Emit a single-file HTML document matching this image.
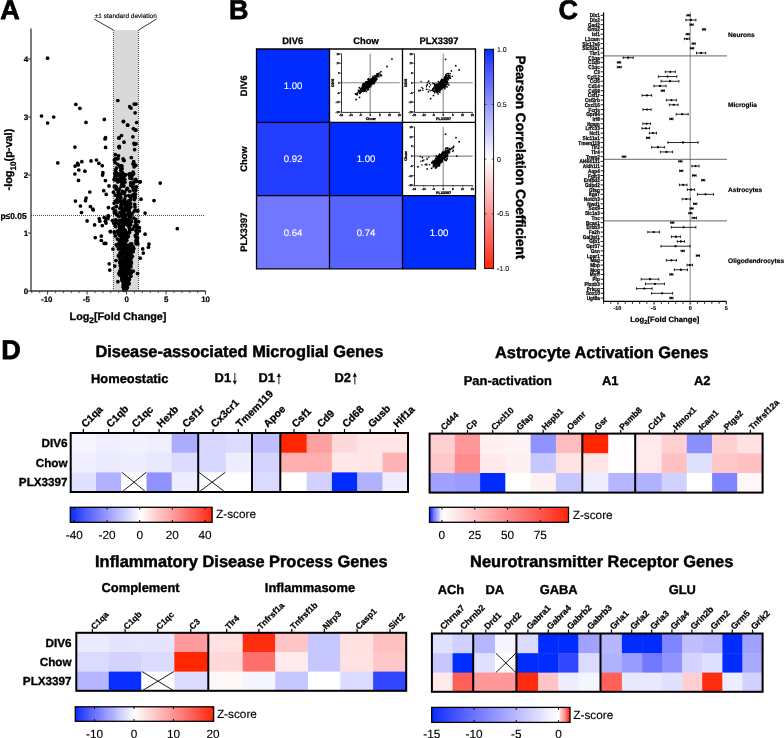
<!DOCTYPE html>
<html><head><meta charset="utf-8"><style>
html,body{margin:0;padding:0;background:#fff;width:784px;height:738px;overflow:hidden}
svg{display:block;font-family:"Liberation Sans",sans-serif;will-change:transform;text-rendering:geometricPrecision}
</style></head><body>
<svg width="784" height="738" viewBox="0 0 784 738">
<rect width="784" height="738" fill="#fff"/>
<text x="0.3" y="18.9" style="font-size:27px;font-weight:bold;" fill="#000" stroke="#000" stroke-width="0.76">A</text>
<rect x="113.4" y="30" width="25.2" height="261" fill="#d9d9d9"/>
<line x1="113.4" y1="30" x2="113.4" y2="291" stroke="#333" stroke-width="0.9" stroke-dasharray="1,1"/>
<line x1="138.6" y1="30" x2="138.6" y2="291" stroke="#333" stroke-width="0.9" stroke-dasharray="1,1"/>
<text x="125.8" y="17.6" style="font-size:6.5px;" text-anchor="middle" fill="#000" stroke="#000" stroke-width="0.15">&#177;1 standard deviation</text>
<line x1="94" y1="19" x2="113.4" y2="30" stroke="#111" stroke-width="0.85"/>
<line x1="156.5" y1="19" x2="138.6" y2="30" stroke="#111" stroke-width="0.85"/>
<line x1="31" y1="215.5" x2="204" y2="215.5" stroke="#333" stroke-width="0.9" stroke-dasharray="1,1"/>
<circle cx="47.6" cy="58.2" r="1.85" fill="#000"/>
<circle cx="75.8" cy="104.3" r="1.85" fill="#000"/>
<circle cx="79.9" cy="108.3" r="1.85" fill="#000"/>
<circle cx="41.5" cy="116" r="1.85" fill="#000"/>
<circle cx="53.7" cy="117" r="1.85" fill="#000"/>
<circle cx="47.6" cy="123" r="1.85" fill="#000"/>
<circle cx="86" cy="122.4" r="1.85" fill="#000"/>
<circle cx="104.3" cy="119.4" r="1.85" fill="#000"/>
<circle cx="117.8" cy="100.5" r="1.85" fill="#000"/>
<circle cx="129.7" cy="106.7" r="1.85" fill="#000"/>
<circle cx="131" cy="108.1" r="1.85" fill="#000"/>
<circle cx="123.5" cy="121.6" r="1.85" fill="#000"/>
<circle cx="127.6" cy="125" r="1.85" fill="#000"/>
<circle cx="105.6" cy="137.7" r="1.85" fill="#000"/>
<circle cx="105" cy="138.9" r="1.85" fill="#000"/>
<circle cx="74.9" cy="147.1" r="1.85" fill="#000"/>
<circle cx="105.6" cy="147.4" r="1.85" fill="#000"/>
<circle cx="57.8" cy="162.9" r="1.85" fill="#000"/>
<circle cx="77.6" cy="163.3" r="1.85" fill="#000"/>
<circle cx="75.1" cy="166.1" r="1.85" fill="#000"/>
<circle cx="78.2" cy="164.9" r="1.85" fill="#000"/>
<circle cx="81.8" cy="161.7" r="1.85" fill="#000"/>
<circle cx="91" cy="160.9" r="1.85" fill="#000"/>
<circle cx="96.5" cy="160" r="1.85" fill="#000"/>
<circle cx="98.9" cy="163.3" r="1.85" fill="#000"/>
<circle cx="102.2" cy="165.7" r="1.85" fill="#000"/>
<circle cx="78.8" cy="170" r="1.85" fill="#000"/>
<circle cx="84.9" cy="171.2" r="1.85" fill="#000"/>
<circle cx="74.9" cy="174" r="1.85" fill="#000"/>
<circle cx="102.9" cy="172.7" r="1.85" fill="#000"/>
<circle cx="102.6" cy="175.1" r="1.85" fill="#000"/>
<circle cx="78.5" cy="180.4" r="1.85" fill="#000"/>
<circle cx="105.4" cy="180.6" r="1.85" fill="#000"/>
<circle cx="109" cy="185.9" r="1.85" fill="#000"/>
<circle cx="89.8" cy="192" r="1.85" fill="#000"/>
<circle cx="103.8" cy="190.7" r="1.85" fill="#000"/>
<circle cx="106.2" cy="194.4" r="1.85" fill="#000"/>
<circle cx="75.4" cy="201.1" r="1.85" fill="#000"/>
<circle cx="86.1" cy="198" r="1.85" fill="#000"/>
<circle cx="85.5" cy="200.7" r="1.85" fill="#000"/>
<circle cx="80.4" cy="206" r="1.85" fill="#000"/>
<circle cx="90.4" cy="206.6" r="1.85" fill="#000"/>
<circle cx="92.8" cy="209" r="1.85" fill="#000"/>
<circle cx="108.4" cy="207.6" r="1.85" fill="#000"/>
<circle cx="93.3" cy="210" r="1.85" fill="#000"/>
<circle cx="81.5" cy="212.5" r="1.85" fill="#000"/>
<circle cx="99.2" cy="218.7" r="1.85" fill="#000"/>
<circle cx="99.8" cy="221.2" r="1.85" fill="#000"/>
<circle cx="104.2" cy="217.5" r="1.85" fill="#000"/>
<circle cx="108.5" cy="216.2" r="1.85" fill="#000"/>
<circle cx="107.9" cy="218.7" r="1.85" fill="#000"/>
<circle cx="105.4" cy="221.2" r="1.85" fill="#000"/>
<circle cx="106" cy="223.1" r="1.85" fill="#000"/>
<circle cx="112.3" cy="220.6" r="1.85" fill="#000"/>
<circle cx="87.1" cy="220.9" r="1.85" fill="#000"/>
<circle cx="94.6" cy="224.9" r="1.85" fill="#000"/>
<circle cx="102.3" cy="225.6" r="1.85" fill="#000"/>
<circle cx="110.4" cy="231.8" r="1.85" fill="#000"/>
<circle cx="95.3" cy="237.6" r="1.85" fill="#000"/>
<circle cx="101.3" cy="236.1" r="1.85" fill="#000"/>
<circle cx="101.3" cy="240.5" r="1.85" fill="#000"/>
<circle cx="104.2" cy="243.4" r="1.85" fill="#000"/>
<circle cx="105.8" cy="243.4" r="1.85" fill="#000"/>
<circle cx="112.9" cy="249" r="1.85" fill="#000"/>
<circle cx="109.2" cy="263.8" r="1.85" fill="#000"/>
<circle cx="109.8" cy="270.1" r="1.85" fill="#000"/>
<circle cx="114.8" cy="266.1" r="1.85" fill="#000"/>
<circle cx="116" cy="260.5" r="1.85" fill="#000"/>
<circle cx="117.9" cy="281.7" r="1.85" fill="#000"/>
<circle cx="134.2" cy="104.1" r="1.85" fill="#000"/>
<circle cx="135.1" cy="112.8" r="1.85" fill="#000"/>
<circle cx="123.4" cy="121.4" r="1.85" fill="#000"/>
<circle cx="127.7" cy="125.2" r="1.85" fill="#000"/>
<circle cx="136.7" cy="122.5" r="1.85" fill="#000"/>
<circle cx="133.4" cy="128.7" r="1.85" fill="#000"/>
<circle cx="135.3" cy="130.1" r="1.85" fill="#000"/>
<circle cx="121.5" cy="135.5" r="1.85" fill="#000"/>
<circle cx="119.1" cy="137.9" r="1.85" fill="#000"/>
<circle cx="132.9" cy="136.8" r="1.85" fill="#000"/>
<circle cx="124" cy="142.2" r="1.85" fill="#000"/>
<circle cx="134" cy="143.3" r="1.85" fill="#000"/>
<circle cx="134.5" cy="144.4" r="1.85" fill="#000"/>
<circle cx="119.3" cy="146.4" r="1.85" fill="#000"/>
<circle cx="119.3" cy="147.7" r="1.85" fill="#000"/>
<circle cx="134.6" cy="149.6" r="1.85" fill="#000"/>
<circle cx="115.3" cy="154.7" r="1.85" fill="#000"/>
<circle cx="118.5" cy="155.8" r="1.85" fill="#000"/>
<circle cx="118" cy="158.7" r="1.85" fill="#000"/>
<circle cx="131.3" cy="157.6" r="1.85" fill="#000"/>
<circle cx="133.7" cy="161.5" r="1.85" fill="#000"/>
<circle cx="118.8" cy="138" r="1.85" fill="#000"/>
<circle cx="118.8" cy="146.8" r="1.85" fill="#000"/>
<circle cx="136" cy="104" r="1.85" fill="#000"/>
<circle cx="136" cy="130" r="1.85" fill="#000"/>
<circle cx="136" cy="143.8" r="1.85" fill="#000"/>
<circle cx="140.2" cy="181.7" r="1.85" fill="#000"/>
<circle cx="160.2" cy="183.1" r="1.85" fill="#000"/>
<circle cx="141" cy="199.2" r="1.85" fill="#000"/>
<circle cx="154" cy="200.6" r="1.85" fill="#000"/>
<circle cx="145.1" cy="213.1" r="1.85" fill="#000"/>
<circle cx="138.6" cy="221.7" r="1.85" fill="#000"/>
<circle cx="139.4" cy="227.7" r="1.85" fill="#000"/>
<circle cx="139.4" cy="231" r="1.85" fill="#000"/>
<circle cx="145.1" cy="234.2" r="1.85" fill="#000"/>
<circle cx="177.3" cy="228.7" r="1.85" fill="#000"/>
<circle cx="139.8" cy="182.1" r="1.85" fill="#000"/>
<circle cx="149" cy="244.1" r="1.85" fill="#000"/>
<circle cx="148.4" cy="247.2" r="1.85" fill="#000"/>
<circle cx="142.7" cy="248.9" r="1.85" fill="#000"/>
<circle cx="143.3" cy="253.1" r="1.85" fill="#000"/>
<circle cx="140.2" cy="258.2" r="1.85" fill="#000"/>
<circle cx="137.6" cy="273.6" r="1.85" fill="#000"/>
<circle cx="106" cy="218.5" r="1.85" fill="#000"/>
<circle cx="108.2" cy="215.8" r="1.85" fill="#000"/>
<circle cx="110.4" cy="231.3" r="1.85" fill="#000"/>
<circle cx="115.09" cy="162.53" r="1.85" fill="#000"/>
<circle cx="121.03" cy="165.5" r="1.85" fill="#000"/>
<circle cx="123.06" cy="158.81" r="1.85" fill="#000"/>
<circle cx="115.95" cy="158.98" r="1.85" fill="#000"/>
<circle cx="134.11" cy="163.94" r="1.85" fill="#000"/>
<circle cx="134.1" cy="166.78" r="1.85" fill="#000"/>
<circle cx="121.96" cy="166.08" r="1.85" fill="#000"/>
<circle cx="115.42" cy="170.02" r="1.85" fill="#000"/>
<circle cx="114.31" cy="160.02" r="1.85" fill="#000"/>
<circle cx="124.08" cy="160.53" r="1.85" fill="#000"/>
<circle cx="120.98" cy="166.94" r="1.85" fill="#000"/>
<circle cx="115.31" cy="158.83" r="1.85" fill="#000"/>
<circle cx="120.72" cy="167.53" r="1.85" fill="#000"/>
<circle cx="117.7" cy="164.34" r="1.85" fill="#000"/>
<circle cx="121.57" cy="169.12" r="1.85" fill="#000"/>
<circle cx="135.87" cy="165.35" r="1.85" fill="#000"/>
<circle cx="116.4" cy="168.21" r="1.85" fill="#000"/>
<circle cx="132.86" cy="163.85" r="1.85" fill="#000"/>
<circle cx="123.66" cy="160.13" r="1.85" fill="#000"/>
<circle cx="122.04" cy="168.7" r="1.85" fill="#000"/>
<circle cx="120.82" cy="170.26" r="1.85" fill="#000"/>
<circle cx="119.6" cy="166.12" r="1.85" fill="#000"/>
<circle cx="128.71" cy="195.52" r="1.85" fill="#000"/>
<circle cx="133.12" cy="173.7" r="1.85" fill="#000"/>
<circle cx="133.43" cy="190.12" r="1.85" fill="#000"/>
<circle cx="130.59" cy="182.8" r="1.85" fill="#000"/>
<circle cx="122.44" cy="172.63" r="1.85" fill="#000"/>
<circle cx="133.63" cy="173.65" r="1.85" fill="#000"/>
<circle cx="124.31" cy="174.26" r="1.85" fill="#000"/>
<circle cx="134.69" cy="187.38" r="1.85" fill="#000"/>
<circle cx="118.74" cy="179.8" r="1.85" fill="#000"/>
<circle cx="133.94" cy="182.05" r="1.85" fill="#000"/>
<circle cx="115.2" cy="176.93" r="1.85" fill="#000"/>
<circle cx="120.81" cy="178.53" r="1.85" fill="#000"/>
<circle cx="121.25" cy="172.11" r="1.85" fill="#000"/>
<circle cx="124.64" cy="182.34" r="1.85" fill="#000"/>
<circle cx="121.2" cy="186.43" r="1.85" fill="#000"/>
<circle cx="118.31" cy="190.93" r="1.85" fill="#000"/>
<circle cx="129.83" cy="196.49" r="1.85" fill="#000"/>
<circle cx="124.03" cy="182.99" r="1.85" fill="#000"/>
<circle cx="117.22" cy="173.74" r="1.85" fill="#000"/>
<circle cx="115.15" cy="177.85" r="1.85" fill="#000"/>
<circle cx="116.05" cy="172.01" r="1.85" fill="#000"/>
<circle cx="125.62" cy="174.84" r="1.85" fill="#000"/>
<circle cx="116.15" cy="189.19" r="1.85" fill="#000"/>
<circle cx="121.39" cy="179.06" r="1.85" fill="#000"/>
<circle cx="133.5" cy="195.77" r="1.85" fill="#000"/>
<circle cx="122.72" cy="185.05" r="1.85" fill="#000"/>
<circle cx="122.43" cy="181.59" r="1.85" fill="#000"/>
<circle cx="120.36" cy="195.21" r="1.85" fill="#000"/>
<circle cx="116.21" cy="186.79" r="1.85" fill="#000"/>
<circle cx="131.23" cy="196.17" r="1.85" fill="#000"/>
<circle cx="123.54" cy="179.31" r="1.85" fill="#000"/>
<circle cx="136.38" cy="186.91" r="1.85" fill="#000"/>
<circle cx="117.68" cy="181.23" r="1.85" fill="#000"/>
<circle cx="125.52" cy="195.87" r="1.85" fill="#000"/>
<circle cx="132.96" cy="194.91" r="1.85" fill="#000"/>
<circle cx="117.89" cy="181.96" r="1.85" fill="#000"/>
<circle cx="121.84" cy="172.78" r="1.85" fill="#000"/>
<circle cx="124.76" cy="198.78" r="1.85" fill="#000"/>
<circle cx="134.88" cy="198.24" r="1.85" fill="#000"/>
<circle cx="114.97" cy="178.17" r="1.85" fill="#000"/>
<circle cx="119.28" cy="195.53" r="1.85" fill="#000"/>
<circle cx="135.79" cy="190.28" r="1.85" fill="#000"/>
<circle cx="134.44" cy="197.47" r="1.85" fill="#000"/>
<circle cx="123.38" cy="193" r="1.85" fill="#000"/>
<circle cx="136.63" cy="181.31" r="1.85" fill="#000"/>
<circle cx="118.45" cy="199.21" r="1.85" fill="#000"/>
<circle cx="118.31" cy="192.29" r="1.85" fill="#000"/>
<circle cx="118.5" cy="175.56" r="1.85" fill="#000"/>
<circle cx="129.85" cy="176.09" r="1.85" fill="#000"/>
<circle cx="130.57" cy="199.45" r="1.85" fill="#000"/>
<circle cx="117.54" cy="175.67" r="1.85" fill="#000"/>
<circle cx="117.87" cy="199.18" r="1.85" fill="#000"/>
<circle cx="131.49" cy="184.15" r="1.85" fill="#000"/>
<circle cx="115.48" cy="195.13" r="1.85" fill="#000"/>
<circle cx="123.5" cy="178.74" r="1.85" fill="#000"/>
<circle cx="124.68" cy="179.26" r="1.85" fill="#000"/>
<circle cx="124.9" cy="181.91" r="1.85" fill="#000"/>
<circle cx="127.4" cy="188.33" r="1.85" fill="#000"/>
<circle cx="123.92" cy="186.05" r="1.85" fill="#000"/>
<circle cx="114.32" cy="186.66" r="1.85" fill="#000"/>
<circle cx="133.11" cy="172.11" r="1.85" fill="#000"/>
<circle cx="121.64" cy="176.83" r="1.85" fill="#000"/>
<circle cx="119.73" cy="181.13" r="1.85" fill="#000"/>
<circle cx="135.12" cy="187.55" r="1.85" fill="#000"/>
<circle cx="123.43" cy="178.96" r="1.85" fill="#000"/>
<circle cx="119.18" cy="193.62" r="1.85" fill="#000"/>
<circle cx="120.85" cy="197.55" r="1.85" fill="#000"/>
<circle cx="119.24" cy="189.15" r="1.85" fill="#000"/>
<circle cx="121.79" cy="184.67" r="1.85" fill="#000"/>
<circle cx="130.83" cy="185.39" r="1.85" fill="#000"/>
<circle cx="118.5" cy="198.38" r="1.85" fill="#000"/>
<circle cx="133.26" cy="187.67" r="1.85" fill="#000"/>
<circle cx="121.17" cy="175.41" r="1.85" fill="#000"/>
<circle cx="118.17" cy="174.03" r="1.85" fill="#000"/>
<circle cx="134.22" cy="193.95" r="1.85" fill="#000"/>
<circle cx="131.73" cy="176.32" r="1.85" fill="#000"/>
<circle cx="131.28" cy="196.72" r="1.85" fill="#000"/>
<circle cx="130.09" cy="178.15" r="1.85" fill="#000"/>
<circle cx="134.29" cy="199.72" r="1.85" fill="#000"/>
<circle cx="120.37" cy="176.52" r="1.85" fill="#000"/>
<circle cx="121.84" cy="177.48" r="1.85" fill="#000"/>
<circle cx="113.47" cy="192.22" r="1.85" fill="#000"/>
<circle cx="121.35" cy="172.51" r="1.85" fill="#000"/>
<circle cx="126.8" cy="189.47" r="1.85" fill="#000"/>
<circle cx="135.46" cy="194.07" r="1.85" fill="#000"/>
<circle cx="125.03" cy="174.93" r="1.85" fill="#000"/>
<circle cx="116.36" cy="179.57" r="1.85" fill="#000"/>
<circle cx="133.34" cy="183.82" r="1.85" fill="#000"/>
<circle cx="130.67" cy="176.18" r="1.85" fill="#000"/>
<circle cx="133.26" cy="187.98" r="1.85" fill="#000"/>
<circle cx="122.33" cy="191.27" r="1.85" fill="#000"/>
<circle cx="129.4" cy="174.03" r="1.85" fill="#000"/>
<circle cx="129" cy="174.34" r="1.85" fill="#000"/>
<circle cx="130.23" cy="173.87" r="1.85" fill="#000"/>
<circle cx="133.18" cy="187.49" r="1.85" fill="#000"/>
<circle cx="114.04" cy="179.5" r="1.85" fill="#000"/>
<circle cx="115.25" cy="175.06" r="1.85" fill="#000"/>
<circle cx="114.85" cy="173.41" r="1.85" fill="#000"/>
<circle cx="123.42" cy="193.27" r="1.85" fill="#000"/>
<circle cx="115.28" cy="186" r="1.85" fill="#000"/>
<circle cx="115.81" cy="179.01" r="1.85" fill="#000"/>
<circle cx="122.76" cy="192.53" r="1.85" fill="#000"/>
<circle cx="117.61" cy="198.17" r="1.85" fill="#000"/>
<circle cx="118.59" cy="194.93" r="1.85" fill="#000"/>
<circle cx="122.11" cy="183.01" r="1.85" fill="#000"/>
<circle cx="129.8" cy="191.26" r="1.85" fill="#000"/>
<circle cx="124.84" cy="191.79" r="1.85" fill="#000"/>
<circle cx="122.89" cy="183.33" r="1.85" fill="#000"/>
<circle cx="132.96" cy="173.98" r="1.85" fill="#000"/>
<circle cx="118.81" cy="179.16" r="1.85" fill="#000"/>
<circle cx="135.03" cy="196.38" r="1.85" fill="#000"/>
<circle cx="114.91" cy="179.89" r="1.85" fill="#000"/>
<circle cx="123.92" cy="176.41" r="1.85" fill="#000"/>
<circle cx="135.72" cy="179.37" r="1.85" fill="#000"/>
<circle cx="131.94" cy="178.84" r="1.85" fill="#000"/>
<circle cx="130.88" cy="206.81" r="1.85" fill="#000"/>
<circle cx="125.04" cy="210.44" r="1.85" fill="#000"/>
<circle cx="129.7" cy="204.42" r="1.85" fill="#000"/>
<circle cx="125.15" cy="201.97" r="1.85" fill="#000"/>
<circle cx="123.54" cy="200.92" r="1.85" fill="#000"/>
<circle cx="129.12" cy="212.88" r="1.85" fill="#000"/>
<circle cx="122.38" cy="216.51" r="1.85" fill="#000"/>
<circle cx="112.95" cy="208.57" r="1.85" fill="#000"/>
<circle cx="123.61" cy="221.66" r="1.85" fill="#000"/>
<circle cx="116.5" cy="200.96" r="1.85" fill="#000"/>
<circle cx="123.89" cy="219.62" r="1.85" fill="#000"/>
<circle cx="114.08" cy="203.06" r="1.85" fill="#000"/>
<circle cx="128.78" cy="211.1" r="1.85" fill="#000"/>
<circle cx="114.43" cy="212.85" r="1.85" fill="#000"/>
<circle cx="125.19" cy="215.02" r="1.85" fill="#000"/>
<circle cx="126.5" cy="202.93" r="1.85" fill="#000"/>
<circle cx="117.13" cy="202.31" r="1.85" fill="#000"/>
<circle cx="121.97" cy="213.78" r="1.85" fill="#000"/>
<circle cx="127.94" cy="210.76" r="1.85" fill="#000"/>
<circle cx="115.48" cy="211.07" r="1.85" fill="#000"/>
<circle cx="124.62" cy="214.5" r="1.85" fill="#000"/>
<circle cx="120.44" cy="201.64" r="1.85" fill="#000"/>
<circle cx="123.95" cy="216.05" r="1.85" fill="#000"/>
<circle cx="125.88" cy="210.54" r="1.85" fill="#000"/>
<circle cx="116.73" cy="214.14" r="1.85" fill="#000"/>
<circle cx="124.78" cy="203.24" r="1.85" fill="#000"/>
<circle cx="119.89" cy="212.49" r="1.85" fill="#000"/>
<circle cx="120.66" cy="201.33" r="1.85" fill="#000"/>
<circle cx="116.87" cy="214.87" r="1.85" fill="#000"/>
<circle cx="122.05" cy="211.36" r="1.85" fill="#000"/>
<circle cx="125.63" cy="219.66" r="1.85" fill="#000"/>
<circle cx="131.61" cy="221.52" r="1.85" fill="#000"/>
<circle cx="125.73" cy="218.04" r="1.85" fill="#000"/>
<circle cx="128.61" cy="209.89" r="1.85" fill="#000"/>
<circle cx="128.06" cy="203.12" r="1.85" fill="#000"/>
<circle cx="124.06" cy="218.04" r="1.85" fill="#000"/>
<circle cx="126.5" cy="219.51" r="1.85" fill="#000"/>
<circle cx="137.72" cy="210.7" r="1.85" fill="#000"/>
<circle cx="120.15" cy="200.08" r="1.85" fill="#000"/>
<circle cx="126.55" cy="203.1" r="1.85" fill="#000"/>
<circle cx="135" cy="206.95" r="1.85" fill="#000"/>
<circle cx="125.11" cy="218.46" r="1.85" fill="#000"/>
<circle cx="129.04" cy="220.38" r="1.85" fill="#000"/>
<circle cx="122.12" cy="208.19" r="1.85" fill="#000"/>
<circle cx="120.94" cy="221.97" r="1.85" fill="#000"/>
<circle cx="129.87" cy="206.05" r="1.85" fill="#000"/>
<circle cx="121.88" cy="202.24" r="1.85" fill="#000"/>
<circle cx="114.5" cy="211.24" r="1.85" fill="#000"/>
<circle cx="135.72" cy="219.45" r="1.85" fill="#000"/>
<circle cx="132.05" cy="213.88" r="1.85" fill="#000"/>
<circle cx="122.24" cy="215.83" r="1.85" fill="#000"/>
<circle cx="125.14" cy="216.11" r="1.85" fill="#000"/>
<circle cx="116.37" cy="206.3" r="1.85" fill="#000"/>
<circle cx="119.58" cy="220.39" r="1.85" fill="#000"/>
<circle cx="125.96" cy="206.55" r="1.85" fill="#000"/>
<circle cx="122.17" cy="221.48" r="1.85" fill="#000"/>
<circle cx="120.78" cy="212.26" r="1.85" fill="#000"/>
<circle cx="128.41" cy="203.68" r="1.85" fill="#000"/>
<circle cx="137.59" cy="210.94" r="1.85" fill="#000"/>
<circle cx="121.87" cy="219.94" r="1.85" fill="#000"/>
<circle cx="126.02" cy="204.23" r="1.85" fill="#000"/>
<circle cx="125.32" cy="207.52" r="1.85" fill="#000"/>
<circle cx="129.63" cy="212.53" r="1.85" fill="#000"/>
<circle cx="118.73" cy="216.49" r="1.85" fill="#000"/>
<circle cx="128.77" cy="208.29" r="1.85" fill="#000"/>
<circle cx="128.05" cy="201.37" r="1.85" fill="#000"/>
<circle cx="124.37" cy="211.07" r="1.85" fill="#000"/>
<circle cx="124.4" cy="218.98" r="1.85" fill="#000"/>
<circle cx="129.5" cy="208.79" r="1.85" fill="#000"/>
<circle cx="125.88" cy="220.99" r="1.85" fill="#000"/>
<circle cx="124.1" cy="200.71" r="1.85" fill="#000"/>
<circle cx="124.9" cy="219.71" r="1.85" fill="#000"/>
<circle cx="124.94" cy="208.61" r="1.85" fill="#000"/>
<circle cx="129.47" cy="218.16" r="1.85" fill="#000"/>
<circle cx="124.21" cy="202.4" r="1.85" fill="#000"/>
<circle cx="133.96" cy="211.49" r="1.85" fill="#000"/>
<circle cx="121.55" cy="214.24" r="1.85" fill="#000"/>
<circle cx="135.16" cy="210.06" r="1.85" fill="#000"/>
<circle cx="127.58" cy="205.12" r="1.85" fill="#000"/>
<circle cx="128.17" cy="214.2" r="1.85" fill="#000"/>
<circle cx="128.29" cy="214" r="1.85" fill="#000"/>
<circle cx="117.16" cy="202.47" r="1.85" fill="#000"/>
<circle cx="123.79" cy="208.54" r="1.85" fill="#000"/>
<circle cx="122.88" cy="213.22" r="1.85" fill="#000"/>
<circle cx="131.32" cy="221.1" r="1.85" fill="#000"/>
<circle cx="125.43" cy="219.44" r="1.85" fill="#000"/>
<circle cx="129.5" cy="221.13" r="1.85" fill="#000"/>
<circle cx="116.01" cy="206.76" r="1.85" fill="#000"/>
<circle cx="125.1" cy="209.24" r="1.85" fill="#000"/>
<circle cx="125.23" cy="214.68" r="1.85" fill="#000"/>
<circle cx="126.56" cy="207.44" r="1.85" fill="#000"/>
<circle cx="127.87" cy="215.02" r="1.85" fill="#000"/>
<circle cx="115.59" cy="211.11" r="1.85" fill="#000"/>
<circle cx="126.85" cy="221.34" r="1.85" fill="#000"/>
<circle cx="121.07" cy="204.87" r="1.85" fill="#000"/>
<circle cx="121.14" cy="206.49" r="1.85" fill="#000"/>
<circle cx="125.1" cy="204.91" r="1.85" fill="#000"/>
<circle cx="128.64" cy="214.64" r="1.85" fill="#000"/>
<circle cx="129.77" cy="204.68" r="1.85" fill="#000"/>
<circle cx="130.58" cy="203.12" r="1.85" fill="#000"/>
<circle cx="127.21" cy="219.76" r="1.85" fill="#000"/>
<circle cx="129.87" cy="216.12" r="1.85" fill="#000"/>
<circle cx="122.77" cy="204.08" r="1.85" fill="#000"/>
<circle cx="122" cy="216.42" r="1.85" fill="#000"/>
<circle cx="119.97" cy="208.23" r="1.85" fill="#000"/>
<circle cx="123.96" cy="203.72" r="1.85" fill="#000"/>
<circle cx="130.49" cy="221.02" r="1.85" fill="#000"/>
<circle cx="118.08" cy="221.21" r="1.85" fill="#000"/>
<circle cx="133.73" cy="218.08" r="1.85" fill="#000"/>
<circle cx="115.61" cy="201.08" r="1.85" fill="#000"/>
<circle cx="134.66" cy="204.25" r="1.85" fill="#000"/>
<circle cx="115.71" cy="219.73" r="1.85" fill="#000"/>
<circle cx="130.83" cy="216.87" r="1.85" fill="#000"/>
<circle cx="129.05" cy="200.77" r="1.85" fill="#000"/>
<circle cx="122.77" cy="216.44" r="1.85" fill="#000"/>
<circle cx="129.68" cy="229.8" r="1.85" fill="#000"/>
<circle cx="121.18" cy="228.03" r="1.85" fill="#000"/>
<circle cx="131.39" cy="229.28" r="1.85" fill="#000"/>
<circle cx="123.2" cy="243.08" r="1.85" fill="#000"/>
<circle cx="123.57" cy="243.69" r="1.85" fill="#000"/>
<circle cx="137.86" cy="244.01" r="1.85" fill="#000"/>
<circle cx="117.72" cy="230.89" r="1.85" fill="#000"/>
<circle cx="125.49" cy="243.35" r="1.85" fill="#000"/>
<circle cx="126.8" cy="240.46" r="1.85" fill="#000"/>
<circle cx="115.28" cy="235.97" r="1.85" fill="#000"/>
<circle cx="123.41" cy="229.35" r="1.85" fill="#000"/>
<circle cx="121.01" cy="226.54" r="1.85" fill="#000"/>
<circle cx="129.2" cy="227.69" r="1.85" fill="#000"/>
<circle cx="136.82" cy="229.49" r="1.85" fill="#000"/>
<circle cx="136.45" cy="242.32" r="1.85" fill="#000"/>
<circle cx="125.09" cy="224.22" r="1.85" fill="#000"/>
<circle cx="123.51" cy="238.32" r="1.85" fill="#000"/>
<circle cx="128.17" cy="236.27" r="1.85" fill="#000"/>
<circle cx="121.7" cy="239.2" r="1.85" fill="#000"/>
<circle cx="120.82" cy="241.34" r="1.85" fill="#000"/>
<circle cx="122.75" cy="235.04" r="1.85" fill="#000"/>
<circle cx="119.68" cy="227.69" r="1.85" fill="#000"/>
<circle cx="135.56" cy="225.53" r="1.85" fill="#000"/>
<circle cx="136" cy="231.11" r="1.85" fill="#000"/>
<circle cx="125.61" cy="233.67" r="1.85" fill="#000"/>
<circle cx="116.21" cy="244.79" r="1.85" fill="#000"/>
<circle cx="128.97" cy="232.92" r="1.85" fill="#000"/>
<circle cx="113.66" cy="222.93" r="1.85" fill="#000"/>
<circle cx="129.52" cy="224.74" r="1.85" fill="#000"/>
<circle cx="121.88" cy="243.39" r="1.85" fill="#000"/>
<circle cx="122.46" cy="241.92" r="1.85" fill="#000"/>
<circle cx="131.66" cy="243.75" r="1.85" fill="#000"/>
<circle cx="123.97" cy="235.71" r="1.85" fill="#000"/>
<circle cx="127.7" cy="225.25" r="1.85" fill="#000"/>
<circle cx="121.05" cy="227.86" r="1.85" fill="#000"/>
<circle cx="120.25" cy="222.26" r="1.85" fill="#000"/>
<circle cx="121.72" cy="237.6" r="1.85" fill="#000"/>
<circle cx="126.12" cy="240.29" r="1.85" fill="#000"/>
<circle cx="118" cy="223.46" r="1.85" fill="#000"/>
<circle cx="126.86" cy="236.7" r="1.85" fill="#000"/>
<circle cx="119.56" cy="225.76" r="1.85" fill="#000"/>
<circle cx="137.03" cy="229.07" r="1.85" fill="#000"/>
<circle cx="119.76" cy="229.18" r="1.85" fill="#000"/>
<circle cx="137.47" cy="241.88" r="1.85" fill="#000"/>
<circle cx="122.54" cy="230.37" r="1.85" fill="#000"/>
<circle cx="135.7" cy="222.14" r="1.85" fill="#000"/>
<circle cx="114.39" cy="231.75" r="1.85" fill="#000"/>
<circle cx="128.75" cy="232.6" r="1.85" fill="#000"/>
<circle cx="116.04" cy="222.34" r="1.85" fill="#000"/>
<circle cx="114.52" cy="224.05" r="1.85" fill="#000"/>
<circle cx="125.48" cy="230.53" r="1.85" fill="#000"/>
<circle cx="137.28" cy="233.99" r="1.85" fill="#000"/>
<circle cx="127.41" cy="224.5" r="1.85" fill="#000"/>
<circle cx="136.1" cy="243.69" r="1.85" fill="#000"/>
<circle cx="123.18" cy="243.3" r="1.85" fill="#000"/>
<circle cx="124.33" cy="242.8" r="1.85" fill="#000"/>
<circle cx="120.36" cy="240.07" r="1.85" fill="#000"/>
<circle cx="124.52" cy="231.3" r="1.85" fill="#000"/>
<circle cx="120.21" cy="227.02" r="1.85" fill="#000"/>
<circle cx="125.7" cy="233.91" r="1.85" fill="#000"/>
<circle cx="137.13" cy="238.67" r="1.85" fill="#000"/>
<circle cx="123.07" cy="222.95" r="1.85" fill="#000"/>
<circle cx="121.61" cy="241.28" r="1.85" fill="#000"/>
<circle cx="120.02" cy="235.79" r="1.85" fill="#000"/>
<circle cx="119.94" cy="231.66" r="1.85" fill="#000"/>
<circle cx="117.93" cy="231.79" r="1.85" fill="#000"/>
<circle cx="124.76" cy="222.54" r="1.85" fill="#000"/>
<circle cx="123.74" cy="233.26" r="1.85" fill="#000"/>
<circle cx="114.33" cy="232.54" r="1.85" fill="#000"/>
<circle cx="126.67" cy="232.88" r="1.85" fill="#000"/>
<circle cx="126.83" cy="224.11" r="1.85" fill="#000"/>
<circle cx="121.64" cy="233.73" r="1.85" fill="#000"/>
<circle cx="121.43" cy="238.87" r="1.85" fill="#000"/>
<circle cx="118.13" cy="233.76" r="1.85" fill="#000"/>
<circle cx="122.88" cy="243.87" r="1.85" fill="#000"/>
<circle cx="136.25" cy="241.71" r="1.85" fill="#000"/>
<circle cx="134.31" cy="226.46" r="1.85" fill="#000"/>
<circle cx="137.12" cy="233.31" r="1.85" fill="#000"/>
<circle cx="136.14" cy="240.13" r="1.85" fill="#000"/>
<circle cx="123.11" cy="223.51" r="1.85" fill="#000"/>
<circle cx="120.06" cy="242.62" r="1.85" fill="#000"/>
<circle cx="122.84" cy="226.79" r="1.85" fill="#000"/>
<circle cx="126.09" cy="233.64" r="1.85" fill="#000"/>
<circle cx="136.67" cy="225.71" r="1.85" fill="#000"/>
<circle cx="137.53" cy="237.63" r="1.85" fill="#000"/>
<circle cx="130.65" cy="224.65" r="1.85" fill="#000"/>
<circle cx="127.44" cy="236.64" r="1.85" fill="#000"/>
<circle cx="135.41" cy="235.34" r="1.85" fill="#000"/>
<circle cx="135.68" cy="224.41" r="1.85" fill="#000"/>
<circle cx="119.36" cy="240.35" r="1.85" fill="#000"/>
<circle cx="117.57" cy="244.78" r="1.85" fill="#000"/>
<circle cx="129.54" cy="232.17" r="1.85" fill="#000"/>
<circle cx="124.62" cy="239.1" r="1.85" fill="#000"/>
<circle cx="135.67" cy="236.7" r="1.85" fill="#000"/>
<circle cx="122.89" cy="235.48" r="1.85" fill="#000"/>
<circle cx="123.28" cy="222.78" r="1.85" fill="#000"/>
<circle cx="122.15" cy="225.04" r="1.85" fill="#000"/>
<circle cx="127.68" cy="237.02" r="1.85" fill="#000"/>
<circle cx="123.08" cy="224.45" r="1.85" fill="#000"/>
<circle cx="120.14" cy="227.16" r="1.85" fill="#000"/>
<circle cx="121.21" cy="236.35" r="1.85" fill="#000"/>
<circle cx="136.53" cy="225.1" r="1.85" fill="#000"/>
<circle cx="125.84" cy="224.2" r="1.85" fill="#000"/>
<circle cx="119.8" cy="242.04" r="1.85" fill="#000"/>
<circle cx="125.26" cy="222.26" r="1.85" fill="#000"/>
<circle cx="119.7" cy="234.93" r="1.85" fill="#000"/>
<circle cx="118.71" cy="243.55" r="1.85" fill="#000"/>
<circle cx="137.92" cy="227.72" r="1.85" fill="#000"/>
<circle cx="124.68" cy="231.34" r="1.85" fill="#000"/>
<circle cx="129.31" cy="223.34" r="1.85" fill="#000"/>
<circle cx="123.49" cy="243.64" r="1.85" fill="#000"/>
<circle cx="115.84" cy="226.59" r="1.85" fill="#000"/>
<circle cx="122.69" cy="240.71" r="1.85" fill="#000"/>
<circle cx="133.01" cy="229.12" r="1.85" fill="#000"/>
<circle cx="126.15" cy="240.01" r="1.85" fill="#000"/>
<circle cx="122.83" cy="222.15" r="1.85" fill="#000"/>
<circle cx="117.41" cy="239.06" r="1.85" fill="#000"/>
<circle cx="123.16" cy="227.2" r="1.85" fill="#000"/>
<circle cx="124.4" cy="229.72" r="1.85" fill="#000"/>
<circle cx="122.06" cy="237.99" r="1.85" fill="#000"/>
<circle cx="119.18" cy="234.74" r="1.85" fill="#000"/>
<circle cx="122.31" cy="240.13" r="1.85" fill="#000"/>
<circle cx="130.13" cy="244.2" r="1.85" fill="#000"/>
<circle cx="122.76" cy="242.24" r="1.85" fill="#000"/>
<circle cx="137.38" cy="239.11" r="1.85" fill="#000"/>
<circle cx="128.3" cy="257.68" r="1.85" fill="#000"/>
<circle cx="122.88" cy="249.07" r="1.85" fill="#000"/>
<circle cx="119.43" cy="255.72" r="1.85" fill="#000"/>
<circle cx="119.12" cy="256.86" r="1.85" fill="#000"/>
<circle cx="128.15" cy="254.7" r="1.85" fill="#000"/>
<circle cx="133.85" cy="248.6" r="1.85" fill="#000"/>
<circle cx="129.94" cy="247.46" r="1.85" fill="#000"/>
<circle cx="124.16" cy="246.81" r="1.85" fill="#000"/>
<circle cx="127.47" cy="245.49" r="1.85" fill="#000"/>
<circle cx="123.2" cy="256.77" r="1.85" fill="#000"/>
<circle cx="118.86" cy="246.12" r="1.85" fill="#000"/>
<circle cx="129.33" cy="251.18" r="1.85" fill="#000"/>
<circle cx="117.29" cy="246.12" r="1.85" fill="#000"/>
<circle cx="127.78" cy="260.54" r="1.85" fill="#000"/>
<circle cx="127.32" cy="246.9" r="1.85" fill="#000"/>
<circle cx="120.16" cy="259.41" r="1.85" fill="#000"/>
<circle cx="119.5" cy="255.74" r="1.85" fill="#000"/>
<circle cx="125.63" cy="246.7" r="1.85" fill="#000"/>
<circle cx="122.59" cy="250.43" r="1.85" fill="#000"/>
<circle cx="124.11" cy="245.36" r="1.85" fill="#000"/>
<circle cx="132.18" cy="251.26" r="1.85" fill="#000"/>
<circle cx="129.05" cy="261.39" r="1.85" fill="#000"/>
<circle cx="120.7" cy="245.53" r="1.85" fill="#000"/>
<circle cx="121.66" cy="252.42" r="1.85" fill="#000"/>
<circle cx="131.01" cy="254.14" r="1.85" fill="#000"/>
<circle cx="126.62" cy="259.66" r="1.85" fill="#000"/>
<circle cx="123.12" cy="245.02" r="1.85" fill="#000"/>
<circle cx="130.49" cy="257.96" r="1.85" fill="#000"/>
<circle cx="125.64" cy="253.36" r="1.85" fill="#000"/>
<circle cx="120.84" cy="248.14" r="1.85" fill="#000"/>
<circle cx="132.15" cy="249.43" r="1.85" fill="#000"/>
<circle cx="123.92" cy="249.82" r="1.85" fill="#000"/>
<circle cx="120.7" cy="246.87" r="1.85" fill="#000"/>
<circle cx="123.04" cy="246.38" r="1.85" fill="#000"/>
<circle cx="118.35" cy="255.67" r="1.85" fill="#000"/>
<circle cx="126.91" cy="251.82" r="1.85" fill="#000"/>
<circle cx="124.34" cy="260.1" r="1.85" fill="#000"/>
<circle cx="129.63" cy="248.5" r="1.85" fill="#000"/>
<circle cx="122.55" cy="251.45" r="1.85" fill="#000"/>
<circle cx="118.43" cy="248.97" r="1.85" fill="#000"/>
<circle cx="124.08" cy="257.8" r="1.85" fill="#000"/>
<circle cx="130.14" cy="250.92" r="1.85" fill="#000"/>
<circle cx="132.35" cy="256.26" r="1.85" fill="#000"/>
<circle cx="126.33" cy="247.88" r="1.85" fill="#000"/>
<circle cx="119.9" cy="247.14" r="1.85" fill="#000"/>
<circle cx="126.81" cy="260.05" r="1.85" fill="#000"/>
<circle cx="128.9" cy="256.95" r="1.85" fill="#000"/>
<circle cx="125.56" cy="247.63" r="1.85" fill="#000"/>
<circle cx="129.32" cy="253.88" r="1.85" fill="#000"/>
<circle cx="132.36" cy="250.58" r="1.85" fill="#000"/>
<circle cx="124.42" cy="246.73" r="1.85" fill="#000"/>
<circle cx="133.11" cy="246.73" r="1.85" fill="#000"/>
<circle cx="124.72" cy="257.47" r="1.85" fill="#000"/>
<circle cx="127.79" cy="248.34" r="1.85" fill="#000"/>
<circle cx="127.32" cy="251.6" r="1.85" fill="#000"/>
<circle cx="123.74" cy="251.78" r="1.85" fill="#000"/>
<circle cx="120.75" cy="255.75" r="1.85" fill="#000"/>
<circle cx="119.66" cy="247.41" r="1.85" fill="#000"/>
<circle cx="129.48" cy="260.44" r="1.85" fill="#000"/>
<circle cx="122.77" cy="254.76" r="1.85" fill="#000"/>
<circle cx="126.97" cy="257.28" r="1.85" fill="#000"/>
<circle cx="129.39" cy="258.16" r="1.85" fill="#000"/>
<circle cx="120.31" cy="255.91" r="1.85" fill="#000"/>
<circle cx="129.16" cy="250.32" r="1.85" fill="#000"/>
<circle cx="128.09" cy="258.3" r="1.85" fill="#000"/>
<circle cx="121.3" cy="255.7" r="1.85" fill="#000"/>
<circle cx="127.69" cy="255.57" r="1.85" fill="#000"/>
<circle cx="128.06" cy="256.48" r="1.85" fill="#000"/>
<circle cx="131.22" cy="258.23" r="1.85" fill="#000"/>
<circle cx="130.73" cy="253.33" r="1.85" fill="#000"/>
<circle cx="126.78" cy="247.73" r="1.85" fill="#000"/>
<circle cx="130.03" cy="260.99" r="1.85" fill="#000"/>
<circle cx="128.84" cy="254.2" r="1.85" fill="#000"/>
<circle cx="127.99" cy="253.71" r="1.85" fill="#000"/>
<circle cx="120.91" cy="251.98" r="1.85" fill="#000"/>
<circle cx="119.81" cy="248.57" r="1.85" fill="#000"/>
<circle cx="130.06" cy="247.08" r="1.85" fill="#000"/>
<circle cx="124.84" cy="251.04" r="1.85" fill="#000"/>
<circle cx="129.79" cy="245.23" r="1.85" fill="#000"/>
<circle cx="123.48" cy="252.15" r="1.85" fill="#000"/>
<circle cx="128.2" cy="248.82" r="1.85" fill="#000"/>
<circle cx="127" cy="260.98" r="1.85" fill="#000"/>
<circle cx="133.09" cy="251.66" r="1.85" fill="#000"/>
<circle cx="127.73" cy="247.2" r="1.85" fill="#000"/>
<circle cx="119.82" cy="252.98" r="1.85" fill="#000"/>
<circle cx="121.8" cy="248.84" r="1.85" fill="#000"/>
<circle cx="130.39" cy="258.92" r="1.85" fill="#000"/>
<circle cx="123.38" cy="252.96" r="1.85" fill="#000"/>
<circle cx="124.84" cy="259.17" r="1.85" fill="#000"/>
<circle cx="123.16" cy="259.46" r="1.85" fill="#000"/>
<circle cx="127.81" cy="252.24" r="1.85" fill="#000"/>
<circle cx="124.87" cy="245.05" r="1.85" fill="#000"/>
<circle cx="128.66" cy="250.13" r="1.85" fill="#000"/>
<circle cx="123.3" cy="252.28" r="1.85" fill="#000"/>
<circle cx="122.07" cy="260.79" r="1.85" fill="#000"/>
<circle cx="131.75" cy="245.97" r="1.85" fill="#000"/>
<circle cx="121.3" cy="247.39" r="1.85" fill="#000"/>
<circle cx="126.26" cy="256.15" r="1.85" fill="#000"/>
<circle cx="126.26" cy="246.73" r="1.85" fill="#000"/>
<circle cx="132.9" cy="250.89" r="1.85" fill="#000"/>
<circle cx="128.92" cy="278.27" r="1.85" fill="#000"/>
<circle cx="131.3" cy="272.95" r="1.85" fill="#000"/>
<circle cx="127.16" cy="274.03" r="1.85" fill="#000"/>
<circle cx="120.23" cy="265.55" r="1.85" fill="#000"/>
<circle cx="120.05" cy="271.55" r="1.85" fill="#000"/>
<circle cx="128.14" cy="271.99" r="1.85" fill="#000"/>
<circle cx="124.76" cy="266.22" r="1.85" fill="#000"/>
<circle cx="125.85" cy="270.41" r="1.85" fill="#000"/>
<circle cx="120" cy="270.84" r="1.85" fill="#000"/>
<circle cx="124.33" cy="262.12" r="1.85" fill="#000"/>
<circle cx="122.88" cy="270.42" r="1.85" fill="#000"/>
<circle cx="120.85" cy="268.75" r="1.85" fill="#000"/>
<circle cx="123.02" cy="279.29" r="1.85" fill="#000"/>
<circle cx="122.56" cy="262.51" r="1.85" fill="#000"/>
<circle cx="121.69" cy="274.29" r="1.85" fill="#000"/>
<circle cx="133.23" cy="271.19" r="1.85" fill="#000"/>
<circle cx="124.97" cy="278.16" r="1.85" fill="#000"/>
<circle cx="121.68" cy="268.09" r="1.85" fill="#000"/>
<circle cx="120.72" cy="268.59" r="1.85" fill="#000"/>
<circle cx="124.98" cy="265.79" r="1.85" fill="#000"/>
<circle cx="126.96" cy="269.6" r="1.85" fill="#000"/>
<circle cx="123.59" cy="276.9" r="1.85" fill="#000"/>
<circle cx="125.47" cy="273.78" r="1.85" fill="#000"/>
<circle cx="124.59" cy="267.96" r="1.85" fill="#000"/>
<circle cx="129.6" cy="273.43" r="1.85" fill="#000"/>
<circle cx="128.64" cy="262.72" r="1.85" fill="#000"/>
<circle cx="123.32" cy="262.89" r="1.85" fill="#000"/>
<circle cx="129.42" cy="262.11" r="1.85" fill="#000"/>
<circle cx="123.85" cy="273.84" r="1.85" fill="#000"/>
<circle cx="122.67" cy="278.38" r="1.85" fill="#000"/>
<circle cx="122.98" cy="274.54" r="1.85" fill="#000"/>
<circle cx="124.15" cy="274.26" r="1.85" fill="#000"/>
<circle cx="122.92" cy="275.73" r="1.85" fill="#000"/>
<circle cx="126.82" cy="265.26" r="1.85" fill="#000"/>
<circle cx="119.23" cy="273.8" r="1.85" fill="#000"/>
<circle cx="123.66" cy="276.81" r="1.85" fill="#000"/>
<circle cx="124.92" cy="267.44" r="1.85" fill="#000"/>
<circle cx="121.4" cy="267.73" r="1.85" fill="#000"/>
<circle cx="120.36" cy="262.98" r="1.85" fill="#000"/>
<circle cx="127.25" cy="262.71" r="1.85" fill="#000"/>
<circle cx="122.15" cy="278.54" r="1.85" fill="#000"/>
<circle cx="119.88" cy="262.25" r="1.85" fill="#000"/>
<circle cx="121.94" cy="279.65" r="1.85" fill="#000"/>
<circle cx="124.52" cy="269.42" r="1.85" fill="#000"/>
<circle cx="124.17" cy="264.73" r="1.85" fill="#000"/>
<circle cx="131.44" cy="262.09" r="1.85" fill="#000"/>
<circle cx="131.21" cy="263.59" r="1.85" fill="#000"/>
<circle cx="125.37" cy="264.32" r="1.85" fill="#000"/>
<circle cx="123.61" cy="275.2" r="1.85" fill="#000"/>
<circle cx="124.46" cy="262.9" r="1.85" fill="#000"/>
<circle cx="120.05" cy="275.13" r="1.85" fill="#000"/>
<circle cx="119.05" cy="273.32" r="1.85" fill="#000"/>
<circle cx="127.51" cy="266.57" r="1.85" fill="#000"/>
<circle cx="130.13" cy="274.91" r="1.85" fill="#000"/>
<circle cx="126.2" cy="276.71" r="1.85" fill="#000"/>
<circle cx="128.8" cy="267.6" r="1.85" fill="#000"/>
<circle cx="130.95" cy="270.75" r="1.85" fill="#000"/>
<circle cx="121.62" cy="268.62" r="1.85" fill="#000"/>
<circle cx="127.49" cy="264.61" r="1.85" fill="#000"/>
<circle cx="123.66" cy="268.54" r="1.85" fill="#000"/>
<circle cx="123.53" cy="268.94" r="1.85" fill="#000"/>
<circle cx="123.52" cy="279.01" r="1.85" fill="#000"/>
<circle cx="124.78" cy="263.09" r="1.85" fill="#000"/>
<circle cx="123.78" cy="274.66" r="1.85" fill="#000"/>
<circle cx="129.36" cy="279.59" r="1.85" fill="#000"/>
<circle cx="120.14" cy="272.82" r="1.85" fill="#000"/>
<circle cx="128.52" cy="268.78" r="1.85" fill="#000"/>
<circle cx="126.67" cy="272.83" r="1.85" fill="#000"/>
<circle cx="123.51" cy="262.03" r="1.85" fill="#000"/>
<circle cx="128.33" cy="269.61" r="1.85" fill="#000"/>
<circle cx="120.06" cy="262.76" r="1.85" fill="#000"/>
<circle cx="123.64" cy="276.61" r="1.85" fill="#000"/>
<circle cx="124.75" cy="277.32" r="1.85" fill="#000"/>
<circle cx="125.08" cy="274.32" r="1.85" fill="#000"/>
<circle cx="126.84" cy="271.97" r="1.85" fill="#000"/>
<circle cx="127.79" cy="265.61" r="1.85" fill="#000"/>
<circle cx="124.89" cy="272.92" r="1.85" fill="#000"/>
<circle cx="125.65" cy="270.38" r="1.85" fill="#000"/>
<circle cx="130.8" cy="276.25" r="1.85" fill="#000"/>
<circle cx="126.1" cy="263.58" r="1.85" fill="#000"/>
<circle cx="123.64" cy="272.43" r="1.85" fill="#000"/>
<circle cx="121.84" cy="277.93" r="1.85" fill="#000"/>
<circle cx="126.39" cy="265.4" r="1.85" fill="#000"/>
<circle cx="123.28" cy="265.25" r="1.85" fill="#000"/>
<circle cx="128.74" cy="269.24" r="1.85" fill="#000"/>
<circle cx="128.7" cy="264.68" r="1.85" fill="#000"/>
<circle cx="125.75" cy="263.91" r="1.85" fill="#000"/>
<circle cx="123.54" cy="276.17" r="1.85" fill="#000"/>
<circle cx="124.22" cy="271.35" r="1.85" fill="#000"/>
<circle cx="128.11" cy="262.6" r="1.85" fill="#000"/>
<circle cx="123.22" cy="272.21" r="1.85" fill="#000"/>
<circle cx="130.64" cy="276.03" r="1.85" fill="#000"/>
<circle cx="124.11" cy="276.74" r="1.85" fill="#000"/>
<circle cx="126.37" cy="266.57" r="1.85" fill="#000"/>
<circle cx="127.61" cy="263.51" r="1.85" fill="#000"/>
<circle cx="127.69" cy="278.38" r="1.85" fill="#000"/>
<circle cx="131.34" cy="272.77" r="1.85" fill="#000"/>
<circle cx="130.99" cy="266.63" r="1.85" fill="#000"/>
<circle cx="124.35" cy="273.53" r="1.85" fill="#000"/>
<circle cx="123.18" cy="270.07" r="1.85" fill="#000"/>
<circle cx="125.38" cy="290.14" r="1.85" fill="#000"/>
<circle cx="125.77" cy="282.69" r="1.85" fill="#000"/>
<circle cx="125.57" cy="289.48" r="1.85" fill="#000"/>
<circle cx="124.85" cy="288.26" r="1.85" fill="#000"/>
<circle cx="126.19" cy="286.79" r="1.85" fill="#000"/>
<circle cx="125.63" cy="287.93" r="1.85" fill="#000"/>
<circle cx="122.9" cy="287.11" r="1.85" fill="#000"/>
<circle cx="123.74" cy="281.11" r="1.85" fill="#000"/>
<circle cx="124.27" cy="282.7" r="1.85" fill="#000"/>
<circle cx="125.42" cy="282.5" r="1.85" fill="#000"/>
<circle cx="125.07" cy="287.12" r="1.85" fill="#000"/>
<circle cx="124.2" cy="280.38" r="1.85" fill="#000"/>
<circle cx="127.69" cy="282.32" r="1.85" fill="#000"/>
<circle cx="122.65" cy="281.47" r="1.85" fill="#000"/>
<circle cx="126.61" cy="281.02" r="1.85" fill="#000"/>
<circle cx="123.3" cy="284.75" r="1.85" fill="#000"/>
<circle cx="124.65" cy="288.64" r="1.85" fill="#000"/>
<circle cx="124.62" cy="282.33" r="1.85" fill="#000"/>
<circle cx="127.41" cy="287.49" r="1.85" fill="#000"/>
<circle cx="128.01" cy="282.8" r="1.85" fill="#000"/>
<circle cx="126.12" cy="281.63" r="1.85" fill="#000"/>
<circle cx="124" cy="281.76" r="1.85" fill="#000"/>
<circle cx="128.85" cy="283.34" r="1.85" fill="#000"/>
<circle cx="128.4" cy="280.6" r="1.85" fill="#000"/>
<circle cx="123.92" cy="287.02" r="1.85" fill="#000"/>
<circle cx="125.5" cy="282.71" r="1.85" fill="#000"/>
<circle cx="129.17" cy="283.82" r="1.85" fill="#000"/>
<circle cx="125.25" cy="281.02" r="1.85" fill="#000"/>
<circle cx="125.09" cy="289.41" r="1.85" fill="#000"/>
<circle cx="123.9" cy="290.28" r="1.85" fill="#000"/>
<circle cx="125.37" cy="288.47" r="1.85" fill="#000"/>
<circle cx="125.38" cy="288.74" r="1.85" fill="#000"/>
<circle cx="126.32" cy="281.95" r="1.85" fill="#000"/>
<circle cx="124.67" cy="286" r="1.85" fill="#000"/>
<circle cx="125.03" cy="281.89" r="1.85" fill="#000"/>
<circle cx="124.21" cy="280.83" r="1.85" fill="#000"/>
<circle cx="125.13" cy="286.39" r="1.85" fill="#000"/>
<circle cx="126.44" cy="286.43" r="1.85" fill="#000"/>
<circle cx="125.49" cy="288.52" r="1.85" fill="#000"/>
<circle cx="125.9" cy="287.69" r="1.85" fill="#000"/>
<circle cx="125.87" cy="287.58" r="1.85" fill="#000"/>
<circle cx="123.87" cy="288.84" r="1.85" fill="#000"/>
<circle cx="126.93" cy="285.18" r="1.85" fill="#000"/>
<circle cx="124.27" cy="289.16" r="1.85" fill="#000"/>
<circle cx="124.62" cy="281.95" r="1.85" fill="#000"/>
<circle cx="126.05" cy="283.9" r="1.85" fill="#000"/>
<circle cx="123.37" cy="280.05" r="1.85" fill="#000"/>
<circle cx="125.98" cy="281.27" r="1.85" fill="#000"/>
<circle cx="124.14" cy="288.57" r="1.85" fill="#000"/>
<circle cx="127.72" cy="284" r="1.85" fill="#000"/>
<circle cx="127.2" cy="280.64" r="1.85" fill="#000"/>
<circle cx="124.73" cy="285.39" r="1.85" fill="#000"/>
<circle cx="126.48" cy="285.64" r="1.85" fill="#000"/>
<circle cx="125.05" cy="281.92" r="1.85" fill="#000"/>
<circle cx="126.05" cy="282.63" r="1.85" fill="#000"/>
<circle cx="125.44" cy="287.34" r="1.85" fill="#000"/>
<circle cx="123.47" cy="280.19" r="1.85" fill="#000"/>
<circle cx="124.34" cy="287.38" r="1.85" fill="#000"/>
<circle cx="126.14" cy="289.13" r="1.85" fill="#000"/>
<circle cx="125.54" cy="285.18" r="1.85" fill="#000"/>
<circle cx="124.53" cy="282.94" r="1.85" fill="#000"/>
<circle cx="125.82" cy="286.21" r="1.85" fill="#000"/>
<circle cx="125.28" cy="281.55" r="1.85" fill="#000"/>
<circle cx="124.28" cy="288.67" r="1.85" fill="#000"/>
<circle cx="126.41" cy="284.08" r="1.85" fill="#000"/>
<circle cx="123.55" cy="284.15" r="1.85" fill="#000"/>
<circle cx="125.39" cy="288.16" r="1.85" fill="#000"/>
<circle cx="126.83" cy="284.57" r="1.85" fill="#000"/>
<circle cx="126.61" cy="288.45" r="1.85" fill="#000"/>
<circle cx="122.27" cy="280.56" r="1.85" fill="#000"/>
<line x1="31" y1="28.5" x2="31" y2="291.5" stroke="#333" stroke-width="1.3"/>
<line x1="30.5" y1="291" x2="205.6" y2="291" stroke="#333" stroke-width="1.3"/>
<line x1="28" y1="291" x2="31" y2="291" stroke="#333" stroke-width="1"/>
<text x="28.3" y="293.8" style="font-size:8px;font-weight:bold;" text-anchor="end" fill="#000" stroke="#000" stroke-width="0.22">0</text>
<line x1="28" y1="233" x2="31" y2="233" stroke="#333" stroke-width="1"/>
<text x="28.3" y="235.8" style="font-size:8px;font-weight:bold;" text-anchor="end" fill="#000" stroke="#000" stroke-width="0.22">1</text>
<line x1="28" y1="175" x2="31" y2="175" stroke="#333" stroke-width="1"/>
<text x="28.3" y="177.8" style="font-size:8px;font-weight:bold;" text-anchor="end" fill="#000" stroke="#000" stroke-width="0.22">2</text>
<line x1="28" y1="117" x2="31" y2="117" stroke="#333" stroke-width="1"/>
<text x="28.3" y="119.8" style="font-size:8px;font-weight:bold;" text-anchor="end" fill="#000" stroke="#000" stroke-width="0.22">3</text>
<line x1="28" y1="59" x2="31" y2="59" stroke="#333" stroke-width="1"/>
<text x="28.3" y="61.8" style="font-size:8px;font-weight:bold;" text-anchor="end" fill="#000" stroke="#000" stroke-width="0.22">4</text>
<line x1="31.8" y1="291" x2="31.8" y2="293.2" stroke="#333" stroke-width="0.8"/>
<line x1="39.7" y1="291" x2="39.7" y2="293.2" stroke="#333" stroke-width="0.8"/>
<line x1="47.6" y1="291" x2="47.6" y2="294.5" stroke="#333" stroke-width="1"/>
<line x1="55.5" y1="291" x2="55.5" y2="293.2" stroke="#333" stroke-width="0.8"/>
<line x1="63.4" y1="291" x2="63.4" y2="293.2" stroke="#333" stroke-width="0.8"/>
<line x1="71.3" y1="291" x2="71.3" y2="293.2" stroke="#333" stroke-width="0.8"/>
<line x1="79.2" y1="291" x2="79.2" y2="293.2" stroke="#333" stroke-width="0.8"/>
<line x1="87.1" y1="291" x2="87.1" y2="294.5" stroke="#333" stroke-width="1"/>
<line x1="95" y1="291" x2="95" y2="293.2" stroke="#333" stroke-width="0.8"/>
<line x1="102.9" y1="291" x2="102.9" y2="293.2" stroke="#333" stroke-width="0.8"/>
<line x1="110.8" y1="291" x2="110.8" y2="293.2" stroke="#333" stroke-width="0.8"/>
<line x1="118.7" y1="291" x2="118.7" y2="293.2" stroke="#333" stroke-width="0.8"/>
<line x1="126.6" y1="291" x2="126.6" y2="294.5" stroke="#333" stroke-width="1"/>
<line x1="134.5" y1="291" x2="134.5" y2="293.2" stroke="#333" stroke-width="0.8"/>
<line x1="142.4" y1="291" x2="142.4" y2="293.2" stroke="#333" stroke-width="0.8"/>
<line x1="150.3" y1="291" x2="150.3" y2="293.2" stroke="#333" stroke-width="0.8"/>
<line x1="158.2" y1="291" x2="158.2" y2="293.2" stroke="#333" stroke-width="0.8"/>
<line x1="166.1" y1="291" x2="166.1" y2="294.5" stroke="#333" stroke-width="1"/>
<line x1="174" y1="291" x2="174" y2="293.2" stroke="#333" stroke-width="0.8"/>
<line x1="181.9" y1="291" x2="181.9" y2="293.2" stroke="#333" stroke-width="0.8"/>
<line x1="189.8" y1="291" x2="189.8" y2="293.2" stroke="#333" stroke-width="0.8"/>
<line x1="197.7" y1="291" x2="197.7" y2="293.2" stroke="#333" stroke-width="0.8"/>
<line x1="205.6" y1="291" x2="205.6" y2="294.5" stroke="#333" stroke-width="1"/>
<text x="46.8" y="301.9" style="font-size:7.9px;font-weight:bold;" text-anchor="middle" fill="#000" stroke="#000" stroke-width="0.22">-10</text>
<text x="86.3" y="301.9" style="font-size:7.9px;font-weight:bold;" text-anchor="middle" fill="#000" stroke="#000" stroke-width="0.22">-5</text>
<text x="126.6" y="301.9" style="font-size:7.9px;font-weight:bold;" text-anchor="middle" fill="#000" stroke="#000" stroke-width="0.22">0</text>
<text x="166.1" y="301.9" style="font-size:7.9px;font-weight:bold;" text-anchor="middle" fill="#000" stroke="#000" stroke-width="0.22">5</text>
<text x="205.6" y="301.9" style="font-size:7.9px;font-weight:bold;" text-anchor="middle" fill="#000" stroke="#000" stroke-width="0.22">10</text>
<text x="118" y="319.8" style="font-size:10.8px;font-weight:bold;" text-anchor="middle" fill="#000" stroke="#000" stroke-width="0.3">Log<tspan dy="3.4" style="font-size:8.2px">2</tspan><tspan dy="-3.4">[Fold Change]</tspan></text>
<text x="12.2" y="159.6" style="font-size:10.9px;font-weight:bold;" text-anchor="middle" transform="rotate(-90 12.2 159.6)" fill="#000" stroke="#000" stroke-width="0.31">-log<tspan dy="3.4" style="font-size:8.2px">10</tspan><tspan dy="-3.4">(p-val)</tspan></text>
<text x="0.4" y="218.9" style="font-size:8.6px;font-weight:bold;" fill="#000" textLength="26.2" lengthAdjust="spacingAndGlyphs" stroke="#000" stroke-width="0.24">p&#8804;0.05</text>
<text x="229" y="18.9" style="font-size:27px;font-weight:bold;" fill="#000" stroke="#000" stroke-width="0.76">B</text>
<rect x="256.5" y="49" width="73" height="73.3" fill="#002cff"/>
<text x="293" y="88.95" style="font-size:9.6px;" text-anchor="middle" fill="#fff" stroke="#fff" stroke-width="0.12">1.00</text>
<rect x="256.5" y="122.3" width="73" height="73.3" fill="#223dff"/>
<text x="293" y="162.25" style="font-size:9.6px;" text-anchor="middle" fill="#fff" stroke="#fff" stroke-width="0.12">0.92</text>
<rect x="329.5" y="122.3" width="73" height="73.3" fill="#002cff"/>
<text x="366" y="162.25" style="font-size:9.6px;" text-anchor="middle" fill="#fff" stroke="#fff" stroke-width="0.12">1.00</text>
<rect x="256.5" y="195.6" width="73" height="73.2" fill="#7178ff"/>
<text x="293" y="235.5" style="font-size:9.6px;" text-anchor="middle" fill="#fff" stroke="#fff" stroke-width="0.12">0.64</text>
<rect x="329.5" y="195.6" width="73" height="73.2" fill="#5763ff"/>
<text x="366" y="235.5" style="font-size:9.6px;" text-anchor="middle" fill="#fff" stroke="#fff" stroke-width="0.12">0.74</text>
<rect x="402.5" y="195.6" width="73" height="73.2" fill="#002cff"/>
<text x="439" y="235.5" style="font-size:9.6px;" text-anchor="middle" fill="#fff" stroke="#fff" stroke-width="0.12">1.00</text>
<rect x="329.5" y="49" width="73" height="73.3" fill="#fff"/>
<rect x="402.5" y="49" width="73" height="73.3" fill="#fff"/>
<rect x="402.5" y="122.3" width="73" height="73.3" fill="#fff"/>
<line x1="341.5" y1="82.8" x2="399.7" y2="82.8" stroke="#888" stroke-width="1.1"/>
<line x1="370.2" y1="53.7" x2="370.2" y2="112.4" stroke="#888" stroke-width="1.1"/>
<line x1="341.5" y1="53.7" x2="341.5" y2="112.4" stroke="#000" stroke-width="0.8"/>
<line x1="341.5" y1="112.4" x2="399.7" y2="112.4" stroke="#000" stroke-width="0.8"/>
<line x1="340" y1="111.9" x2="341.5" y2="111.9" stroke="#000" stroke-width="0.6"/>
<line x1="341.1" y1="112.4" x2="341.1" y2="113.9" stroke="#000" stroke-width="0.6"/>
<text x="339.7" y="112.9" style="font-size:2.9px;font-weight:bold;" text-anchor="end" fill="#000" stroke="#000" stroke-width="0.25">-15</text>
<text x="341.1" y="116.3" style="font-size:2.9px;font-weight:bold;" text-anchor="middle" fill="#000" stroke="#000" stroke-width="0.25">-15</text>
<line x1="340" y1="102.2" x2="341.5" y2="102.2" stroke="#000" stroke-width="0.6"/>
<line x1="350.8" y1="112.4" x2="350.8" y2="113.9" stroke="#000" stroke-width="0.6"/>
<text x="339.7" y="103.2" style="font-size:2.9px;font-weight:bold;" text-anchor="end" fill="#000" stroke="#000" stroke-width="0.25">-10</text>
<text x="350.8" y="116.3" style="font-size:2.9px;font-weight:bold;" text-anchor="middle" fill="#000" stroke="#000" stroke-width="0.25">-10</text>
<line x1="340" y1="92.5" x2="341.5" y2="92.5" stroke="#000" stroke-width="0.6"/>
<line x1="360.5" y1="112.4" x2="360.5" y2="113.9" stroke="#000" stroke-width="0.6"/>
<text x="339.7" y="93.5" style="font-size:2.9px;font-weight:bold;" text-anchor="end" fill="#000" stroke="#000" stroke-width="0.25">-5</text>
<text x="360.5" y="116.3" style="font-size:2.9px;font-weight:bold;" text-anchor="middle" fill="#000" stroke="#000" stroke-width="0.25">-5</text>
<line x1="340" y1="82.8" x2="341.5" y2="82.8" stroke="#000" stroke-width="0.6"/>
<line x1="370.2" y1="112.4" x2="370.2" y2="113.9" stroke="#000" stroke-width="0.6"/>
<text x="339.7" y="83.8" style="font-size:2.9px;font-weight:bold;" text-anchor="end" fill="#000" stroke="#000" stroke-width="0.25">0</text>
<text x="370.2" y="116.3" style="font-size:2.9px;font-weight:bold;" text-anchor="middle" fill="#000" stroke="#000" stroke-width="0.25">0</text>
<line x1="340" y1="73.1" x2="341.5" y2="73.1" stroke="#000" stroke-width="0.6"/>
<line x1="379.9" y1="112.4" x2="379.9" y2="113.9" stroke="#000" stroke-width="0.6"/>
<text x="339.7" y="74.1" style="font-size:2.9px;font-weight:bold;" text-anchor="end" fill="#000" stroke="#000" stroke-width="0.25">5</text>
<text x="379.9" y="116.3" style="font-size:2.9px;font-weight:bold;" text-anchor="middle" fill="#000" stroke="#000" stroke-width="0.25">5</text>
<line x1="340" y1="63.4" x2="341.5" y2="63.4" stroke="#000" stroke-width="0.6"/>
<line x1="389.6" y1="112.4" x2="389.6" y2="113.9" stroke="#000" stroke-width="0.6"/>
<text x="339.7" y="64.4" style="font-size:2.9px;font-weight:bold;" text-anchor="end" fill="#000" stroke="#000" stroke-width="0.25">10</text>
<text x="389.6" y="116.3" style="font-size:2.9px;font-weight:bold;" text-anchor="middle" fill="#000" stroke="#000" stroke-width="0.25">10</text>
<line x1="340" y1="53.7" x2="341.5" y2="53.7" stroke="#000" stroke-width="0.6"/>
<line x1="399.3" y1="112.4" x2="399.3" y2="113.9" stroke="#000" stroke-width="0.6"/>
<text x="339.7" y="54.7" style="font-size:2.9px;font-weight:bold;" text-anchor="end" fill="#000" stroke="#000" stroke-width="0.25">15</text>
<text x="399.3" y="116.3" style="font-size:2.9px;font-weight:bold;" text-anchor="middle" fill="#000" stroke="#000" stroke-width="0.25">15</text>
<text x="370.6" y="120.2" style="font-size:3.6px;font-weight:bold;" text-anchor="middle" fill="#000" stroke="#000" stroke-width="0.3">Chow</text>
<text x="334.3" y="82.8" style="font-size:3.6px;font-weight:bold;" text-anchor="middle" transform="rotate(-90 334.3 82.8)" fill="#000" stroke="#000" stroke-width="0.3">DIV6</text>
<circle cx="371.71" cy="78.51" r="0.85" fill="#000"/>
<circle cx="366.97" cy="86.6" r="0.85" fill="#000"/>
<circle cx="362.47" cy="88.65" r="0.85" fill="#000"/>
<circle cx="362.74" cy="91.28" r="0.85" fill="#000"/>
<circle cx="367.48" cy="84.44" r="0.85" fill="#000"/>
<circle cx="368.83" cy="85.4" r="0.85" fill="#000"/>
<circle cx="366.73" cy="85.43" r="0.85" fill="#000"/>
<circle cx="360.87" cy="88.95" r="0.85" fill="#000"/>
<circle cx="367.95" cy="79.69" r="0.85" fill="#000"/>
<circle cx="367.5" cy="84.97" r="0.85" fill="#000"/>
<circle cx="371.49" cy="81.11" r="0.85" fill="#000"/>
<circle cx="370.24" cy="83.21" r="0.85" fill="#000"/>
<circle cx="367.55" cy="82.66" r="0.85" fill="#000"/>
<circle cx="369.41" cy="82.91" r="0.85" fill="#000"/>
<circle cx="362.51" cy="87.82" r="0.85" fill="#000"/>
<circle cx="367.01" cy="83.69" r="0.85" fill="#000"/>
<circle cx="367.55" cy="82.54" r="0.85" fill="#000"/>
<circle cx="366.51" cy="85.09" r="0.85" fill="#000"/>
<circle cx="369.3" cy="85.36" r="0.85" fill="#000"/>
<circle cx="365.15" cy="87.54" r="0.85" fill="#000"/>
<circle cx="374.39" cy="79.35" r="0.85" fill="#000"/>
<circle cx="369.24" cy="82.1" r="0.85" fill="#000"/>
<circle cx="365.62" cy="89.2" r="0.85" fill="#000"/>
<circle cx="370.45" cy="83.12" r="0.85" fill="#000"/>
<circle cx="369.49" cy="85.63" r="0.85" fill="#000"/>
<circle cx="365.01" cy="84.24" r="0.85" fill="#000"/>
<circle cx="372.26" cy="83.41" r="0.85" fill="#000"/>
<circle cx="361.54" cy="89.54" r="0.85" fill="#000"/>
<circle cx="369.53" cy="82.75" r="0.85" fill="#000"/>
<circle cx="367.89" cy="86.3" r="0.85" fill="#000"/>
<circle cx="368.98" cy="81.33" r="0.85" fill="#000"/>
<circle cx="365.02" cy="89.46" r="0.85" fill="#000"/>
<circle cx="363.76" cy="86.2" r="0.85" fill="#000"/>
<circle cx="359.98" cy="90.88" r="0.85" fill="#000"/>
<circle cx="362.86" cy="88.65" r="0.85" fill="#000"/>
<circle cx="365.76" cy="86.05" r="0.85" fill="#000"/>
<circle cx="372.53" cy="79.85" r="0.85" fill="#000"/>
<circle cx="371.88" cy="81.46" r="0.85" fill="#000"/>
<circle cx="364.85" cy="86.08" r="0.85" fill="#000"/>
<circle cx="355.71" cy="94.2" r="0.85" fill="#000"/>
<circle cx="367.33" cy="87.22" r="0.85" fill="#000"/>
<circle cx="368.51" cy="84.97" r="0.85" fill="#000"/>
<circle cx="357.17" cy="93.37" r="0.85" fill="#000"/>
<circle cx="362.91" cy="89.37" r="0.85" fill="#000"/>
<circle cx="366.12" cy="83.37" r="0.85" fill="#000"/>
<circle cx="367.11" cy="85.06" r="0.85" fill="#000"/>
<circle cx="368.22" cy="87.63" r="0.85" fill="#000"/>
<circle cx="371.52" cy="83.56" r="0.85" fill="#000"/>
<circle cx="368.41" cy="86.15" r="0.85" fill="#000"/>
<circle cx="362.92" cy="89.12" r="0.85" fill="#000"/>
<circle cx="374.06" cy="78.08" r="0.85" fill="#000"/>
<circle cx="364.36" cy="87.75" r="0.85" fill="#000"/>
<circle cx="362.24" cy="88.96" r="0.85" fill="#000"/>
<circle cx="364.48" cy="85.7" r="0.85" fill="#000"/>
<circle cx="361.44" cy="90.18" r="0.85" fill="#000"/>
<circle cx="363.44" cy="89.33" r="0.85" fill="#000"/>
<circle cx="369.47" cy="82.87" r="0.85" fill="#000"/>
<circle cx="368.98" cy="81.2" r="0.85" fill="#000"/>
<circle cx="371.17" cy="84.42" r="0.85" fill="#000"/>
<circle cx="368.79" cy="87.07" r="0.85" fill="#000"/>
<circle cx="366.46" cy="81.8" r="0.85" fill="#000"/>
<circle cx="365.96" cy="86.64" r="0.85" fill="#000"/>
<circle cx="367.37" cy="84.76" r="0.85" fill="#000"/>
<circle cx="366.81" cy="86.71" r="0.85" fill="#000"/>
<circle cx="370.91" cy="80.24" r="0.85" fill="#000"/>
<circle cx="365.88" cy="85.37" r="0.85" fill="#000"/>
<circle cx="369.26" cy="81.28" r="0.85" fill="#000"/>
<circle cx="368.23" cy="82.75" r="0.85" fill="#000"/>
<circle cx="365.69" cy="88.21" r="0.85" fill="#000"/>
<circle cx="364.79" cy="84.88" r="0.85" fill="#000"/>
<circle cx="370.5" cy="82" r="0.85" fill="#000"/>
<circle cx="364.51" cy="86.49" r="0.85" fill="#000"/>
<circle cx="373.16" cy="77.53" r="0.85" fill="#000"/>
<circle cx="364.06" cy="87.53" r="0.85" fill="#000"/>
<circle cx="361.08" cy="92.03" r="0.85" fill="#000"/>
<circle cx="367.44" cy="84.69" r="0.85" fill="#000"/>
<circle cx="370.45" cy="79.87" r="0.85" fill="#000"/>
<circle cx="369.95" cy="80.17" r="0.85" fill="#000"/>
<circle cx="364.59" cy="89.21" r="0.85" fill="#000"/>
<circle cx="368.65" cy="78.57" r="0.85" fill="#000"/>
<circle cx="368.09" cy="86.45" r="0.85" fill="#000"/>
<circle cx="367.65" cy="81.8" r="0.85" fill="#000"/>
<circle cx="362.69" cy="86.97" r="0.85" fill="#000"/>
<circle cx="364.34" cy="84.75" r="0.85" fill="#000"/>
<circle cx="369.76" cy="82.29" r="0.85" fill="#000"/>
<circle cx="374.47" cy="79.91" r="0.85" fill="#000"/>
<circle cx="364.05" cy="83.85" r="0.85" fill="#000"/>
<circle cx="363.31" cy="83.78" r="0.85" fill="#000"/>
<circle cx="366.55" cy="87.46" r="0.85" fill="#000"/>
<circle cx="366.7" cy="85.07" r="0.85" fill="#000"/>
<circle cx="367.49" cy="85.07" r="0.85" fill="#000"/>
<circle cx="370.9" cy="86.47" r="0.85" fill="#000"/>
<circle cx="364.56" cy="87.55" r="0.85" fill="#000"/>
<circle cx="373.77" cy="83.54" r="0.85" fill="#000"/>
<circle cx="365.39" cy="88.59" r="0.85" fill="#000"/>
<circle cx="364.13" cy="86.14" r="0.85" fill="#000"/>
<circle cx="368.3" cy="81.25" r="0.85" fill="#000"/>
<circle cx="364.38" cy="86.66" r="0.85" fill="#000"/>
<circle cx="371.26" cy="79.93" r="0.85" fill="#000"/>
<circle cx="365.4" cy="84.18" r="0.85" fill="#000"/>
<circle cx="363.12" cy="84.69" r="0.85" fill="#000"/>
<circle cx="367.31" cy="85.06" r="0.85" fill="#000"/>
<circle cx="367.76" cy="82.83" r="0.85" fill="#000"/>
<circle cx="373.46" cy="80.19" r="0.85" fill="#000"/>
<circle cx="365.28" cy="85.33" r="0.85" fill="#000"/>
<circle cx="363.33" cy="91.32" r="0.85" fill="#000"/>
<circle cx="369.95" cy="83.46" r="0.85" fill="#000"/>
<circle cx="371.08" cy="83.82" r="0.85" fill="#000"/>
<circle cx="355.47" cy="93.76" r="0.85" fill="#000"/>
<circle cx="367.31" cy="81.74" r="0.85" fill="#000"/>
<circle cx="368.75" cy="83.09" r="0.85" fill="#000"/>
<circle cx="368.98" cy="84.21" r="0.85" fill="#000"/>
<circle cx="367.01" cy="87.7" r="0.85" fill="#000"/>
<circle cx="368.72" cy="85.27" r="0.85" fill="#000"/>
<circle cx="364.98" cy="85.35" r="0.85" fill="#000"/>
<circle cx="370.26" cy="84.43" r="0.85" fill="#000"/>
<circle cx="374.48" cy="80.25" r="0.85" fill="#000"/>
<circle cx="369.95" cy="80.88" r="0.85" fill="#000"/>
<circle cx="367.58" cy="84.29" r="0.85" fill="#000"/>
<circle cx="373.68" cy="78.02" r="0.85" fill="#000"/>
<circle cx="368.44" cy="87.48" r="0.85" fill="#000"/>
<circle cx="363.81" cy="85.39" r="0.85" fill="#000"/>
<circle cx="367.46" cy="86.57" r="0.85" fill="#000"/>
<circle cx="364.22" cy="87.91" r="0.85" fill="#000"/>
<circle cx="369.37" cy="82.44" r="0.85" fill="#000"/>
<circle cx="370.58" cy="83.81" r="0.85" fill="#000"/>
<circle cx="370.53" cy="83.24" r="0.85" fill="#000"/>
<circle cx="365.55" cy="82.89" r="0.85" fill="#000"/>
<circle cx="367" cy="85.36" r="0.85" fill="#000"/>
<circle cx="365.89" cy="86.72" r="0.85" fill="#000"/>
<circle cx="372.76" cy="77.81" r="0.85" fill="#000"/>
<circle cx="369.49" cy="82.74" r="0.85" fill="#000"/>
<circle cx="370.75" cy="82.24" r="0.85" fill="#000"/>
<circle cx="368.46" cy="83.14" r="0.85" fill="#000"/>
<circle cx="367.05" cy="81.85" r="0.85" fill="#000"/>
<circle cx="373.52" cy="77.31" r="0.85" fill="#000"/>
<circle cx="359.28" cy="87.7" r="0.85" fill="#000"/>
<circle cx="369.43" cy="84.02" r="0.85" fill="#000"/>
<circle cx="366.61" cy="83.19" r="0.85" fill="#000"/>
<circle cx="371.27" cy="80.02" r="0.85" fill="#000"/>
<circle cx="367.25" cy="84.82" r="0.85" fill="#000"/>
<circle cx="369.94" cy="82.92" r="0.85" fill="#000"/>
<circle cx="363.22" cy="89.32" r="0.85" fill="#000"/>
<circle cx="366.17" cy="85.11" r="0.85" fill="#000"/>
<circle cx="375.49" cy="80.95" r="0.85" fill="#000"/>
<circle cx="368.56" cy="84.02" r="0.85" fill="#000"/>
<circle cx="367.88" cy="81.76" r="0.85" fill="#000"/>
<circle cx="371.52" cy="81.77" r="0.85" fill="#000"/>
<circle cx="364.54" cy="89.7" r="0.85" fill="#000"/>
<circle cx="366.43" cy="83.12" r="0.85" fill="#000"/>
<circle cx="365.68" cy="84.78" r="0.85" fill="#000"/>
<circle cx="369.46" cy="82.35" r="0.85" fill="#000"/>
<circle cx="370.91" cy="82.18" r="0.85" fill="#000"/>
<circle cx="363.49" cy="90.17" r="0.85" fill="#000"/>
<circle cx="370.3" cy="83.15" r="0.85" fill="#000"/>
<circle cx="365.5" cy="84.67" r="0.85" fill="#000"/>
<circle cx="363.65" cy="84.34" r="0.85" fill="#000"/>
<circle cx="369.29" cy="84.28" r="0.85" fill="#000"/>
<circle cx="364.25" cy="85.19" r="0.85" fill="#000"/>
<circle cx="362.11" cy="90.24" r="0.85" fill="#000"/>
<circle cx="366.73" cy="84.91" r="0.85" fill="#000"/>
<circle cx="366.77" cy="84.52" r="0.85" fill="#000"/>
<circle cx="365.3" cy="86.69" r="0.85" fill="#000"/>
<circle cx="371.62" cy="80.14" r="0.85" fill="#000"/>
<circle cx="364.96" cy="83.39" r="0.85" fill="#000"/>
<circle cx="358.98" cy="91.34" r="0.85" fill="#000"/>
<circle cx="369.3" cy="81.36" r="0.85" fill="#000"/>
<circle cx="367.14" cy="85.72" r="0.85" fill="#000"/>
<circle cx="368.98" cy="83.88" r="0.85" fill="#000"/>
<circle cx="368.55" cy="89.39" r="0.85" fill="#000"/>
<circle cx="368.19" cy="85.67" r="0.85" fill="#000"/>
<circle cx="370.36" cy="80.95" r="0.85" fill="#000"/>
<circle cx="369.54" cy="83.84" r="0.85" fill="#000"/>
<circle cx="368.39" cy="84.64" r="0.85" fill="#000"/>
<circle cx="367.54" cy="84.92" r="0.85" fill="#000"/>
<circle cx="363.33" cy="84.19" r="0.85" fill="#000"/>
<circle cx="369.52" cy="87.07" r="0.85" fill="#000"/>
<circle cx="370.18" cy="85.25" r="0.85" fill="#000"/>
<circle cx="365.81" cy="87.17" r="0.85" fill="#000"/>
<circle cx="364.63" cy="86.51" r="0.85" fill="#000"/>
<circle cx="365.45" cy="89.14" r="0.85" fill="#000"/>
<circle cx="366.68" cy="84.63" r="0.85" fill="#000"/>
<circle cx="373.57" cy="80.63" r="0.85" fill="#000"/>
<circle cx="362.09" cy="89.75" r="0.85" fill="#000"/>
<circle cx="369.24" cy="85.01" r="0.85" fill="#000"/>
<circle cx="363.91" cy="86.49" r="0.85" fill="#000"/>
<circle cx="366.66" cy="84.93" r="0.85" fill="#000"/>
<circle cx="364.27" cy="88.88" r="0.85" fill="#000"/>
<circle cx="365.45" cy="86.63" r="0.85" fill="#000"/>
<circle cx="365.41" cy="85.52" r="0.85" fill="#000"/>
<circle cx="368.83" cy="82.56" r="0.85" fill="#000"/>
<circle cx="368.57" cy="85.55" r="0.85" fill="#000"/>
<circle cx="362.36" cy="87.24" r="0.85" fill="#000"/>
<circle cx="366.76" cy="85.05" r="0.85" fill="#000"/>
<circle cx="362.21" cy="89.33" r="0.85" fill="#000"/>
<circle cx="364.23" cy="88.98" r="0.85" fill="#000"/>
<circle cx="364.26" cy="90.18" r="0.85" fill="#000"/>
<circle cx="367.04" cy="82.8" r="0.85" fill="#000"/>
<circle cx="363.96" cy="87.34" r="0.85" fill="#000"/>
<circle cx="362.47" cy="87.41" r="0.85" fill="#000"/>
<circle cx="373.94" cy="81.93" r="0.85" fill="#000"/>
<circle cx="365.82" cy="83.27" r="0.85" fill="#000"/>
<circle cx="368.14" cy="83.96" r="0.85" fill="#000"/>
<circle cx="358.78" cy="91.96" r="0.85" fill="#000"/>
<circle cx="370.27" cy="79.69" r="0.85" fill="#000"/>
<circle cx="369.2" cy="84.46" r="0.85" fill="#000"/>
<circle cx="364.04" cy="90.98" r="0.85" fill="#000"/>
<circle cx="362.53" cy="86.48" r="0.85" fill="#000"/>
<circle cx="366.26" cy="88.27" r="0.85" fill="#000"/>
<circle cx="371.83" cy="84.47" r="0.85" fill="#000"/>
<circle cx="371.6" cy="82.04" r="0.85" fill="#000"/>
<circle cx="368.02" cy="82.95" r="0.85" fill="#000"/>
<circle cx="367.73" cy="82.04" r="0.85" fill="#000"/>
<circle cx="366.77" cy="85.91" r="0.85" fill="#000"/>
<circle cx="364.14" cy="90.18" r="0.85" fill="#000"/>
<circle cx="364.01" cy="85.57" r="0.85" fill="#000"/>
<circle cx="369.91" cy="80.06" r="0.85" fill="#000"/>
<circle cx="377.29" cy="75.47" r="0.85" fill="#000"/>
<circle cx="368.65" cy="86.32" r="0.85" fill="#000"/>
<circle cx="365.77" cy="81.82" r="0.85" fill="#000"/>
<circle cx="368.76" cy="83.95" r="0.85" fill="#000"/>
<circle cx="367.91" cy="88.04" r="0.85" fill="#000"/>
<circle cx="363.47" cy="90.45" r="0.85" fill="#000"/>
<circle cx="358.41" cy="90.47" r="0.85" fill="#000"/>
<circle cx="370.45" cy="82.67" r="0.85" fill="#000"/>
<circle cx="368.05" cy="86.2" r="0.85" fill="#000"/>
<circle cx="368.47" cy="82.44" r="0.85" fill="#000"/>
<circle cx="372.66" cy="77.53" r="0.85" fill="#000"/>
<circle cx="368.6" cy="84.06" r="0.85" fill="#000"/>
<circle cx="363.5" cy="89.06" r="0.85" fill="#000"/>
<circle cx="369.1" cy="82.31" r="0.85" fill="#000"/>
<circle cx="366.78" cy="82.04" r="0.85" fill="#000"/>
<circle cx="369.22" cy="83.28" r="0.85" fill="#000"/>
<circle cx="365.97" cy="85.77" r="0.85" fill="#000"/>
<circle cx="363.03" cy="90.17" r="0.85" fill="#000"/>
<circle cx="368.06" cy="85.38" r="0.85" fill="#000"/>
<circle cx="365.66" cy="83.8" r="0.85" fill="#000"/>
<circle cx="365.96" cy="83.37" r="0.85" fill="#000"/>
<circle cx="366.68" cy="82.41" r="0.85" fill="#000"/>
<circle cx="368.51" cy="87.29" r="0.85" fill="#000"/>
<circle cx="371.51" cy="81.88" r="0.85" fill="#000"/>
<circle cx="359.09" cy="91.2" r="0.85" fill="#000"/>
<circle cx="367.31" cy="87.34" r="0.85" fill="#000"/>
<circle cx="364.35" cy="86.15" r="0.85" fill="#000"/>
<circle cx="372.19" cy="78.73" r="0.85" fill="#000"/>
<circle cx="371.45" cy="79.35" r="0.85" fill="#000"/>
<circle cx="357.07" cy="94.44" r="0.85" fill="#000"/>
<circle cx="367.43" cy="89.96" r="0.85" fill="#000"/>
<circle cx="369.7" cy="81.2" r="0.85" fill="#000"/>
<circle cx="363.7" cy="88.47" r="0.85" fill="#000"/>
<circle cx="363.06" cy="88.27" r="0.85" fill="#000"/>
<circle cx="366.55" cy="85.46" r="0.85" fill="#000"/>
<circle cx="362.74" cy="87.74" r="0.85" fill="#000"/>
<circle cx="365.39" cy="84.54" r="0.85" fill="#000"/>
<circle cx="367.92" cy="87.23" r="0.85" fill="#000"/>
<circle cx="361.11" cy="89.66" r="0.85" fill="#000"/>
<circle cx="364.83" cy="85.92" r="0.85" fill="#000"/>
<circle cx="369.84" cy="82.78" r="0.85" fill="#000"/>
<circle cx="360.17" cy="92.87" r="0.85" fill="#000"/>
<circle cx="368.93" cy="85.58" r="0.85" fill="#000"/>
<circle cx="371.01" cy="82.06" r="0.85" fill="#000"/>
<circle cx="368.72" cy="85.42" r="0.85" fill="#000"/>
<circle cx="366.32" cy="91.38" r="0.85" fill="#000"/>
<circle cx="365.9" cy="84.85" r="0.85" fill="#000"/>
<circle cx="363.23" cy="89.74" r="0.85" fill="#000"/>
<circle cx="366.5" cy="85.36" r="0.85" fill="#000"/>
<circle cx="363.57" cy="86.52" r="0.85" fill="#000"/>
<circle cx="360.32" cy="88.27" r="0.85" fill="#000"/>
<circle cx="361.26" cy="91.28" r="0.85" fill="#000"/>
<circle cx="371.88" cy="83.12" r="0.85" fill="#000"/>
<circle cx="360.29" cy="90.31" r="0.85" fill="#000"/>
<circle cx="363.14" cy="90.34" r="0.85" fill="#000"/>
<circle cx="363.99" cy="88.94" r="0.85" fill="#000"/>
<circle cx="362.93" cy="90.34" r="0.85" fill="#000"/>
<circle cx="372.96" cy="81.62" r="0.85" fill="#000"/>
<circle cx="370.48" cy="85.03" r="0.85" fill="#000"/>
<circle cx="368.82" cy="86.06" r="0.85" fill="#000"/>
<circle cx="364.93" cy="85.51" r="0.85" fill="#000"/>
<circle cx="364.65" cy="90.78" r="0.85" fill="#000"/>
<circle cx="364.56" cy="87.34" r="0.85" fill="#000"/>
<circle cx="368.93" cy="85.48" r="0.85" fill="#000"/>
<circle cx="365.55" cy="86.13" r="0.85" fill="#000"/>
<circle cx="360.31" cy="90.65" r="0.85" fill="#000"/>
<circle cx="363.49" cy="87.04" r="0.85" fill="#000"/>
<circle cx="366.28" cy="85.99" r="0.85" fill="#000"/>
<circle cx="357.34" cy="93.03" r="0.85" fill="#000"/>
<circle cx="365.27" cy="88.3" r="0.85" fill="#000"/>
<circle cx="364.73" cy="89.36" r="0.85" fill="#000"/>
<circle cx="367.38" cy="83.5" r="0.85" fill="#000"/>
<circle cx="369.03" cy="84.48" r="0.85" fill="#000"/>
<circle cx="373.23" cy="78.45" r="0.85" fill="#000"/>
<circle cx="363.03" cy="88.54" r="0.85" fill="#000"/>
<circle cx="360.39" cy="90.61" r="0.85" fill="#000"/>
<circle cx="369.47" cy="80.65" r="0.85" fill="#000"/>
<circle cx="365.08" cy="90.09" r="0.85" fill="#000"/>
<circle cx="366.05" cy="83.21" r="0.85" fill="#000"/>
<circle cx="367.27" cy="82.4" r="0.85" fill="#000"/>
<circle cx="369.92" cy="79.73" r="0.85" fill="#000"/>
<circle cx="369.03" cy="84.75" r="0.85" fill="#000"/>
<circle cx="368.44" cy="79.02" r="0.85" fill="#000"/>
<circle cx="364.7" cy="90.53" r="0.85" fill="#000"/>
<circle cx="374.87" cy="78" r="0.85" fill="#000"/>
<circle cx="364.28" cy="88.44" r="0.85" fill="#000"/>
<circle cx="360.73" cy="88.74" r="0.85" fill="#000"/>
<circle cx="367.26" cy="86.11" r="0.85" fill="#000"/>
<circle cx="365.07" cy="87.47" r="0.85" fill="#000"/>
<circle cx="370.85" cy="82.36" r="0.85" fill="#000"/>
<circle cx="372.06" cy="82.66" r="0.85" fill="#000"/>
<circle cx="364.33" cy="88.16" r="0.85" fill="#000"/>
<circle cx="364.62" cy="87.17" r="0.85" fill="#000"/>
<circle cx="370.69" cy="79.79" r="0.85" fill="#000"/>
<circle cx="362.55" cy="86.17" r="0.85" fill="#000"/>
<circle cx="367.08" cy="81.95" r="0.85" fill="#000"/>
<circle cx="366.06" cy="87.47" r="0.85" fill="#000"/>
<circle cx="369.77" cy="81.66" r="0.85" fill="#000"/>
<circle cx="364.93" cy="86.7" r="0.85" fill="#000"/>
<circle cx="367.21" cy="84.31" r="0.85" fill="#000"/>
<circle cx="360.05" cy="92.98" r="0.85" fill="#000"/>
<circle cx="366.92" cy="84.65" r="0.85" fill="#000"/>
<circle cx="364.67" cy="90.36" r="0.85" fill="#000"/>
<circle cx="371.92" cy="81.75" r="0.85" fill="#000"/>
<circle cx="362.65" cy="85.48" r="0.85" fill="#000"/>
<circle cx="371.1" cy="79.79" r="0.85" fill="#000"/>
<circle cx="369.95" cy="81.63" r="0.85" fill="#000"/>
<circle cx="362.93" cy="88.29" r="0.85" fill="#000"/>
<circle cx="368.09" cy="82.99" r="0.85" fill="#000"/>
<circle cx="368.55" cy="85.8" r="0.85" fill="#000"/>
<circle cx="364.36" cy="87.84" r="0.85" fill="#000"/>
<circle cx="365.95" cy="87.62" r="0.85" fill="#000"/>
<circle cx="359.63" cy="93.34" r="0.85" fill="#000"/>
<circle cx="374.06" cy="79.09" r="0.85" fill="#000"/>
<circle cx="374.91" cy="80.92" r="0.85" fill="#000"/>
<circle cx="371.82" cy="79.78" r="0.85" fill="#000"/>
<circle cx="367.02" cy="86.54" r="0.85" fill="#000"/>
<circle cx="367.94" cy="82.64" r="0.85" fill="#000"/>
<circle cx="373.21" cy="80.59" r="0.85" fill="#000"/>
<circle cx="373.58" cy="79.62" r="0.85" fill="#000"/>
<circle cx="375.92" cy="75.91" r="0.85" fill="#000"/>
<circle cx="375.95" cy="77.01" r="0.85" fill="#000"/>
<circle cx="375.48" cy="76.77" r="0.85" fill="#000"/>
<circle cx="376.73" cy="79.31" r="0.85" fill="#000"/>
<circle cx="374.18" cy="78.87" r="0.85" fill="#000"/>
<circle cx="373.61" cy="79.81" r="0.85" fill="#000"/>
<circle cx="372.88" cy="79.41" r="0.85" fill="#000"/>
<circle cx="373.73" cy="79.19" r="0.85" fill="#000"/>
<circle cx="369.78" cy="84.43" r="0.85" fill="#000"/>
<circle cx="370.79" cy="84.28" r="0.85" fill="#000"/>
<circle cx="371.51" cy="82.41" r="0.85" fill="#000"/>
<circle cx="367.53" cy="87.26" r="0.85" fill="#000"/>
<circle cx="371.65" cy="81.92" r="0.85" fill="#000"/>
<circle cx="379.86" cy="72.98" r="0.85" fill="#000"/>
<circle cx="370.68" cy="82.63" r="0.85" fill="#000"/>
<circle cx="369.97" cy="83.63" r="0.85" fill="#000"/>
<circle cx="372.02" cy="80.88" r="0.85" fill="#000"/>
<circle cx="371.18" cy="80.42" r="0.85" fill="#000"/>
<circle cx="375.11" cy="75.53" r="0.85" fill="#000"/>
<circle cx="369.05" cy="82.43" r="0.85" fill="#000"/>
<circle cx="371.95" cy="83.06" r="0.85" fill="#000"/>
<circle cx="372.17" cy="82.92" r="0.85" fill="#000"/>
<circle cx="373.03" cy="76.24" r="0.85" fill="#000"/>
<circle cx="377.16" cy="73.97" r="0.85" fill="#000"/>
<circle cx="376.82" cy="78.84" r="0.85" fill="#000"/>
<circle cx="374.39" cy="78.61" r="0.85" fill="#000"/>
<circle cx="374.46" cy="80.15" r="0.85" fill="#000"/>
<circle cx="366.96" cy="82.26" r="0.85" fill="#000"/>
<circle cx="376.81" cy="76.33" r="0.85" fill="#000"/>
<circle cx="371.59" cy="80.94" r="0.85" fill="#000"/>
<circle cx="369.26" cy="81.86" r="0.85" fill="#000"/>
<circle cx="373.62" cy="79.66" r="0.85" fill="#000"/>
<circle cx="371.77" cy="81.12" r="0.85" fill="#000"/>
<circle cx="373.52" cy="80.09" r="0.85" fill="#000"/>
<circle cx="376.1" cy="77.07" r="0.85" fill="#000"/>
<circle cx="372.82" cy="81.31" r="0.85" fill="#000"/>
<circle cx="376.89" cy="74.92" r="0.85" fill="#000"/>
<circle cx="375.25" cy="80.58" r="0.85" fill="#000"/>
<circle cx="372.03" cy="79.46" r="0.85" fill="#000"/>
<circle cx="373.22" cy="78.06" r="0.85" fill="#000"/>
<circle cx="371.75" cy="79.97" r="0.85" fill="#000"/>
<circle cx="374.74" cy="81.83" r="0.85" fill="#000"/>
<circle cx="371.85" cy="81.28" r="0.85" fill="#000"/>
<circle cx="371.16" cy="82.76" r="0.85" fill="#000"/>
<circle cx="378.04" cy="75.86" r="0.85" fill="#000"/>
<circle cx="375.56" cy="79.63" r="0.85" fill="#000"/>
<circle cx="366.66" cy="86.02" r="0.85" fill="#000"/>
<circle cx="374.37" cy="79.8" r="0.85" fill="#000"/>
<circle cx="374.76" cy="77.4" r="0.85" fill="#000"/>
<circle cx="371.72" cy="81.16" r="0.85" fill="#000"/>
<circle cx="370.82" cy="80.37" r="0.85" fill="#000"/>
<circle cx="378.6" cy="74.55" r="0.85" fill="#000"/>
<circle cx="371.54" cy="82.18" r="0.85" fill="#000"/>
<circle cx="372.24" cy="79.42" r="0.85" fill="#000"/>
<circle cx="370.76" cy="79.88" r="0.85" fill="#000"/>
<circle cx="369.32" cy="83.13" r="0.85" fill="#000"/>
<circle cx="377.2" cy="73.99" r="0.85" fill="#000"/>
<circle cx="371.85" cy="79.89" r="0.85" fill="#000"/>
<circle cx="380.96" cy="71.63" r="0.85" fill="#000"/>
<circle cx="366.31" cy="85.29" r="0.85" fill="#000"/>
<circle cx="380.49" cy="75.2" r="0.85" fill="#000"/>
<circle cx="375.94" cy="80.32" r="0.85" fill="#000"/>
<circle cx="378.04" cy="76.85" r="0.85" fill="#000"/>
<circle cx="375.12" cy="75.87" r="0.75" fill="#000"/>
<circle cx="378.55" cy="73.14" r="0.75" fill="#000"/>
<circle cx="380.16" cy="74.83" r="0.75" fill="#000"/>
<circle cx="379.87" cy="76.82" r="0.75" fill="#000"/>
<circle cx="381.39" cy="75.17" r="0.75" fill="#000"/>
<circle cx="377.2" cy="76.22" r="0.75" fill="#000"/>
<circle cx="381.68" cy="75.82" r="0.75" fill="#000"/>
<circle cx="375.38" cy="78.06" r="0.75" fill="#000"/>
<circle cx="391.93" cy="58.94" r="0.9" fill="#000"/>
<circle cx="387.08" cy="66.5" r="0.9" fill="#000"/>
<circle cx="356.04" cy="99.48" r="0.9" fill="#000"/>
<circle cx="359.53" cy="97.35" r="0.9" fill="#000"/>
<circle cx="362.83" cy="89.2" r="0.9" fill="#000"/>
<circle cx="357.01" cy="94.83" r="0.9" fill="#000"/>
<circle cx="374.27" cy="83.38" r="0.9" fill="#000"/>
<line x1="414.5" y1="82.8" x2="472.7" y2="82.8" stroke="#888" stroke-width="1.1"/>
<line x1="443.2" y1="53.7" x2="443.2" y2="112.4" stroke="#888" stroke-width="1.1"/>
<line x1="414.5" y1="53.7" x2="414.5" y2="112.4" stroke="#000" stroke-width="0.8"/>
<line x1="414.5" y1="112.4" x2="472.7" y2="112.4" stroke="#000" stroke-width="0.8"/>
<line x1="413" y1="111.9" x2="414.5" y2="111.9" stroke="#000" stroke-width="0.6"/>
<line x1="414.1" y1="112.4" x2="414.1" y2="113.9" stroke="#000" stroke-width="0.6"/>
<text x="412.7" y="112.9" style="font-size:2.9px;font-weight:bold;" text-anchor="end" fill="#000" stroke="#000" stroke-width="0.25">-15</text>
<text x="414.1" y="116.3" style="font-size:2.9px;font-weight:bold;" text-anchor="middle" fill="#000" stroke="#000" stroke-width="0.25">-15</text>
<line x1="413" y1="102.2" x2="414.5" y2="102.2" stroke="#000" stroke-width="0.6"/>
<line x1="423.8" y1="112.4" x2="423.8" y2="113.9" stroke="#000" stroke-width="0.6"/>
<text x="412.7" y="103.2" style="font-size:2.9px;font-weight:bold;" text-anchor="end" fill="#000" stroke="#000" stroke-width="0.25">-10</text>
<text x="423.8" y="116.3" style="font-size:2.9px;font-weight:bold;" text-anchor="middle" fill="#000" stroke="#000" stroke-width="0.25">-10</text>
<line x1="413" y1="92.5" x2="414.5" y2="92.5" stroke="#000" stroke-width="0.6"/>
<line x1="433.5" y1="112.4" x2="433.5" y2="113.9" stroke="#000" stroke-width="0.6"/>
<text x="412.7" y="93.5" style="font-size:2.9px;font-weight:bold;" text-anchor="end" fill="#000" stroke="#000" stroke-width="0.25">-5</text>
<text x="433.5" y="116.3" style="font-size:2.9px;font-weight:bold;" text-anchor="middle" fill="#000" stroke="#000" stroke-width="0.25">-5</text>
<line x1="413" y1="82.8" x2="414.5" y2="82.8" stroke="#000" stroke-width="0.6"/>
<line x1="443.2" y1="112.4" x2="443.2" y2="113.9" stroke="#000" stroke-width="0.6"/>
<text x="412.7" y="83.8" style="font-size:2.9px;font-weight:bold;" text-anchor="end" fill="#000" stroke="#000" stroke-width="0.25">0</text>
<text x="443.2" y="116.3" style="font-size:2.9px;font-weight:bold;" text-anchor="middle" fill="#000" stroke="#000" stroke-width="0.25">0</text>
<line x1="413" y1="73.1" x2="414.5" y2="73.1" stroke="#000" stroke-width="0.6"/>
<line x1="452.9" y1="112.4" x2="452.9" y2="113.9" stroke="#000" stroke-width="0.6"/>
<text x="412.7" y="74.1" style="font-size:2.9px;font-weight:bold;" text-anchor="end" fill="#000" stroke="#000" stroke-width="0.25">5</text>
<text x="452.9" y="116.3" style="font-size:2.9px;font-weight:bold;" text-anchor="middle" fill="#000" stroke="#000" stroke-width="0.25">5</text>
<line x1="413" y1="63.4" x2="414.5" y2="63.4" stroke="#000" stroke-width="0.6"/>
<line x1="462.6" y1="112.4" x2="462.6" y2="113.9" stroke="#000" stroke-width="0.6"/>
<text x="412.7" y="64.4" style="font-size:2.9px;font-weight:bold;" text-anchor="end" fill="#000" stroke="#000" stroke-width="0.25">10</text>
<text x="462.6" y="116.3" style="font-size:2.9px;font-weight:bold;" text-anchor="middle" fill="#000" stroke="#000" stroke-width="0.25">10</text>
<line x1="413" y1="53.7" x2="414.5" y2="53.7" stroke="#000" stroke-width="0.6"/>
<line x1="472.3" y1="112.4" x2="472.3" y2="113.9" stroke="#000" stroke-width="0.6"/>
<text x="412.7" y="54.7" style="font-size:2.9px;font-weight:bold;" text-anchor="end" fill="#000" stroke="#000" stroke-width="0.25">15</text>
<text x="472.3" y="116.3" style="font-size:2.9px;font-weight:bold;" text-anchor="middle" fill="#000" stroke="#000" stroke-width="0.25">15</text>
<text x="443.6" y="120.2" style="font-size:3.6px;font-weight:bold;" text-anchor="middle" fill="#000" stroke="#000" stroke-width="0.3">PLX3397</text>
<text x="407.3" y="82.8" style="font-size:3.6px;font-weight:bold;" text-anchor="middle" transform="rotate(-90 407.3 82.8)" fill="#000" stroke="#000" stroke-width="0.3">DIV6</text>
<circle cx="446.97" cy="84.44" r="0.85" fill="#000"/>
<circle cx="440.93" cy="85.43" r="0.85" fill="#000"/>
<circle cx="442.3" cy="88.12" r="0.85" fill="#000"/>
<circle cx="438.42" cy="88.47" r="0.85" fill="#000"/>
<circle cx="436.37" cy="89.59" r="0.85" fill="#000"/>
<circle cx="438.12" cy="87.62" r="0.85" fill="#000"/>
<circle cx="436.89" cy="86.66" r="0.85" fill="#000"/>
<circle cx="438.01" cy="93.88" r="0.85" fill="#000"/>
<circle cx="443.4" cy="85.47" r="0.85" fill="#000"/>
<circle cx="437.4" cy="86.76" r="0.85" fill="#000"/>
<circle cx="440.42" cy="85.86" r="0.85" fill="#000"/>
<circle cx="437.06" cy="87.08" r="0.85" fill="#000"/>
<circle cx="434.94" cy="85.36" r="0.85" fill="#000"/>
<circle cx="435.78" cy="88.5" r="0.85" fill="#000"/>
<circle cx="439.77" cy="85.8" r="0.85" fill="#000"/>
<circle cx="438.94" cy="85.61" r="0.85" fill="#000"/>
<circle cx="428.43" cy="91.87" r="0.85" fill="#000"/>
<circle cx="438.81" cy="87.9" r="0.85" fill="#000"/>
<circle cx="444.06" cy="86.7" r="0.85" fill="#000"/>
<circle cx="439.05" cy="91.21" r="0.85" fill="#000"/>
<circle cx="440.15" cy="89.85" r="0.85" fill="#000"/>
<circle cx="434.41" cy="83.9" r="0.85" fill="#000"/>
<circle cx="441.5" cy="85.79" r="0.85" fill="#000"/>
<circle cx="439.83" cy="89.62" r="0.85" fill="#000"/>
<circle cx="436" cy="87.33" r="0.85" fill="#000"/>
<circle cx="432.66" cy="89.16" r="0.85" fill="#000"/>
<circle cx="433.85" cy="88.95" r="0.85" fill="#000"/>
<circle cx="435.8" cy="84.54" r="0.85" fill="#000"/>
<circle cx="442.5" cy="86.44" r="0.85" fill="#000"/>
<circle cx="433.35" cy="91.13" r="0.85" fill="#000"/>
<circle cx="439.12" cy="88.99" r="0.85" fill="#000"/>
<circle cx="440.19" cy="84.21" r="0.85" fill="#000"/>
<circle cx="439.13" cy="87.78" r="0.85" fill="#000"/>
<circle cx="441.76" cy="86.29" r="0.85" fill="#000"/>
<circle cx="441.98" cy="86.24" r="0.85" fill="#000"/>
<circle cx="444.39" cy="85.07" r="0.85" fill="#000"/>
<circle cx="435.96" cy="88.05" r="0.85" fill="#000"/>
<circle cx="437.31" cy="89.69" r="0.85" fill="#000"/>
<circle cx="438.91" cy="85.31" r="0.85" fill="#000"/>
<circle cx="432.49" cy="89.91" r="0.85" fill="#000"/>
<circle cx="438.83" cy="87.28" r="0.85" fill="#000"/>
<circle cx="441.85" cy="88.43" r="0.85" fill="#000"/>
<circle cx="441.4" cy="86.29" r="0.85" fill="#000"/>
<circle cx="439.67" cy="87.05" r="0.85" fill="#000"/>
<circle cx="438.29" cy="88.33" r="0.85" fill="#000"/>
<circle cx="440.64" cy="81.57" r="0.85" fill="#000"/>
<circle cx="442.67" cy="83.35" r="0.85" fill="#000"/>
<circle cx="441.12" cy="86.93" r="0.85" fill="#000"/>
<circle cx="441.28" cy="81.32" r="0.85" fill="#000"/>
<circle cx="435.34" cy="86.68" r="0.85" fill="#000"/>
<circle cx="442.59" cy="84.59" r="0.85" fill="#000"/>
<circle cx="441.89" cy="82.49" r="0.85" fill="#000"/>
<circle cx="446.4" cy="80.64" r="0.85" fill="#000"/>
<circle cx="444.66" cy="83.51" r="0.85" fill="#000"/>
<circle cx="442.07" cy="85.01" r="0.85" fill="#000"/>
<circle cx="440.41" cy="87.13" r="0.85" fill="#000"/>
<circle cx="441.63" cy="82.43" r="0.85" fill="#000"/>
<circle cx="439.01" cy="86.19" r="0.85" fill="#000"/>
<circle cx="441.48" cy="85.57" r="0.85" fill="#000"/>
<circle cx="442.49" cy="84.6" r="0.85" fill="#000"/>
<circle cx="435.88" cy="90.34" r="0.85" fill="#000"/>
<circle cx="441.84" cy="84.07" r="0.85" fill="#000"/>
<circle cx="443.03" cy="84.35" r="0.85" fill="#000"/>
<circle cx="440.22" cy="89.55" r="0.85" fill="#000"/>
<circle cx="443.96" cy="86.45" r="0.85" fill="#000"/>
<circle cx="442.86" cy="87.41" r="0.85" fill="#000"/>
<circle cx="437.52" cy="87.02" r="0.85" fill="#000"/>
<circle cx="438.27" cy="88.52" r="0.85" fill="#000"/>
<circle cx="442.42" cy="83.68" r="0.85" fill="#000"/>
<circle cx="440.85" cy="86.57" r="0.85" fill="#000"/>
<circle cx="437.04" cy="88.58" r="0.85" fill="#000"/>
<circle cx="437.99" cy="87.18" r="0.85" fill="#000"/>
<circle cx="442.04" cy="85.66" r="0.85" fill="#000"/>
<circle cx="437.16" cy="88.81" r="0.85" fill="#000"/>
<circle cx="443.65" cy="84.21" r="0.85" fill="#000"/>
<circle cx="440.38" cy="85.43" r="0.85" fill="#000"/>
<circle cx="441.51" cy="85.22" r="0.85" fill="#000"/>
<circle cx="443.34" cy="82.94" r="0.85" fill="#000"/>
<circle cx="430.83" cy="90.6" r="0.85" fill="#000"/>
<circle cx="448.88" cy="84.93" r="0.85" fill="#000"/>
<circle cx="440.08" cy="83.82" r="0.85" fill="#000"/>
<circle cx="439.69" cy="83.45" r="0.85" fill="#000"/>
<circle cx="435.75" cy="90.77" r="0.85" fill="#000"/>
<circle cx="439.11" cy="88.15" r="0.85" fill="#000"/>
<circle cx="436.35" cy="86.59" r="0.85" fill="#000"/>
<circle cx="440.54" cy="85.9" r="0.85" fill="#000"/>
<circle cx="438.44" cy="86.3" r="0.85" fill="#000"/>
<circle cx="439.33" cy="88.02" r="0.85" fill="#000"/>
<circle cx="441.3" cy="84.78" r="0.85" fill="#000"/>
<circle cx="439.96" cy="84.69" r="0.85" fill="#000"/>
<circle cx="436.27" cy="88.15" r="0.85" fill="#000"/>
<circle cx="438.08" cy="84.18" r="0.85" fill="#000"/>
<circle cx="441.29" cy="81.06" r="0.85" fill="#000"/>
<circle cx="444.59" cy="84.89" r="0.85" fill="#000"/>
<circle cx="436.31" cy="86.79" r="0.85" fill="#000"/>
<circle cx="438.83" cy="87.03" r="0.85" fill="#000"/>
<circle cx="436.41" cy="86.49" r="0.85" fill="#000"/>
<circle cx="440.28" cy="85.17" r="0.85" fill="#000"/>
<circle cx="440.67" cy="87.79" r="0.85" fill="#000"/>
<circle cx="432.76" cy="90" r="0.85" fill="#000"/>
<circle cx="437.74" cy="88.31" r="0.85" fill="#000"/>
<circle cx="442.69" cy="85.16" r="0.85" fill="#000"/>
<circle cx="444.39" cy="83.8" r="0.85" fill="#000"/>
<circle cx="441.84" cy="84.25" r="0.85" fill="#000"/>
<circle cx="442.21" cy="87.85" r="0.85" fill="#000"/>
<circle cx="443.09" cy="84.54" r="0.85" fill="#000"/>
<circle cx="436.68" cy="86.35" r="0.85" fill="#000"/>
<circle cx="440.78" cy="83.06" r="0.85" fill="#000"/>
<circle cx="441.98" cy="84.49" r="0.85" fill="#000"/>
<circle cx="434.64" cy="85" r="0.85" fill="#000"/>
<circle cx="444.32" cy="82.56" r="0.85" fill="#000"/>
<circle cx="441.14" cy="83.05" r="0.85" fill="#000"/>
<circle cx="437.02" cy="86.01" r="0.85" fill="#000"/>
<circle cx="439.78" cy="88.4" r="0.85" fill="#000"/>
<circle cx="440.85" cy="85.03" r="0.85" fill="#000"/>
<circle cx="445" cy="81.9" r="0.85" fill="#000"/>
<circle cx="434.73" cy="92.72" r="0.85" fill="#000"/>
<circle cx="439.46" cy="86.85" r="0.85" fill="#000"/>
<circle cx="436.8" cy="90.71" r="0.85" fill="#000"/>
<circle cx="439.1" cy="89.03" r="0.85" fill="#000"/>
<circle cx="437.56" cy="85.42" r="0.85" fill="#000"/>
<circle cx="440.45" cy="87.57" r="0.85" fill="#000"/>
<circle cx="436.22" cy="88.26" r="0.85" fill="#000"/>
<circle cx="445.09" cy="84.95" r="0.85" fill="#000"/>
<circle cx="445.08" cy="85.55" r="0.85" fill="#000"/>
<circle cx="439.06" cy="85.1" r="0.85" fill="#000"/>
<circle cx="437.31" cy="87.26" r="0.85" fill="#000"/>
<circle cx="435.5" cy="86.77" r="0.85" fill="#000"/>
<circle cx="443.3" cy="86.06" r="0.85" fill="#000"/>
<circle cx="440.28" cy="86.91" r="0.85" fill="#000"/>
<circle cx="433.01" cy="83.45" r="0.85" fill="#000"/>
<circle cx="441.66" cy="83.65" r="0.85" fill="#000"/>
<circle cx="440.91" cy="85.38" r="0.85" fill="#000"/>
<circle cx="447.07" cy="86.88" r="0.85" fill="#000"/>
<circle cx="438.74" cy="87.63" r="0.85" fill="#000"/>
<circle cx="439.06" cy="85.1" r="0.85" fill="#000"/>
<circle cx="437.47" cy="90.14" r="0.85" fill="#000"/>
<circle cx="436.2" cy="86.9" r="0.85" fill="#000"/>
<circle cx="442.66" cy="83.24" r="0.85" fill="#000"/>
<circle cx="444.66" cy="85.17" r="0.85" fill="#000"/>
<circle cx="442.79" cy="83.44" r="0.85" fill="#000"/>
<circle cx="439.19" cy="88.13" r="0.85" fill="#000"/>
<circle cx="442.43" cy="86.52" r="0.85" fill="#000"/>
<circle cx="438.79" cy="88.78" r="0.85" fill="#000"/>
<circle cx="445.13" cy="83.97" r="0.85" fill="#000"/>
<circle cx="438.15" cy="87.52" r="0.85" fill="#000"/>
<circle cx="439" cy="86.42" r="0.85" fill="#000"/>
<circle cx="434.41" cy="91.16" r="0.85" fill="#000"/>
<circle cx="441.28" cy="83.28" r="0.85" fill="#000"/>
<circle cx="436.56" cy="87.47" r="0.85" fill="#000"/>
<circle cx="437.91" cy="91.96" r="0.85" fill="#000"/>
<circle cx="438.74" cy="89.05" r="0.85" fill="#000"/>
<circle cx="442.41" cy="85.53" r="0.85" fill="#000"/>
<circle cx="439.58" cy="89.48" r="0.85" fill="#000"/>
<circle cx="440.15" cy="90.25" r="0.85" fill="#000"/>
<circle cx="440.38" cy="83.05" r="0.85" fill="#000"/>
<circle cx="435.94" cy="86.17" r="0.85" fill="#000"/>
<circle cx="444.07" cy="84.76" r="0.85" fill="#000"/>
<circle cx="443.17" cy="84.56" r="0.85" fill="#000"/>
<circle cx="438.17" cy="91.28" r="0.85" fill="#000"/>
<circle cx="436.35" cy="90.98" r="0.85" fill="#000"/>
<circle cx="447.1" cy="82.42" r="0.85" fill="#000"/>
<circle cx="439.16" cy="89.43" r="0.85" fill="#000"/>
<circle cx="445.05" cy="86.37" r="0.85" fill="#000"/>
<circle cx="444.32" cy="81.9" r="0.85" fill="#000"/>
<circle cx="439.93" cy="87.61" r="0.85" fill="#000"/>
<circle cx="439.56" cy="89.19" r="0.85" fill="#000"/>
<circle cx="441.72" cy="81.79" r="0.85" fill="#000"/>
<circle cx="442.48" cy="82.81" r="0.85" fill="#000"/>
<circle cx="437.53" cy="86.62" r="0.85" fill="#000"/>
<circle cx="436.52" cy="88.69" r="0.85" fill="#000"/>
<circle cx="441.97" cy="79.93" r="0.85" fill="#000"/>
<circle cx="439.93" cy="86.12" r="0.85" fill="#000"/>
<circle cx="433.82" cy="88.57" r="0.85" fill="#000"/>
<circle cx="436.88" cy="90.57" r="0.85" fill="#000"/>
<circle cx="435.08" cy="88.08" r="0.85" fill="#000"/>
<circle cx="438.46" cy="85.4" r="0.85" fill="#000"/>
<circle cx="438.97" cy="86.63" r="0.85" fill="#000"/>
<circle cx="444.27" cy="82.52" r="0.85" fill="#000"/>
<circle cx="442.09" cy="82.06" r="0.85" fill="#000"/>
<circle cx="440.39" cy="88.11" r="0.85" fill="#000"/>
<circle cx="437.23" cy="90.75" r="0.85" fill="#000"/>
<circle cx="440.81" cy="86.66" r="0.85" fill="#000"/>
<circle cx="441.3" cy="83.79" r="0.85" fill="#000"/>
<circle cx="437.18" cy="87.04" r="0.85" fill="#000"/>
<circle cx="443.66" cy="84.33" r="0.85" fill="#000"/>
<circle cx="442.61" cy="85.41" r="0.85" fill="#000"/>
<circle cx="436.75" cy="88.12" r="0.85" fill="#000"/>
<circle cx="433.83" cy="87.42" r="0.85" fill="#000"/>
<circle cx="438.1" cy="84.14" r="0.85" fill="#000"/>
<circle cx="435.87" cy="87.75" r="0.85" fill="#000"/>
<circle cx="440.77" cy="86.25" r="0.85" fill="#000"/>
<circle cx="440.9" cy="87.38" r="0.85" fill="#000"/>
<circle cx="436.35" cy="90.83" r="0.85" fill="#000"/>
<circle cx="437.94" cy="88.84" r="0.85" fill="#000"/>
<circle cx="440.45" cy="86.75" r="0.85" fill="#000"/>
<circle cx="437.64" cy="88.8" r="0.85" fill="#000"/>
<circle cx="433.76" cy="89.76" r="0.85" fill="#000"/>
<circle cx="441" cy="88.58" r="0.85" fill="#000"/>
<circle cx="438.9" cy="85.2" r="0.85" fill="#000"/>
<circle cx="437.53" cy="86.86" r="0.85" fill="#000"/>
<circle cx="438.37" cy="81.61" r="0.85" fill="#000"/>
<circle cx="444.08" cy="81.77" r="0.85" fill="#000"/>
<circle cx="437.56" cy="85.86" r="0.85" fill="#000"/>
<circle cx="439.19" cy="85.75" r="0.85" fill="#000"/>
<circle cx="437.9" cy="86.76" r="0.85" fill="#000"/>
<circle cx="437.3" cy="86.74" r="0.85" fill="#000"/>
<circle cx="445.23" cy="86.77" r="0.85" fill="#000"/>
<circle cx="435.56" cy="87.07" r="0.85" fill="#000"/>
<circle cx="442.2" cy="85.98" r="0.85" fill="#000"/>
<circle cx="441.56" cy="84.54" r="0.85" fill="#000"/>
<circle cx="441.44" cy="82.53" r="0.85" fill="#000"/>
<circle cx="437.66" cy="85.79" r="0.85" fill="#000"/>
<circle cx="440.34" cy="87.5" r="0.85" fill="#000"/>
<circle cx="441.29" cy="88.4" r="0.85" fill="#000"/>
<circle cx="435.03" cy="86.07" r="0.85" fill="#000"/>
<circle cx="436.22" cy="84.2" r="0.85" fill="#000"/>
<circle cx="442.99" cy="85.95" r="0.85" fill="#000"/>
<circle cx="436.92" cy="92.38" r="0.85" fill="#000"/>
<circle cx="439.47" cy="89.96" r="0.85" fill="#000"/>
<circle cx="444.66" cy="87.72" r="0.85" fill="#000"/>
<circle cx="439.9" cy="92.14" r="0.85" fill="#000"/>
<circle cx="438.59" cy="83.92" r="0.85" fill="#000"/>
<circle cx="438.29" cy="88.72" r="0.85" fill="#000"/>
<circle cx="438.19" cy="86.17" r="0.85" fill="#000"/>
<circle cx="442.51" cy="85.56" r="0.85" fill="#000"/>
<circle cx="433.21" cy="88.56" r="0.85" fill="#000"/>
<circle cx="442.78" cy="79.91" r="0.85" fill="#000"/>
<circle cx="440.22" cy="85.7" r="0.85" fill="#000"/>
<circle cx="437.98" cy="85.45" r="0.85" fill="#000"/>
<circle cx="445.3" cy="85.96" r="0.85" fill="#000"/>
<circle cx="439.95" cy="88.46" r="0.85" fill="#000"/>
<circle cx="437.51" cy="87.7" r="0.85" fill="#000"/>
<circle cx="441.25" cy="87.43" r="0.85" fill="#000"/>
<circle cx="438.75" cy="83.75" r="0.85" fill="#000"/>
<circle cx="441.29" cy="84.07" r="0.85" fill="#000"/>
<circle cx="440.95" cy="86.16" r="0.85" fill="#000"/>
<circle cx="441.02" cy="84.58" r="0.85" fill="#000"/>
<circle cx="439.69" cy="84.07" r="0.85" fill="#000"/>
<circle cx="439.7" cy="84.34" r="0.85" fill="#000"/>
<circle cx="444.02" cy="80.12" r="0.85" fill="#000"/>
<circle cx="441.95" cy="85.11" r="0.85" fill="#000"/>
<circle cx="440.51" cy="81.71" r="0.85" fill="#000"/>
<circle cx="445.48" cy="80.29" r="0.85" fill="#000"/>
<circle cx="445.8" cy="82.72" r="0.85" fill="#000"/>
<circle cx="444.26" cy="83.12" r="0.85" fill="#000"/>
<circle cx="438.41" cy="87.18" r="0.85" fill="#000"/>
<circle cx="441.36" cy="80.45" r="0.85" fill="#000"/>
<circle cx="441.73" cy="85.43" r="0.85" fill="#000"/>
<circle cx="446.88" cy="79.74" r="0.85" fill="#000"/>
<circle cx="439.99" cy="84.64" r="0.85" fill="#000"/>
<circle cx="441.71" cy="79.44" r="0.85" fill="#000"/>
<circle cx="440.81" cy="86.49" r="0.85" fill="#000"/>
<circle cx="435.79" cy="90.32" r="0.85" fill="#000"/>
<circle cx="449.54" cy="77.91" r="0.85" fill="#000"/>
<circle cx="441.1" cy="83.59" r="0.85" fill="#000"/>
<circle cx="443.09" cy="82.85" r="0.85" fill="#000"/>
<circle cx="451.38" cy="70.91" r="0.85" fill="#000"/>
<circle cx="448.72" cy="73.95" r="0.85" fill="#000"/>
<circle cx="441.21" cy="89.3" r="0.85" fill="#000"/>
<circle cx="446.17" cy="79.26" r="0.85" fill="#000"/>
<circle cx="444.09" cy="82.25" r="0.85" fill="#000"/>
<circle cx="446.1" cy="78.88" r="0.85" fill="#000"/>
<circle cx="444.74" cy="80.16" r="0.85" fill="#000"/>
<circle cx="443.36" cy="83.49" r="0.85" fill="#000"/>
<circle cx="448.12" cy="79.36" r="0.85" fill="#000"/>
<circle cx="449.9" cy="75.62" r="0.85" fill="#000"/>
<circle cx="444.15" cy="79" r="0.85" fill="#000"/>
<circle cx="442.49" cy="83.71" r="0.85" fill="#000"/>
<circle cx="442.95" cy="82.86" r="0.85" fill="#000"/>
<circle cx="446.01" cy="75.03" r="0.85" fill="#000"/>
<circle cx="445.52" cy="83.54" r="0.85" fill="#000"/>
<circle cx="441.51" cy="88.68" r="0.85" fill="#000"/>
<circle cx="446.14" cy="78.03" r="0.85" fill="#000"/>
<circle cx="444.96" cy="80.32" r="0.85" fill="#000"/>
<circle cx="445.54" cy="79.68" r="0.85" fill="#000"/>
<circle cx="445.89" cy="79.92" r="0.85" fill="#000"/>
<circle cx="441.03" cy="81.96" r="0.85" fill="#000"/>
<circle cx="447.95" cy="83.08" r="0.85" fill="#000"/>
<circle cx="443.28" cy="85.52" r="0.85" fill="#000"/>
<circle cx="445.48" cy="81.57" r="0.85" fill="#000"/>
<circle cx="448.21" cy="75.77" r="0.85" fill="#000"/>
<circle cx="442.58" cy="84.38" r="0.85" fill="#000"/>
<circle cx="442.22" cy="81.95" r="0.85" fill="#000"/>
<circle cx="441.19" cy="83.13" r="0.85" fill="#000"/>
<circle cx="439.8" cy="82.67" r="0.85" fill="#000"/>
<circle cx="445.39" cy="83.9" r="0.85" fill="#000"/>
<circle cx="441.63" cy="83.55" r="0.85" fill="#000"/>
<circle cx="444.8" cy="88.75" r="0.85" fill="#000"/>
<circle cx="444.57" cy="77.65" r="0.85" fill="#000"/>
<circle cx="442.63" cy="86.61" r="0.85" fill="#000"/>
<circle cx="447.59" cy="78.52" r="0.85" fill="#000"/>
<circle cx="444.54" cy="79.99" r="0.85" fill="#000"/>
<circle cx="440.3" cy="86.71" r="0.85" fill="#000"/>
<circle cx="440.6" cy="87.67" r="0.85" fill="#000"/>
<circle cx="443.01" cy="85.54" r="0.85" fill="#000"/>
<circle cx="448.76" cy="76.92" r="0.85" fill="#000"/>
<circle cx="446.43" cy="84.36" r="0.85" fill="#000"/>
<circle cx="443.31" cy="82.96" r="0.85" fill="#000"/>
<circle cx="444.44" cy="80.51" r="0.85" fill="#000"/>
<circle cx="441.58" cy="86.33" r="0.85" fill="#000"/>
<circle cx="446.8" cy="73.96" r="0.85" fill="#000"/>
<circle cx="450.15" cy="77.83" r="0.85" fill="#000"/>
<circle cx="441.62" cy="83.44" r="0.85" fill="#000"/>
<circle cx="445.36" cy="76.37" r="0.85" fill="#000"/>
<circle cx="443.26" cy="84.53" r="0.85" fill="#000"/>
<circle cx="447.06" cy="81.44" r="0.85" fill="#000"/>
<circle cx="441.4" cy="82.72" r="0.85" fill="#000"/>
<circle cx="443.38" cy="85.23" r="0.85" fill="#000"/>
<circle cx="443.17" cy="83.75" r="0.85" fill="#000"/>
<circle cx="443.29" cy="84.49" r="0.85" fill="#000"/>
<circle cx="445.69" cy="81.59" r="0.85" fill="#000"/>
<circle cx="442.17" cy="80.75" r="0.85" fill="#000"/>
<circle cx="441.2" cy="82.31" r="0.85" fill="#000"/>
<circle cx="445.71" cy="81.42" r="0.85" fill="#000"/>
<circle cx="444.6" cy="85.37" r="0.85" fill="#000"/>
<circle cx="444.69" cy="84.13" r="0.85" fill="#000"/>
<circle cx="441.4" cy="83.43" r="0.85" fill="#000"/>
<circle cx="441.78" cy="83.46" r="0.85" fill="#000"/>
<circle cx="445.18" cy="78.39" r="0.85" fill="#000"/>
<circle cx="445.14" cy="78.44" r="0.85" fill="#000"/>
<circle cx="441.73" cy="84.78" r="0.85" fill="#000"/>
<circle cx="445.88" cy="77.49" r="0.85" fill="#000"/>
<circle cx="445.29" cy="82.35" r="0.85" fill="#000"/>
<circle cx="440.79" cy="87.03" r="0.85" fill="#000"/>
<circle cx="447.28" cy="81.91" r="0.85" fill="#000"/>
<circle cx="443.27" cy="80.98" r="0.85" fill="#000"/>
<circle cx="445.25" cy="82.82" r="0.85" fill="#000"/>
<circle cx="449.84" cy="76.93" r="0.85" fill="#000"/>
<circle cx="444.79" cy="79.31" r="0.85" fill="#000"/>
<circle cx="443.04" cy="81.02" r="0.85" fill="#000"/>
<circle cx="443.54" cy="84.65" r="0.85" fill="#000"/>
<circle cx="441.15" cy="83.32" r="0.85" fill="#000"/>
<circle cx="444.26" cy="82.22" r="0.85" fill="#000"/>
<circle cx="442.62" cy="83.75" r="0.85" fill="#000"/>
<circle cx="446.3" cy="77.37" r="0.85" fill="#000"/>
<circle cx="443.22" cy="81.98" r="0.85" fill="#000"/>
<circle cx="438.49" cy="89.36" r="0.85" fill="#000"/>
<circle cx="441.89" cy="86.02" r="0.85" fill="#000"/>
<circle cx="446.01" cy="85.73" r="0.85" fill="#000"/>
<circle cx="445.4" cy="79.15" r="0.85" fill="#000"/>
<circle cx="450.45" cy="78.1" r="0.85" fill="#000"/>
<circle cx="445.3" cy="77.2" r="0.85" fill="#000"/>
<circle cx="446.72" cy="82.23" r="0.85" fill="#000"/>
<circle cx="442.93" cy="85.8" r="0.85" fill="#000"/>
<circle cx="444.17" cy="80.13" r="0.85" fill="#000"/>
<circle cx="447.96" cy="77.42" r="0.85" fill="#000"/>
<circle cx="446.59" cy="77.24" r="0.85" fill="#000"/>
<circle cx="441.56" cy="82.25" r="0.85" fill="#000"/>
<circle cx="446.83" cy="80.21" r="0.85" fill="#000"/>
<circle cx="426.37" cy="86.87" r="0.75" fill="#000"/>
<circle cx="422.84" cy="88.39" r="0.75" fill="#000"/>
<circle cx="427.15" cy="82.63" r="0.75" fill="#000"/>
<circle cx="421.15" cy="81.39" r="0.75" fill="#000"/>
<circle cx="429.08" cy="90.04" r="0.75" fill="#000"/>
<circle cx="429.52" cy="86.67" r="0.75" fill="#000"/>
<circle cx="426.91" cy="89.58" r="0.75" fill="#000"/>
<circle cx="426.85" cy="85.52" r="0.75" fill="#000"/>
<circle cx="430.55" cy="84.93" r="0.75" fill="#000"/>
<circle cx="429.49" cy="83.43" r="0.75" fill="#000"/>
<circle cx="422.92" cy="90.32" r="0.75" fill="#000"/>
<circle cx="426.42" cy="89.31" r="0.75" fill="#000"/>
<circle cx="421.85" cy="87.44" r="0.75" fill="#000"/>
<circle cx="427.22" cy="84.59" r="0.75" fill="#000"/>
<circle cx="450.16" cy="73.55" r="0.75" fill="#000"/>
<circle cx="445.93" cy="76.53" r="0.75" fill="#000"/>
<circle cx="445.81" cy="75.66" r="0.75" fill="#000"/>
<circle cx="448.53" cy="79.77" r="0.75" fill="#000"/>
<circle cx="447.55" cy="75.73" r="0.75" fill="#000"/>
<circle cx="448.81" cy="73.53" r="0.75" fill="#000"/>
<circle cx="447.9" cy="78.22" r="0.75" fill="#000"/>
<circle cx="452.3" cy="76.16" r="0.75" fill="#000"/>
<circle cx="445.97" cy="74.77" r="0.75" fill="#000"/>
<circle cx="447.96" cy="73.51" r="0.75" fill="#000"/>
<circle cx="445.53" cy="59.33" r="0.9" fill="#000"/>
<circle cx="455.81" cy="65.73" r="0.9" fill="#000"/>
<circle cx="459.11" cy="70" r="0.9" fill="#000"/>
<circle cx="430.59" cy="98.71" r="0.9" fill="#000"/>
<circle cx="433.5" cy="95.6" r="0.9" fill="#000"/>
<circle cx="418.95" cy="90.75" r="0.9" fill="#000"/>
<circle cx="420.31" cy="90.37" r="0.9" fill="#000"/>
<circle cx="428.65" cy="81.25" r="0.9" fill="#000"/>
<line x1="414.5" y1="156.1" x2="472.7" y2="156.1" stroke="#888" stroke-width="1.1"/>
<line x1="443.2" y1="127" x2="443.2" y2="185.7" stroke="#888" stroke-width="1.1"/>
<line x1="414.5" y1="127" x2="414.5" y2="185.7" stroke="#000" stroke-width="0.8"/>
<line x1="414.5" y1="185.7" x2="472.7" y2="185.7" stroke="#000" stroke-width="0.8"/>
<line x1="413" y1="185.2" x2="414.5" y2="185.2" stroke="#000" stroke-width="0.6"/>
<line x1="414.1" y1="185.7" x2="414.1" y2="187.2" stroke="#000" stroke-width="0.6"/>
<text x="412.7" y="186.2" style="font-size:2.9px;font-weight:bold;" text-anchor="end" fill="#000" stroke="#000" stroke-width="0.25">-15</text>
<text x="414.1" y="189.6" style="font-size:2.9px;font-weight:bold;" text-anchor="middle" fill="#000" stroke="#000" stroke-width="0.25">-15</text>
<line x1="413" y1="175.5" x2="414.5" y2="175.5" stroke="#000" stroke-width="0.6"/>
<line x1="423.8" y1="185.7" x2="423.8" y2="187.2" stroke="#000" stroke-width="0.6"/>
<text x="412.7" y="176.5" style="font-size:2.9px;font-weight:bold;" text-anchor="end" fill="#000" stroke="#000" stroke-width="0.25">-10</text>
<text x="423.8" y="189.6" style="font-size:2.9px;font-weight:bold;" text-anchor="middle" fill="#000" stroke="#000" stroke-width="0.25">-10</text>
<line x1="413" y1="165.8" x2="414.5" y2="165.8" stroke="#000" stroke-width="0.6"/>
<line x1="433.5" y1="185.7" x2="433.5" y2="187.2" stroke="#000" stroke-width="0.6"/>
<text x="412.7" y="166.8" style="font-size:2.9px;font-weight:bold;" text-anchor="end" fill="#000" stroke="#000" stroke-width="0.25">-5</text>
<text x="433.5" y="189.6" style="font-size:2.9px;font-weight:bold;" text-anchor="middle" fill="#000" stroke="#000" stroke-width="0.25">-5</text>
<line x1="413" y1="156.1" x2="414.5" y2="156.1" stroke="#000" stroke-width="0.6"/>
<line x1="443.2" y1="185.7" x2="443.2" y2="187.2" stroke="#000" stroke-width="0.6"/>
<text x="412.7" y="157.1" style="font-size:2.9px;font-weight:bold;" text-anchor="end" fill="#000" stroke="#000" stroke-width="0.25">0</text>
<text x="443.2" y="189.6" style="font-size:2.9px;font-weight:bold;" text-anchor="middle" fill="#000" stroke="#000" stroke-width="0.25">0</text>
<line x1="413" y1="146.4" x2="414.5" y2="146.4" stroke="#000" stroke-width="0.6"/>
<line x1="452.9" y1="185.7" x2="452.9" y2="187.2" stroke="#000" stroke-width="0.6"/>
<text x="412.7" y="147.4" style="font-size:2.9px;font-weight:bold;" text-anchor="end" fill="#000" stroke="#000" stroke-width="0.25">5</text>
<text x="452.9" y="189.6" style="font-size:2.9px;font-weight:bold;" text-anchor="middle" fill="#000" stroke="#000" stroke-width="0.25">5</text>
<line x1="413" y1="136.7" x2="414.5" y2="136.7" stroke="#000" stroke-width="0.6"/>
<line x1="462.6" y1="185.7" x2="462.6" y2="187.2" stroke="#000" stroke-width="0.6"/>
<text x="412.7" y="137.7" style="font-size:2.9px;font-weight:bold;" text-anchor="end" fill="#000" stroke="#000" stroke-width="0.25">10</text>
<text x="462.6" y="189.6" style="font-size:2.9px;font-weight:bold;" text-anchor="middle" fill="#000" stroke="#000" stroke-width="0.25">10</text>
<line x1="413" y1="127" x2="414.5" y2="127" stroke="#000" stroke-width="0.6"/>
<line x1="472.3" y1="185.7" x2="472.3" y2="187.2" stroke="#000" stroke-width="0.6"/>
<text x="412.7" y="128" style="font-size:2.9px;font-weight:bold;" text-anchor="end" fill="#000" stroke="#000" stroke-width="0.25">15</text>
<text x="472.3" y="189.6" style="font-size:2.9px;font-weight:bold;" text-anchor="middle" fill="#000" stroke="#000" stroke-width="0.25">15</text>
<text x="443.6" y="193.5" style="font-size:3.6px;font-weight:bold;" text-anchor="middle" fill="#000" stroke="#000" stroke-width="0.3">PLX3397</text>
<text x="407.3" y="156.1" style="font-size:3.6px;font-weight:bold;" text-anchor="middle" transform="rotate(-90 407.3 156.1)" fill="#000" stroke="#000" stroke-width="0.3">Chow</text>
<circle cx="440.04" cy="155.8" r="0.85" fill="#000"/>
<circle cx="436.46" cy="159.14" r="0.85" fill="#000"/>
<circle cx="438.8" cy="160.54" r="0.85" fill="#000"/>
<circle cx="446.34" cy="153.83" r="0.85" fill="#000"/>
<circle cx="439.56" cy="157.48" r="0.85" fill="#000"/>
<circle cx="443.64" cy="156.33" r="0.85" fill="#000"/>
<circle cx="441.76" cy="160.12" r="0.85" fill="#000"/>
<circle cx="438.43" cy="161.27" r="0.85" fill="#000"/>
<circle cx="435.06" cy="166.5" r="0.85" fill="#000"/>
<circle cx="434.03" cy="164.07" r="0.85" fill="#000"/>
<circle cx="439.11" cy="160.46" r="0.85" fill="#000"/>
<circle cx="439.95" cy="162.39" r="0.85" fill="#000"/>
<circle cx="439.43" cy="158.81" r="0.85" fill="#000"/>
<circle cx="442.33" cy="159.37" r="0.85" fill="#000"/>
<circle cx="438.31" cy="165.33" r="0.85" fill="#000"/>
<circle cx="437.95" cy="166.06" r="0.85" fill="#000"/>
<circle cx="434.75" cy="160.14" r="0.85" fill="#000"/>
<circle cx="432.02" cy="162.96" r="0.85" fill="#000"/>
<circle cx="440.85" cy="159.13" r="0.85" fill="#000"/>
<circle cx="441.31" cy="156.67" r="0.85" fill="#000"/>
<circle cx="443.36" cy="157.05" r="0.85" fill="#000"/>
<circle cx="437.64" cy="162.28" r="0.85" fill="#000"/>
<circle cx="436.26" cy="161.9" r="0.85" fill="#000"/>
<circle cx="436.96" cy="158.57" r="0.85" fill="#000"/>
<circle cx="433.18" cy="166.86" r="0.85" fill="#000"/>
<circle cx="436.38" cy="166.98" r="0.85" fill="#000"/>
<circle cx="446.35" cy="160.3" r="0.85" fill="#000"/>
<circle cx="438.72" cy="161.27" r="0.85" fill="#000"/>
<circle cx="445.49" cy="159.87" r="0.85" fill="#000"/>
<circle cx="443.45" cy="158.24" r="0.85" fill="#000"/>
<circle cx="439.17" cy="161.3" r="0.85" fill="#000"/>
<circle cx="441.94" cy="160.4" r="0.85" fill="#000"/>
<circle cx="439.43" cy="158.52" r="0.85" fill="#000"/>
<circle cx="446.13" cy="160.45" r="0.85" fill="#000"/>
<circle cx="445.03" cy="152.82" r="0.85" fill="#000"/>
<circle cx="438.02" cy="159.7" r="0.85" fill="#000"/>
<circle cx="438.08" cy="156.27" r="0.85" fill="#000"/>
<circle cx="440.44" cy="159.2" r="0.85" fill="#000"/>
<circle cx="438.91" cy="160.31" r="0.85" fill="#000"/>
<circle cx="439.09" cy="161.88" r="0.85" fill="#000"/>
<circle cx="446.9" cy="158.63" r="0.85" fill="#000"/>
<circle cx="427.12" cy="168.96" r="0.85" fill="#000"/>
<circle cx="439.2" cy="158.65" r="0.85" fill="#000"/>
<circle cx="438.99" cy="160.11" r="0.85" fill="#000"/>
<circle cx="440.87" cy="155.89" r="0.85" fill="#000"/>
<circle cx="438.14" cy="161.32" r="0.85" fill="#000"/>
<circle cx="446.48" cy="152.79" r="0.85" fill="#000"/>
<circle cx="436.27" cy="155.92" r="0.85" fill="#000"/>
<circle cx="442.42" cy="158.66" r="0.85" fill="#000"/>
<circle cx="435.61" cy="161.53" r="0.85" fill="#000"/>
<circle cx="436.8" cy="164.05" r="0.85" fill="#000"/>
<circle cx="435.18" cy="163.87" r="0.85" fill="#000"/>
<circle cx="443.58" cy="157.4" r="0.85" fill="#000"/>
<circle cx="434.65" cy="161.31" r="0.85" fill="#000"/>
<circle cx="439.94" cy="156.9" r="0.85" fill="#000"/>
<circle cx="443.9" cy="156.48" r="0.85" fill="#000"/>
<circle cx="439.2" cy="159.7" r="0.85" fill="#000"/>
<circle cx="435.75" cy="160.49" r="0.85" fill="#000"/>
<circle cx="444.5" cy="155.17" r="0.85" fill="#000"/>
<circle cx="438.88" cy="160.48" r="0.85" fill="#000"/>
<circle cx="436.98" cy="163.28" r="0.85" fill="#000"/>
<circle cx="438.31" cy="162.38" r="0.85" fill="#000"/>
<circle cx="438.18" cy="164.33" r="0.85" fill="#000"/>
<circle cx="440.93" cy="158.16" r="0.85" fill="#000"/>
<circle cx="435.68" cy="168.02" r="0.85" fill="#000"/>
<circle cx="439.68" cy="156.44" r="0.85" fill="#000"/>
<circle cx="437.15" cy="162.34" r="0.85" fill="#000"/>
<circle cx="437.72" cy="159.04" r="0.85" fill="#000"/>
<circle cx="436.51" cy="159.12" r="0.85" fill="#000"/>
<circle cx="438.65" cy="157.67" r="0.85" fill="#000"/>
<circle cx="439.82" cy="159.7" r="0.85" fill="#000"/>
<circle cx="434.55" cy="164.81" r="0.85" fill="#000"/>
<circle cx="438.8" cy="158.22" r="0.85" fill="#000"/>
<circle cx="440.56" cy="160.32" r="0.85" fill="#000"/>
<circle cx="441.14" cy="155.64" r="0.85" fill="#000"/>
<circle cx="439.19" cy="160.7" r="0.85" fill="#000"/>
<circle cx="438.33" cy="158.19" r="0.85" fill="#000"/>
<circle cx="441.59" cy="160.14" r="0.85" fill="#000"/>
<circle cx="441.02" cy="159.43" r="0.85" fill="#000"/>
<circle cx="437.08" cy="158.05" r="0.85" fill="#000"/>
<circle cx="442.58" cy="158.88" r="0.85" fill="#000"/>
<circle cx="439.99" cy="157.73" r="0.85" fill="#000"/>
<circle cx="437.47" cy="161.18" r="0.85" fill="#000"/>
<circle cx="442.04" cy="161.97" r="0.85" fill="#000"/>
<circle cx="440.85" cy="156.48" r="0.85" fill="#000"/>
<circle cx="441.47" cy="161.27" r="0.85" fill="#000"/>
<circle cx="440.82" cy="160.55" r="0.85" fill="#000"/>
<circle cx="441.7" cy="156.19" r="0.85" fill="#000"/>
<circle cx="440.46" cy="160.57" r="0.85" fill="#000"/>
<circle cx="437.64" cy="158.6" r="0.85" fill="#000"/>
<circle cx="436.57" cy="160.31" r="0.85" fill="#000"/>
<circle cx="441.49" cy="158.57" r="0.85" fill="#000"/>
<circle cx="448.07" cy="152.76" r="0.85" fill="#000"/>
<circle cx="447.2" cy="158.67" r="0.85" fill="#000"/>
<circle cx="431.87" cy="162.6" r="0.85" fill="#000"/>
<circle cx="441.93" cy="158.33" r="0.85" fill="#000"/>
<circle cx="439.52" cy="164.14" r="0.85" fill="#000"/>
<circle cx="437.51" cy="163.46" r="0.85" fill="#000"/>
<circle cx="438.93" cy="157.55" r="0.85" fill="#000"/>
<circle cx="439.89" cy="158.13" r="0.85" fill="#000"/>
<circle cx="437.27" cy="162.13" r="0.85" fill="#000"/>
<circle cx="440.1" cy="159.62" r="0.85" fill="#000"/>
<circle cx="444.12" cy="158.1" r="0.85" fill="#000"/>
<circle cx="446.31" cy="156.72" r="0.85" fill="#000"/>
<circle cx="443.41" cy="158.38" r="0.85" fill="#000"/>
<circle cx="445.46" cy="154.54" r="0.85" fill="#000"/>
<circle cx="441.1" cy="156.28" r="0.85" fill="#000"/>
<circle cx="437.49" cy="163.49" r="0.85" fill="#000"/>
<circle cx="432.63" cy="161.43" r="0.85" fill="#000"/>
<circle cx="437.28" cy="162.52" r="0.85" fill="#000"/>
<circle cx="439.6" cy="154.27" r="0.85" fill="#000"/>
<circle cx="433.67" cy="163.1" r="0.85" fill="#000"/>
<circle cx="438.33" cy="158.9" r="0.85" fill="#000"/>
<circle cx="433.43" cy="164.92" r="0.85" fill="#000"/>
<circle cx="442.64" cy="153.07" r="0.85" fill="#000"/>
<circle cx="445.28" cy="157.18" r="0.85" fill="#000"/>
<circle cx="439.9" cy="159.34" r="0.85" fill="#000"/>
<circle cx="434.9" cy="166.44" r="0.85" fill="#000"/>
<circle cx="442.35" cy="156.6" r="0.85" fill="#000"/>
<circle cx="439.21" cy="156.51" r="0.85" fill="#000"/>
<circle cx="436.21" cy="160.5" r="0.85" fill="#000"/>
<circle cx="439.74" cy="159.33" r="0.85" fill="#000"/>
<circle cx="441.42" cy="157.48" r="0.85" fill="#000"/>
<circle cx="440.64" cy="157.84" r="0.85" fill="#000"/>
<circle cx="446.48" cy="154.91" r="0.85" fill="#000"/>
<circle cx="443.24" cy="155.02" r="0.85" fill="#000"/>
<circle cx="438.49" cy="158.11" r="0.85" fill="#000"/>
<circle cx="436.71" cy="158.52" r="0.85" fill="#000"/>
<circle cx="436.88" cy="162.56" r="0.85" fill="#000"/>
<circle cx="440.84" cy="156.26" r="0.85" fill="#000"/>
<circle cx="442.88" cy="154.57" r="0.85" fill="#000"/>
<circle cx="438.98" cy="162.16" r="0.85" fill="#000"/>
<circle cx="441.63" cy="157" r="0.85" fill="#000"/>
<circle cx="436.38" cy="159.24" r="0.85" fill="#000"/>
<circle cx="440.4" cy="161.1" r="0.85" fill="#000"/>
<circle cx="441.25" cy="161.39" r="0.85" fill="#000"/>
<circle cx="436.64" cy="160.49" r="0.85" fill="#000"/>
<circle cx="434.27" cy="163.19" r="0.85" fill="#000"/>
<circle cx="434.99" cy="160.88" r="0.85" fill="#000"/>
<circle cx="437.17" cy="160.65" r="0.85" fill="#000"/>
<circle cx="434.46" cy="164.01" r="0.85" fill="#000"/>
<circle cx="443.02" cy="155.57" r="0.85" fill="#000"/>
<circle cx="433.29" cy="161.69" r="0.85" fill="#000"/>
<circle cx="442.82" cy="157.82" r="0.85" fill="#000"/>
<circle cx="444.66" cy="158.16" r="0.85" fill="#000"/>
<circle cx="439.41" cy="156.62" r="0.85" fill="#000"/>
<circle cx="444.28" cy="152.54" r="0.85" fill="#000"/>
<circle cx="435.89" cy="166.56" r="0.85" fill="#000"/>
<circle cx="441.07" cy="161.79" r="0.85" fill="#000"/>
<circle cx="439.25" cy="162.78" r="0.85" fill="#000"/>
<circle cx="443.41" cy="154.4" r="0.85" fill="#000"/>
<circle cx="441.65" cy="157.7" r="0.85" fill="#000"/>
<circle cx="439.87" cy="159.83" r="0.85" fill="#000"/>
<circle cx="441.05" cy="157.57" r="0.85" fill="#000"/>
<circle cx="441.31" cy="159.08" r="0.85" fill="#000"/>
<circle cx="446.34" cy="153.52" r="0.85" fill="#000"/>
<circle cx="444.58" cy="152.2" r="0.85" fill="#000"/>
<circle cx="436.64" cy="165.76" r="0.85" fill="#000"/>
<circle cx="444.1" cy="156.89" r="0.85" fill="#000"/>
<circle cx="439.99" cy="159.64" r="0.85" fill="#000"/>
<circle cx="440.16" cy="161.86" r="0.85" fill="#000"/>
<circle cx="439.35" cy="160.64" r="0.85" fill="#000"/>
<circle cx="439.65" cy="165.13" r="0.85" fill="#000"/>
<circle cx="442.57" cy="156.22" r="0.85" fill="#000"/>
<circle cx="433.68" cy="165.58" r="0.85" fill="#000"/>
<circle cx="439.82" cy="157.54" r="0.85" fill="#000"/>
<circle cx="439.71" cy="155.71" r="0.85" fill="#000"/>
<circle cx="439.79" cy="161.67" r="0.85" fill="#000"/>
<circle cx="437.35" cy="159.1" r="0.85" fill="#000"/>
<circle cx="437.57" cy="158.69" r="0.85" fill="#000"/>
<circle cx="443.27" cy="155.05" r="0.85" fill="#000"/>
<circle cx="443.26" cy="156.98" r="0.85" fill="#000"/>
<circle cx="439.67" cy="160.72" r="0.85" fill="#000"/>
<circle cx="437.58" cy="164.75" r="0.85" fill="#000"/>
<circle cx="437.77" cy="163.36" r="0.85" fill="#000"/>
<circle cx="434.72" cy="162.57" r="0.85" fill="#000"/>
<circle cx="441.3" cy="158.88" r="0.85" fill="#000"/>
<circle cx="444.49" cy="153.25" r="0.85" fill="#000"/>
<circle cx="443.36" cy="157.99" r="0.85" fill="#000"/>
<circle cx="434.5" cy="161.71" r="0.85" fill="#000"/>
<circle cx="440.78" cy="156.57" r="0.85" fill="#000"/>
<circle cx="441.16" cy="154.93" r="0.85" fill="#000"/>
<circle cx="438.7" cy="158.27" r="0.85" fill="#000"/>
<circle cx="436.58" cy="167.37" r="0.85" fill="#000"/>
<circle cx="438.16" cy="156.59" r="0.85" fill="#000"/>
<circle cx="433.86" cy="161.03" r="0.85" fill="#000"/>
<circle cx="437.33" cy="161.99" r="0.85" fill="#000"/>
<circle cx="439.86" cy="158.56" r="0.85" fill="#000"/>
<circle cx="436.31" cy="161.44" r="0.85" fill="#000"/>
<circle cx="441.26" cy="155.94" r="0.85" fill="#000"/>
<circle cx="437.07" cy="157.27" r="0.85" fill="#000"/>
<circle cx="446.37" cy="148.12" r="0.85" fill="#000"/>
<circle cx="435.03" cy="162.28" r="0.85" fill="#000"/>
<circle cx="433.22" cy="163.12" r="0.85" fill="#000"/>
<circle cx="441.65" cy="160.65" r="0.85" fill="#000"/>
<circle cx="434.17" cy="162.89" r="0.85" fill="#000"/>
<circle cx="441.9" cy="159.56" r="0.85" fill="#000"/>
<circle cx="438.8" cy="166.26" r="0.85" fill="#000"/>
<circle cx="437.24" cy="160.69" r="0.85" fill="#000"/>
<circle cx="440.24" cy="154.81" r="0.85" fill="#000"/>
<circle cx="435.72" cy="167.87" r="0.85" fill="#000"/>
<circle cx="441.29" cy="159.51" r="0.85" fill="#000"/>
<circle cx="440.71" cy="156.64" r="0.85" fill="#000"/>
<circle cx="441.81" cy="153.99" r="0.85" fill="#000"/>
<circle cx="444.43" cy="159.86" r="0.85" fill="#000"/>
<circle cx="439.49" cy="154.32" r="0.85" fill="#000"/>
<circle cx="438.29" cy="157.83" r="0.85" fill="#000"/>
<circle cx="439.51" cy="160.41" r="0.85" fill="#000"/>
<circle cx="445.24" cy="152.43" r="0.85" fill="#000"/>
<circle cx="438.86" cy="157.55" r="0.85" fill="#000"/>
<circle cx="435.12" cy="164.47" r="0.85" fill="#000"/>
<circle cx="442.86" cy="156.74" r="0.85" fill="#000"/>
<circle cx="436" cy="160.85" r="0.85" fill="#000"/>
<circle cx="440.86" cy="155.1" r="0.85" fill="#000"/>
<circle cx="443.05" cy="157.39" r="0.85" fill="#000"/>
<circle cx="438.02" cy="160.82" r="0.85" fill="#000"/>
<circle cx="438.91" cy="156.12" r="0.85" fill="#000"/>
<circle cx="445.25" cy="151.62" r="0.85" fill="#000"/>
<circle cx="441.03" cy="158.83" r="0.85" fill="#000"/>
<circle cx="442.86" cy="157.72" r="0.85" fill="#000"/>
<circle cx="440.53" cy="162.79" r="0.85" fill="#000"/>
<circle cx="438.23" cy="156.68" r="0.85" fill="#000"/>
<circle cx="436.12" cy="165.66" r="0.85" fill="#000"/>
<circle cx="439.14" cy="155.43" r="0.85" fill="#000"/>
<circle cx="444.77" cy="156.31" r="0.85" fill="#000"/>
<circle cx="438.04" cy="160.73" r="0.85" fill="#000"/>
<circle cx="436.46" cy="161.55" r="0.85" fill="#000"/>
<circle cx="438.66" cy="163.71" r="0.85" fill="#000"/>
<circle cx="437.68" cy="161.37" r="0.85" fill="#000"/>
<circle cx="436.7" cy="164.28" r="0.85" fill="#000"/>
<circle cx="442.87" cy="152.05" r="0.85" fill="#000"/>
<circle cx="438.71" cy="161.03" r="0.85" fill="#000"/>
<circle cx="441.46" cy="158.47" r="0.85" fill="#000"/>
<circle cx="436.98" cy="157.74" r="0.85" fill="#000"/>
<circle cx="436.07" cy="163.78" r="0.85" fill="#000"/>
<circle cx="437.39" cy="163.17" r="0.85" fill="#000"/>
<circle cx="438.88" cy="158.38" r="0.85" fill="#000"/>
<circle cx="444.74" cy="153.76" r="0.85" fill="#000"/>
<circle cx="439.83" cy="162.27" r="0.85" fill="#000"/>
<circle cx="439.49" cy="161.74" r="0.85" fill="#000"/>
<circle cx="439.37" cy="156.99" r="0.85" fill="#000"/>
<circle cx="440.42" cy="159.2" r="0.85" fill="#000"/>
<circle cx="437.08" cy="161.23" r="0.85" fill="#000"/>
<circle cx="440.09" cy="161.26" r="0.85" fill="#000"/>
<circle cx="437.94" cy="158.3" r="0.85" fill="#000"/>
<circle cx="433.91" cy="164.67" r="0.85" fill="#000"/>
<circle cx="435.63" cy="158.36" r="0.85" fill="#000"/>
<circle cx="441.82" cy="156.32" r="0.85" fill="#000"/>
<circle cx="441.09" cy="157.44" r="0.85" fill="#000"/>
<circle cx="440.73" cy="162.44" r="0.85" fill="#000"/>
<circle cx="445.65" cy="152.48" r="0.85" fill="#000"/>
<circle cx="439.76" cy="156.74" r="0.85" fill="#000"/>
<circle cx="447.08" cy="155.44" r="0.85" fill="#000"/>
<circle cx="443.11" cy="156.27" r="0.85" fill="#000"/>
<circle cx="442.91" cy="155.07" r="0.85" fill="#000"/>
<circle cx="440.29" cy="158.35" r="0.85" fill="#000"/>
<circle cx="445.54" cy="152.32" r="0.85" fill="#000"/>
<circle cx="444.92" cy="154.69" r="0.85" fill="#000"/>
<circle cx="447.16" cy="156.29" r="0.85" fill="#000"/>
<circle cx="448.01" cy="152.34" r="0.85" fill="#000"/>
<circle cx="440.38" cy="158.68" r="0.85" fill="#000"/>
<circle cx="438.35" cy="163.44" r="0.85" fill="#000"/>
<circle cx="443.61" cy="156.78" r="0.85" fill="#000"/>
<circle cx="447.31" cy="154.02" r="0.85" fill="#000"/>
<circle cx="440.23" cy="159.83" r="0.85" fill="#000"/>
<circle cx="450.74" cy="149.51" r="0.85" fill="#000"/>
<circle cx="442.62" cy="157.98" r="0.85" fill="#000"/>
<circle cx="440.92" cy="157.74" r="0.85" fill="#000"/>
<circle cx="446.24" cy="150.93" r="0.85" fill="#000"/>
<circle cx="448.76" cy="150.62" r="0.85" fill="#000"/>
<circle cx="442.45" cy="157.86" r="0.85" fill="#000"/>
<circle cx="436.67" cy="162.79" r="0.85" fill="#000"/>
<circle cx="446.22" cy="153.84" r="0.85" fill="#000"/>
<circle cx="446.04" cy="155.94" r="0.85" fill="#000"/>
<circle cx="447.89" cy="151.27" r="0.85" fill="#000"/>
<circle cx="444.9" cy="153.46" r="0.85" fill="#000"/>
<circle cx="436.94" cy="161.68" r="0.85" fill="#000"/>
<circle cx="441.62" cy="153.34" r="0.85" fill="#000"/>
<circle cx="444.11" cy="155.85" r="0.85" fill="#000"/>
<circle cx="447.73" cy="154.02" r="0.85" fill="#000"/>
<circle cx="449.72" cy="151.74" r="0.85" fill="#000"/>
<circle cx="444.55" cy="156.3" r="0.85" fill="#000"/>
<circle cx="447.57" cy="156.31" r="0.85" fill="#000"/>
<circle cx="447.16" cy="154.01" r="0.85" fill="#000"/>
<circle cx="444.93" cy="156.45" r="0.85" fill="#000"/>
<circle cx="445.55" cy="153.35" r="0.85" fill="#000"/>
<circle cx="446.81" cy="152.1" r="0.85" fill="#000"/>
<circle cx="446.93" cy="150.69" r="0.85" fill="#000"/>
<circle cx="443.39" cy="157.73" r="0.85" fill="#000"/>
<circle cx="440.29" cy="156.6" r="0.85" fill="#000"/>
<circle cx="443.44" cy="153.36" r="0.85" fill="#000"/>
<circle cx="444.91" cy="156.19" r="0.85" fill="#000"/>
<circle cx="447.91" cy="148.06" r="0.85" fill="#000"/>
<circle cx="444.12" cy="156.68" r="0.85" fill="#000"/>
<circle cx="441.8" cy="154.99" r="0.85" fill="#000"/>
<circle cx="442.71" cy="156.78" r="0.85" fill="#000"/>
<circle cx="447.14" cy="152.42" r="0.85" fill="#000"/>
<circle cx="445.15" cy="155.09" r="0.85" fill="#000"/>
<circle cx="442.52" cy="155.82" r="0.85" fill="#000"/>
<circle cx="445.29" cy="152.77" r="0.85" fill="#000"/>
<circle cx="443.01" cy="155.08" r="0.85" fill="#000"/>
<circle cx="446.41" cy="152.86" r="0.85" fill="#000"/>
<circle cx="446.74" cy="150.8" r="0.85" fill="#000"/>
<circle cx="445.44" cy="153.65" r="0.85" fill="#000"/>
<circle cx="441.37" cy="156.43" r="0.85" fill="#000"/>
<circle cx="444.43" cy="155.22" r="0.85" fill="#000"/>
<circle cx="441.87" cy="155.55" r="0.85" fill="#000"/>
<circle cx="453.69" cy="146.37" r="0.85" fill="#000"/>
<circle cx="445.05" cy="153.27" r="0.85" fill="#000"/>
<circle cx="442.68" cy="155.82" r="0.85" fill="#000"/>
<circle cx="442.44" cy="157.45" r="0.85" fill="#000"/>
<circle cx="445.56" cy="153.26" r="0.85" fill="#000"/>
<circle cx="444.36" cy="156.21" r="0.85" fill="#000"/>
<circle cx="445.67" cy="155.73" r="0.85" fill="#000"/>
<circle cx="447.45" cy="152.87" r="0.85" fill="#000"/>
<circle cx="444.75" cy="152.83" r="0.85" fill="#000"/>
<circle cx="446.7" cy="155.31" r="0.85" fill="#000"/>
<circle cx="443.88" cy="154.34" r="0.85" fill="#000"/>
<circle cx="440.95" cy="162.06" r="0.85" fill="#000"/>
<circle cx="444.5" cy="154.65" r="0.85" fill="#000"/>
<circle cx="446.25" cy="153" r="0.85" fill="#000"/>
<circle cx="445.21" cy="153.52" r="0.85" fill="#000"/>
<circle cx="449.55" cy="149.57" r="0.85" fill="#000"/>
<circle cx="446.65" cy="153.6" r="0.85" fill="#000"/>
<circle cx="448.67" cy="151.58" r="0.85" fill="#000"/>
<circle cx="447.33" cy="156.38" r="0.85" fill="#000"/>
<circle cx="445.61" cy="153.86" r="0.85" fill="#000"/>
<circle cx="443.14" cy="153.14" r="0.85" fill="#000"/>
<circle cx="446.17" cy="153.5" r="0.85" fill="#000"/>
<circle cx="442.92" cy="152.18" r="0.85" fill="#000"/>
<circle cx="447.36" cy="150.99" r="0.85" fill="#000"/>
<circle cx="442.09" cy="153.95" r="0.85" fill="#000"/>
<circle cx="446.7" cy="153.32" r="0.85" fill="#000"/>
<circle cx="444.39" cy="157.8" r="0.85" fill="#000"/>
<circle cx="447.02" cy="154.65" r="0.85" fill="#000"/>
<circle cx="447.69" cy="152.85" r="0.85" fill="#000"/>
<circle cx="442.58" cy="155.37" r="0.85" fill="#000"/>
<circle cx="445.49" cy="155.95" r="0.85" fill="#000"/>
<circle cx="444.49" cy="153.39" r="0.85" fill="#000"/>
<circle cx="443.88" cy="157.66" r="0.85" fill="#000"/>
<circle cx="443.91" cy="156.89" r="0.85" fill="#000"/>
<circle cx="442.74" cy="155.87" r="0.85" fill="#000"/>
<circle cx="444.57" cy="154.91" r="0.85" fill="#000"/>
<circle cx="438.99" cy="158.29" r="0.85" fill="#000"/>
<circle cx="444.06" cy="155.7" r="0.85" fill="#000"/>
<circle cx="445.29" cy="150.2" r="0.85" fill="#000"/>
<circle cx="440.26" cy="161.05" r="0.85" fill="#000"/>
<circle cx="447.4" cy="153.76" r="0.85" fill="#000"/>
<circle cx="449.28" cy="152.64" r="0.85" fill="#000"/>
<circle cx="443.07" cy="154.09" r="0.85" fill="#000"/>
<circle cx="447.92" cy="150.96" r="0.85" fill="#000"/>
<circle cx="446.33" cy="153.34" r="0.85" fill="#000"/>
<circle cx="443.22" cy="155.97" r="0.85" fill="#000"/>
<circle cx="449.17" cy="149.46" r="0.85" fill="#000"/>
<circle cx="444.82" cy="153.69" r="0.85" fill="#000"/>
<circle cx="447.64" cy="149.76" r="0.85" fill="#000"/>
<circle cx="444.29" cy="154.87" r="0.85" fill="#000"/>
<circle cx="445.9" cy="148.4" r="0.85" fill="#000"/>
<circle cx="445.59" cy="151.23" r="0.85" fill="#000"/>
<circle cx="439.42" cy="156.98" r="0.85" fill="#000"/>
<circle cx="426.95" cy="158.15" r="0.75" fill="#000"/>
<circle cx="426.15" cy="163.97" r="0.75" fill="#000"/>
<circle cx="421.99" cy="165.03" r="0.75" fill="#000"/>
<circle cx="429.53" cy="164.71" r="0.75" fill="#000"/>
<circle cx="420.2" cy="156.43" r="0.75" fill="#000"/>
<circle cx="422.24" cy="157.14" r="0.75" fill="#000"/>
<circle cx="420.92" cy="161.29" r="0.75" fill="#000"/>
<circle cx="422.51" cy="157.75" r="0.75" fill="#000"/>
<circle cx="427.08" cy="159.57" r="0.75" fill="#000"/>
<circle cx="428.78" cy="157.34" r="0.75" fill="#000"/>
<circle cx="423.95" cy="159.95" r="0.75" fill="#000"/>
<circle cx="425.11" cy="164.72" r="0.75" fill="#000"/>
<circle cx="453.56" cy="147.61" r="0.75" fill="#000"/>
<circle cx="453.4" cy="150.62" r="0.75" fill="#000"/>
<circle cx="451.26" cy="148.62" r="0.75" fill="#000"/>
<circle cx="452.73" cy="151.62" r="0.75" fill="#000"/>
<circle cx="449.77" cy="148.46" r="0.75" fill="#000"/>
<circle cx="447.64" cy="147.93" r="0.75" fill="#000"/>
<circle cx="452.79" cy="148.94" r="0.75" fill="#000"/>
<circle cx="452.11" cy="147.52" r="0.75" fill="#000"/>
<circle cx="445.53" cy="134.18" r="0.9" fill="#000"/>
<circle cx="456" cy="137.67" r="0.9" fill="#000"/>
<circle cx="459.11" cy="141.74" r="0.9" fill="#000"/>
<circle cx="417.98" cy="166.77" r="0.9" fill="#000"/>
<circle cx="422.83" cy="160.76" r="0.9" fill="#000"/>
<circle cx="426.71" cy="164.83" r="0.9" fill="#000"/>
<circle cx="431.56" cy="168.32" r="0.9" fill="#000"/>
<circle cx="456.78" cy="156.1" r="0.9" fill="#000"/>
<line x1="256.5" y1="48.5" x2="256.5" y2="269.3" stroke="#000" stroke-width="1.3"/>
<line x1="329.5" y1="48.5" x2="329.5" y2="269.3" stroke="#000" stroke-width="1.3"/>
<line x1="402.5" y1="48.5" x2="402.5" y2="269.3" stroke="#000" stroke-width="1.3"/>
<line x1="475.5" y1="48.5" x2="475.5" y2="269.3" stroke="#000" stroke-width="1.3"/>
<line x1="256" y1="49" x2="476" y2="49" stroke="#000" stroke-width="1.3"/>
<line x1="256" y1="122.3" x2="476" y2="122.3" stroke="#000" stroke-width="1.3"/>
<line x1="256" y1="195.6" x2="476" y2="195.6" stroke="#000" stroke-width="1.3"/>
<line x1="256" y1="268.8" x2="476" y2="268.8" stroke="#000" stroke-width="1.3"/>
<text x="292.7" y="44" style="font-size:9.4px;font-weight:bold;" text-anchor="middle" fill="#000" stroke="#000" stroke-width="0.26">DIV6</text>
<text x="366" y="44" style="font-size:9.4px;font-weight:bold;" text-anchor="middle" fill="#000" stroke="#000" stroke-width="0.26">Chow</text>
<text x="439" y="44" style="font-size:9.4px;font-weight:bold;" text-anchor="middle" fill="#000" stroke="#000" stroke-width="0.26">PLX3397</text>
<text x="246.7" y="85.7" style="font-size:9.4px;font-weight:bold;" text-anchor="middle" transform="rotate(-90 246.7 85.7)" fill="#000" stroke="#000" stroke-width="0.26">DIV6</text>
<text x="246.7" y="158.9" style="font-size:9.4px;font-weight:bold;" text-anchor="middle" transform="rotate(-90 246.7 158.9)" fill="#000" stroke="#000" stroke-width="0.26">Chow</text>
<text x="246.7" y="232.1" style="font-size:9.4px;font-weight:bold;" text-anchor="middle" transform="rotate(-90 246.7 232.1)" fill="#000" stroke="#000" stroke-width="0.26">PLX3397</text>
<defs>
<linearGradient id="gB" x1="0" y1="0" x2="0" y2="1"><stop offset="0" stop-color="#002cff"/><stop offset="0.04" stop-color="#233eff"/><stop offset="0.08" stop-color="#3d4fff"/><stop offset="0.12" stop-color="#5461ff"/><stop offset="0.17" stop-color="#6a72ff"/><stop offset="0.21" stop-color="#7f84ff"/><stop offset="0.25" stop-color="#9296ff"/><stop offset="0.29" stop-color="#a6a7ff"/><stop offset="0.33" stop-color="#b8b9ff"/><stop offset="0.38" stop-color="#cbcaff"/><stop offset="0.42" stop-color="#dcdcff"/><stop offset="0.46" stop-color="#eeedff"/><stop offset="0.5" stop-color="#ffffff"/><stop offset="0.54" stop-color="#ffedee"/><stop offset="0.58" stop-color="#ffdbdc"/><stop offset="0.62" stop-color="#ffc9cb"/><stop offset="0.67" stop-color="#ffb7b8"/><stop offset="0.71" stop-color="#ffa5a6"/><stop offset="0.75" stop-color="#ff9292"/><stop offset="0.79" stop-color="#ff807f"/><stop offset="0.83" stop-color="#ff6e6a"/><stop offset="0.88" stop-color="#ff5c54"/><stop offset="0.92" stop-color="#ff4a3d"/><stop offset="0.96" stop-color="#ff3823"/><stop offset="1" stop-color="#ff2600"/></linearGradient>
<linearGradient id="g1" x1="0" y1="0" x2="1" y2="0"><stop offset="0" stop-color="#002cff"/><stop offset="0.04" stop-color="#233eff"/><stop offset="0.08" stop-color="#3d50ff"/><stop offset="0.12" stop-color="#5561ff"/><stop offset="0.17" stop-color="#6b73ff"/><stop offset="0.21" stop-color="#8085ff"/><stop offset="0.25" stop-color="#9497ff"/><stop offset="0.29" stop-color="#a7a8ff"/><stop offset="0.33" stop-color="#babaff"/><stop offset="0.38" stop-color="#ccccff"/><stop offset="0.42" stop-color="#dedeff"/><stop offset="0.46" stop-color="#f0f0ff"/><stop offset="0.5" stop-color="#fffdfd"/><stop offset="0.54" stop-color="#ffebec"/><stop offset="0.58" stop-color="#ffd9da"/><stop offset="0.62" stop-color="#ffc7c9"/><stop offset="0.67" stop-color="#ffb5b7"/><stop offset="0.71" stop-color="#ffa3a4"/><stop offset="0.75" stop-color="#ff9191"/><stop offset="0.79" stop-color="#ff7f7d"/><stop offset="0.83" stop-color="#ff6e69"/><stop offset="0.88" stop-color="#ff5c53"/><stop offset="0.92" stop-color="#ff4a3c"/><stop offset="0.96" stop-color="#ff3823"/><stop offset="1" stop-color="#ff2600"/></linearGradient>
<linearGradient id="g2" x1="0" y1="0" x2="1" y2="0"><stop offset="0" stop-color="#002cff"/><stop offset="0.02" stop-color="#4353ff"/><stop offset="0.03" stop-color="#747bff"/><stop offset="0.05" stop-color="#a0a2ff"/><stop offset="0.07" stop-color="#cacaff"/><stop offset="0.08" stop-color="#f2f1ff"/><stop offset="0.1" stop-color="#fffcfd"/><stop offset="0.12" stop-color="#fff8f9"/><stop offset="0.13" stop-color="#fff4f5"/><stop offset="0.15" stop-color="#fff1f1"/><stop offset="0.17" stop-color="#ffeded"/><stop offset="0.18" stop-color="#ffe9ea"/><stop offset="0.2" stop-color="#ffe5e6"/><stop offset="0.22" stop-color="#ffe1e2"/><stop offset="0.23" stop-color="#ffddde"/><stop offset="0.25" stop-color="#ffd9da"/><stop offset="0.27" stop-color="#ffd5d6"/><stop offset="0.28" stop-color="#ffd1d3"/><stop offset="0.3" stop-color="#ffcdcf"/><stop offset="0.32" stop-color="#ffc9cb"/><stop offset="0.33" stop-color="#ffc5c7"/><stop offset="0.35" stop-color="#ffc1c3"/><stop offset="0.37" stop-color="#ffbdbf"/><stop offset="0.38" stop-color="#ffb9bb"/><stop offset="0.4" stop-color="#ffb5b7"/><stop offset="0.42" stop-color="#ffb1b3"/><stop offset="0.43" stop-color="#ffadae"/><stop offset="0.45" stop-color="#ffa9aa"/><stop offset="0.47" stop-color="#ffa5a6"/><stop offset="0.48" stop-color="#ffa1a2"/><stop offset="0.5" stop-color="#ff9d9e"/><stop offset="0.52" stop-color="#ff999a"/><stop offset="0.53" stop-color="#ff9595"/><stop offset="0.55" stop-color="#ff9191"/><stop offset="0.57" stop-color="#ff8d8d"/><stop offset="0.58" stop-color="#ff8988"/><stop offset="0.6" stop-color="#ff8584"/><stop offset="0.62" stop-color="#ff8180"/><stop offset="0.63" stop-color="#ff7d7b"/><stop offset="0.65" stop-color="#ff7977"/><stop offset="0.67" stop-color="#ff7572"/><stop offset="0.68" stop-color="#ff716e"/><stop offset="0.7" stop-color="#ff6d69"/><stop offset="0.72" stop-color="#ff6a64"/><stop offset="0.73" stop-color="#ff665f"/><stop offset="0.75" stop-color="#ff625b"/><stop offset="0.77" stop-color="#ff5e56"/><stop offset="0.78" stop-color="#ff5a51"/><stop offset="0.8" stop-color="#ff564c"/><stop offset="0.82" stop-color="#ff5247"/><stop offset="0.83" stop-color="#ff4e42"/><stop offset="0.85" stop-color="#ff4a3c"/><stop offset="0.87" stop-color="#ff4637"/><stop offset="0.88" stop-color="#ff4231"/><stop offset="0.9" stop-color="#ff3e2c"/><stop offset="0.92" stop-color="#ff3a26"/><stop offset="0.93" stop-color="#ff361f"/><stop offset="0.95" stop-color="#ff3219"/><stop offset="0.97" stop-color="#ff2e12"/><stop offset="0.98" stop-color="#ff2a0a"/><stop offset="1" stop-color="#ff2600"/></linearGradient>
<linearGradient id="g3" x1="0" y1="0" x2="1" y2="0"><stop offset="0" stop-color="#002cff"/><stop offset="0.03" stop-color="#213cff"/><stop offset="0.07" stop-color="#3a4dff"/><stop offset="0.1" stop-color="#505dff"/><stop offset="0.13" stop-color="#646eff"/><stop offset="0.17" stop-color="#787eff"/><stop offset="0.2" stop-color="#8b8eff"/><stop offset="0.23" stop-color="#9d9fff"/><stop offset="0.27" stop-color="#aeafff"/><stop offset="0.3" stop-color="#c0c0ff"/><stop offset="0.33" stop-color="#d1d0ff"/><stop offset="0.37" stop-color="#e1e1ff"/><stop offset="0.4" stop-color="#f1f1ff"/><stop offset="0.43" stop-color="#fffdfd"/><stop offset="0.47" stop-color="#fff1f1"/><stop offset="0.5" stop-color="#ffe4e5"/><stop offset="0.53" stop-color="#ffd7d9"/><stop offset="0.57" stop-color="#ffcbcc"/><stop offset="0.6" stop-color="#ffbec0"/><stop offset="0.63" stop-color="#ffb1b3"/><stop offset="0.67" stop-color="#ffa5a6"/><stop offset="0.7" stop-color="#ff9898"/><stop offset="0.73" stop-color="#ff8b8b"/><stop offset="0.77" stop-color="#ff7f7d"/><stop offset="0.8" stop-color="#ff726e"/><stop offset="0.83" stop-color="#ff655f"/><stop offset="0.87" stop-color="#ff5950"/><stop offset="0.9" stop-color="#ff4c3f"/><stop offset="0.93" stop-color="#ff3f2e"/><stop offset="0.97" stop-color="#ff331a"/><stop offset="1" stop-color="#ff2600"/></linearGradient>
<linearGradient id="g4" x1="0" y1="0" x2="1" y2="0"><stop offset="0" stop-color="#002cff"/><stop offset="0.02" stop-color="#0a30ff"/><stop offset="0.03" stop-color="#1234ff"/><stop offset="0.05" stop-color="#1938ff"/><stop offset="0.07" stop-color="#1f3bff"/><stop offset="0.08" stop-color="#253fff"/><stop offset="0.1" stop-color="#2b43ff"/><stop offset="0.12" stop-color="#3147ff"/><stop offset="0.13" stop-color="#374bff"/><stop offset="0.15" stop-color="#3c4fff"/><stop offset="0.17" stop-color="#4152ff"/><stop offset="0.18" stop-color="#4656ff"/><stop offset="0.2" stop-color="#4b5aff"/><stop offset="0.22" stop-color="#505eff"/><stop offset="0.23" stop-color="#5562ff"/><stop offset="0.25" stop-color="#5a66ff"/><stop offset="0.27" stop-color="#5f69ff"/><stop offset="0.28" stop-color="#646dff"/><stop offset="0.3" stop-color="#6871ff"/><stop offset="0.32" stop-color="#6d75ff"/><stop offset="0.33" stop-color="#7279ff"/><stop offset="0.35" stop-color="#767dff"/><stop offset="0.37" stop-color="#7a80ff"/><stop offset="0.38" stop-color="#7f84ff"/><stop offset="0.4" stop-color="#8388ff"/><stop offset="0.42" stop-color="#888cff"/><stop offset="0.43" stop-color="#8c90ff"/><stop offset="0.45" stop-color="#9094ff"/><stop offset="0.47" stop-color="#9597ff"/><stop offset="0.48" stop-color="#999bff"/><stop offset="0.5" stop-color="#9d9fff"/><stop offset="0.52" stop-color="#a1a3ff"/><stop offset="0.53" stop-color="#a5a7ff"/><stop offset="0.55" stop-color="#a9abff"/><stop offset="0.57" stop-color="#aeaeff"/><stop offset="0.58" stop-color="#b2b2ff"/><stop offset="0.6" stop-color="#b6b6ff"/><stop offset="0.62" stop-color="#babaff"/><stop offset="0.63" stop-color="#bebeff"/><stop offset="0.65" stop-color="#c2c2ff"/><stop offset="0.67" stop-color="#c6c5ff"/><stop offset="0.68" stop-color="#cac9ff"/><stop offset="0.7" stop-color="#cdcdff"/><stop offset="0.72" stop-color="#d1d1ff"/><stop offset="0.73" stop-color="#d5d5ff"/><stop offset="0.75" stop-color="#d9d9ff"/><stop offset="0.77" stop-color="#dddcff"/><stop offset="0.78" stop-color="#e1e0ff"/><stop offset="0.8" stop-color="#e5e4ff"/><stop offset="0.82" stop-color="#e8e8ff"/><stop offset="0.83" stop-color="#ececff"/><stop offset="0.85" stop-color="#f0f0ff"/><stop offset="0.87" stop-color="#f4f3ff"/><stop offset="0.88" stop-color="#f8f7ff"/><stop offset="0.9" stop-color="#fbfbff"/><stop offset="0.92" stop-color="#ffffff"/><stop offset="0.93" stop-color="#ffd4d6"/><stop offset="0.95" stop-color="#ffa9aa"/><stop offset="0.97" stop-color="#ff7d7b"/><stop offset="0.98" stop-color="#ff5247"/><stop offset="1" stop-color="#ff2600"/></linearGradient>
</defs>
<rect x="484.6" y="49.2" width="9" height="219.2" fill="url(#gB)" stroke="#000" stroke-width="0.9"/>
<line x1="491.8" y1="49.5" x2="493.6" y2="49.5" stroke="#000" stroke-width="0.7"/>
<line x1="484.6" y1="49.5" x2="486.4" y2="49.5" stroke="#000" stroke-width="0.7"/>
<text x="497" y="52" style="font-size:7px;" fill="#000" stroke="#000" stroke-width="0.08">1.0</text>
<line x1="491.8" y1="104.3" x2="493.6" y2="104.3" stroke="#000" stroke-width="0.7"/>
<line x1="484.6" y1="104.3" x2="486.4" y2="104.3" stroke="#000" stroke-width="0.7"/>
<text x="497" y="106.8" style="font-size:7px;" fill="#000" stroke="#000" stroke-width="0.08">0.5</text>
<line x1="491.8" y1="159.1" x2="493.6" y2="159.1" stroke="#000" stroke-width="0.7"/>
<line x1="484.6" y1="159.1" x2="486.4" y2="159.1" stroke="#000" stroke-width="0.7"/>
<text x="497" y="161.6" style="font-size:7px;" fill="#000" stroke="#000" stroke-width="0.08">0</text>
<line x1="491.8" y1="213.9" x2="493.6" y2="213.9" stroke="#000" stroke-width="0.7"/>
<line x1="484.6" y1="213.9" x2="486.4" y2="213.9" stroke="#000" stroke-width="0.7"/>
<text x="497" y="216.4" style="font-size:7px;" fill="#000" stroke="#000" stroke-width="0.08">-0.5</text>
<line x1="491.8" y1="268.7" x2="493.6" y2="268.7" stroke="#000" stroke-width="0.7"/>
<line x1="484.6" y1="268.7" x2="486.4" y2="268.7" stroke="#000" stroke-width="0.7"/>
<text x="497" y="271.2" style="font-size:7px;" fill="#000" stroke="#000" stroke-width="0.08">-1.0</text>
<text x="516.2" y="157.4" style="font-size:13.6px;font-weight:bold;" text-anchor="middle" transform="rotate(90 516.2 157.4)" fill="#000" stroke="#000" stroke-width="0.38">Pearson Correlation Coefficient</text>
<text x="558.5" y="18.9" style="font-size:27px;font-weight:bold;" fill="#000" stroke="#000" stroke-width="0.76">C</text>
<line x1="690.2" y1="12.3" x2="690.2" y2="301.3" stroke="#888" stroke-width="1"/>
<line x1="603.6" y1="55.9" x2="727" y2="55.9" stroke="#555" stroke-width="0.9"/>
<line x1="603.6" y1="159.3" x2="727" y2="159.3" stroke="#555" stroke-width="0.9"/>
<line x1="603.6" y1="220.9" x2="727" y2="220.9" stroke="#555" stroke-width="0.9"/>
<text x="599.8" y="17.3" style="font-size:5.6px;font-weight:bold;" text-anchor="end" fill="#000" stroke="#000" stroke-width="0.26" textLength="9.94" lengthAdjust="spacingAndGlyphs">Dlx1</text>
<line x1="600.6" y1="15.3" x2="603.6" y2="15.3" stroke="#000" stroke-width="0.9"/>
<line x1="686.9" y1="15.3" x2="690.1" y2="15.3" stroke="#000" stroke-width="0.85"/>
<line x1="686.9" y1="14" x2="686.9" y2="16.6" stroke="#000" stroke-width="0.85"/>
<line x1="690.1" y1="14" x2="690.1" y2="16.6" stroke="#000" stroke-width="0.85"/>
<circle cx="688.5" cy="15.3" r="1.15" fill="#000"/>
<text x="599.8" y="22.01" style="font-size:5.6px;font-weight:bold;" text-anchor="end" fill="#000" stroke="#000" stroke-width="0.26" textLength="9.94" lengthAdjust="spacingAndGlyphs">Dlx2</text>
<line x1="600.6" y1="20.01" x2="603.6" y2="20.01" stroke="#000" stroke-width="0.9"/>
<line x1="685.9" y1="20.01" x2="695.9" y2="20.01" stroke="#000" stroke-width="0.85"/>
<line x1="685.9" y1="18.71" x2="685.9" y2="21.31" stroke="#000" stroke-width="0.85"/>
<line x1="695.9" y1="18.71" x2="695.9" y2="21.31" stroke="#000" stroke-width="0.85"/>
<circle cx="690.9" cy="20.01" r="1.15" fill="#000"/>
<text x="599.8" y="26.72" style="font-size:5.6px;font-weight:bold;" text-anchor="end" fill="#000" stroke="#000" stroke-width="0.26" textLength="11.76" lengthAdjust="spacingAndGlyphs">Gad2</text>
<line x1="600.6" y1="24.72" x2="603.6" y2="24.72" stroke="#000" stroke-width="0.9"/>
<line x1="690" y1="24.72" x2="693.2" y2="24.72" stroke="#000" stroke-width="0.85"/>
<line x1="690" y1="23.42" x2="690" y2="26.02" stroke="#000" stroke-width="0.85"/>
<line x1="693.2" y1="23.42" x2="693.2" y2="26.02" stroke="#000" stroke-width="0.85"/>
<circle cx="691.6" cy="24.72" r="1.15" fill="#000"/>
<text x="599.8" y="31.44" style="font-size:5.6px;font-weight:bold;" text-anchor="end" fill="#000" stroke="#000" stroke-width="0.26" textLength="12.29" lengthAdjust="spacingAndGlyphs">Grm2</text>
<line x1="600.6" y1="29.44" x2="603.6" y2="29.44" stroke="#000" stroke-width="0.9"/>
<line x1="702.4" y1="29.44" x2="705.6" y2="29.44" stroke="#000" stroke-width="0.85"/>
<line x1="702.4" y1="28.14" x2="702.4" y2="30.74" stroke="#000" stroke-width="0.85"/>
<line x1="705.6" y1="28.14" x2="705.6" y2="30.74" stroke="#000" stroke-width="0.85"/>
<circle cx="704" cy="29.44" r="1.15" fill="#000"/>
<text x="599.8" y="36.15" style="font-size:5.6px;font-weight:bold;" text-anchor="end" fill="#000" stroke="#000" stroke-width="0.26" textLength="7.85" lengthAdjust="spacingAndGlyphs">Isl1</text>
<line x1="600.6" y1="34.15" x2="603.6" y2="34.15" stroke="#000" stroke-width="0.9"/>
<line x1="686.1" y1="34.15" x2="689.3" y2="34.15" stroke="#000" stroke-width="0.85"/>
<line x1="686.1" y1="32.85" x2="686.1" y2="35.45" stroke="#000" stroke-width="0.85"/>
<line x1="689.3" y1="32.85" x2="689.3" y2="35.45" stroke="#000" stroke-width="0.85"/>
<circle cx="687.7" cy="34.15" r="1.15" fill="#000"/>
<text x="599.8" y="40.86" style="font-size:5.6px;font-weight:bold;" text-anchor="end" fill="#000" stroke="#000" stroke-width="0.26" textLength="14.9" lengthAdjust="spacingAndGlyphs">L1cam</text>
<line x1="600.6" y1="38.86" x2="603.6" y2="38.86" stroke="#000" stroke-width="0.9"/>
<line x1="684.4" y1="38.86" x2="689.4" y2="38.86" stroke="#000" stroke-width="0.85"/>
<line x1="684.4" y1="37.56" x2="684.4" y2="40.16" stroke="#000" stroke-width="0.85"/>
<line x1="689.4" y1="37.56" x2="689.4" y2="40.16" stroke="#000" stroke-width="0.85"/>
<circle cx="686.9" cy="38.86" r="1.15" fill="#000"/>
<text x="599.8" y="45.57" style="font-size:5.6px;font-weight:bold;" text-anchor="end" fill="#000" stroke="#000" stroke-width="0.26" textLength="17.53" lengthAdjust="spacingAndGlyphs">Slc17a6</text>
<line x1="600.6" y1="43.57" x2="603.6" y2="43.57" stroke="#000" stroke-width="0.9"/>
<line x1="692.1" y1="43.57" x2="695.3" y2="43.57" stroke="#000" stroke-width="0.85"/>
<line x1="692.1" y1="42.27" x2="692.1" y2="44.87" stroke="#000" stroke-width="0.85"/>
<line x1="695.3" y1="42.27" x2="695.3" y2="44.87" stroke="#000" stroke-width="0.85"/>
<circle cx="693.7" cy="43.57" r="1.15" fill="#000"/>
<text x="599.8" y="50.28" style="font-size:5.6px;font-weight:bold;" text-anchor="end" fill="#000" stroke="#000" stroke-width="0.26" textLength="17.53" lengthAdjust="spacingAndGlyphs">Slc32a1</text>
<line x1="600.6" y1="48.28" x2="603.6" y2="48.28" stroke="#000" stroke-width="0.9"/>
<line x1="690.5" y1="48.28" x2="693.7" y2="48.28" stroke="#000" stroke-width="0.85"/>
<line x1="690.5" y1="46.98" x2="690.5" y2="49.58" stroke="#000" stroke-width="0.85"/>
<line x1="693.7" y1="46.98" x2="693.7" y2="49.58" stroke="#000" stroke-width="0.85"/>
<circle cx="692.1" cy="48.28" r="1.15" fill="#000"/>
<text x="599.8" y="55" style="font-size:5.6px;font-weight:bold;" text-anchor="end" fill="#000" stroke="#000" stroke-width="0.26" textLength="10.19" lengthAdjust="spacingAndGlyphs">Tbr1</text>
<line x1="600.6" y1="53" x2="603.6" y2="53" stroke="#000" stroke-width="0.9"/>
<line x1="696.5" y1="53" x2="705.7" y2="53" stroke="#000" stroke-width="0.85"/>
<line x1="696.5" y1="51.7" x2="696.5" y2="54.3" stroke="#000" stroke-width="0.85"/>
<line x1="705.7" y1="51.7" x2="705.7" y2="54.3" stroke="#000" stroke-width="0.85"/>
<circle cx="701.1" cy="53" r="1.15" fill="#000"/>
<text x="599.8" y="59.71" style="font-size:5.6px;font-weight:bold;" text-anchor="end" fill="#000" stroke="#000" stroke-width="0.26" textLength="11.5" lengthAdjust="spacingAndGlyphs">C1qa</text>
<line x1="600.6" y1="57.71" x2="603.6" y2="57.71" stroke="#000" stroke-width="0.9"/>
<line x1="623.2" y1="57.71" x2="633.2" y2="57.71" stroke="#000" stroke-width="0.85"/>
<line x1="623.2" y1="56.41" x2="623.2" y2="59.01" stroke="#000" stroke-width="0.85"/>
<line x1="633.2" y1="56.41" x2="633.2" y2="59.01" stroke="#000" stroke-width="0.85"/>
<circle cx="628.2" cy="57.71" r="1.15" fill="#000"/>
<text x="599.8" y="64.42" style="font-size:5.6px;font-weight:bold;" text-anchor="end" fill="#000" stroke="#000" stroke-width="0.26" textLength="11.76" lengthAdjust="spacingAndGlyphs">C1qb</text>
<line x1="600.6" y1="62.42" x2="603.6" y2="62.42" stroke="#000" stroke-width="0.9"/>
<line x1="617.4" y1="62.42" x2="620.6" y2="62.42" stroke="#000" stroke-width="0.85"/>
<line x1="617.4" y1="61.12" x2="617.4" y2="63.72" stroke="#000" stroke-width="0.85"/>
<line x1="620.6" y1="61.12" x2="620.6" y2="63.72" stroke="#000" stroke-width="0.85"/>
<circle cx="619" cy="62.42" r="1.15" fill="#000"/>
<text x="599.8" y="69.13" style="font-size:5.6px;font-weight:bold;" text-anchor="end" fill="#000" stroke="#000" stroke-width="0.26" textLength="11.5" lengthAdjust="spacingAndGlyphs">C1qc</text>
<line x1="600.6" y1="67.13" x2="603.6" y2="67.13" stroke="#000" stroke-width="0.9"/>
<line x1="617.3" y1="67.13" x2="621.3" y2="67.13" stroke="#000" stroke-width="0.85"/>
<line x1="617.3" y1="65.83" x2="617.3" y2="68.43" stroke="#000" stroke-width="0.85"/>
<line x1="621.3" y1="65.83" x2="621.3" y2="68.43" stroke="#000" stroke-width="0.85"/>
<circle cx="619.3" cy="67.13" r="1.15" fill="#000"/>
<text x="599.8" y="73.84" style="font-size:5.6px;font-weight:bold;" text-anchor="end" fill="#000" stroke="#000" stroke-width="0.26" textLength="6.01" lengthAdjust="spacingAndGlyphs">C3</text>
<line x1="600.6" y1="71.84" x2="603.6" y2="71.84" stroke="#000" stroke-width="0.9"/>
<line x1="665.3" y1="71.84" x2="675.3" y2="71.84" stroke="#000" stroke-width="0.85"/>
<line x1="665.3" y1="70.54" x2="665.3" y2="73.14" stroke="#000" stroke-width="0.85"/>
<line x1="675.3" y1="70.54" x2="675.3" y2="73.14" stroke="#000" stroke-width="0.85"/>
<circle cx="670.3" cy="71.84" r="1.15" fill="#000"/>
<text x="599.8" y="78.56" style="font-size:5.6px;font-weight:bold;" text-anchor="end" fill="#000" stroke="#000" stroke-width="0.26" textLength="12.55" lengthAdjust="spacingAndGlyphs">Ccl12</text>
<line x1="600.6" y1="76.56" x2="603.6" y2="76.56" stroke="#000" stroke-width="0.9"/>
<line x1="658.4" y1="76.56" x2="676.8" y2="76.56" stroke="#000" stroke-width="0.85"/>
<line x1="658.4" y1="75.26" x2="658.4" y2="77.86" stroke="#000" stroke-width="0.85"/>
<line x1="676.8" y1="75.26" x2="676.8" y2="77.86" stroke="#000" stroke-width="0.85"/>
<circle cx="667.6" cy="76.56" r="1.15" fill="#000"/>
<text x="599.8" y="83.27" style="font-size:5.6px;font-weight:bold;" text-anchor="end" fill="#000" stroke="#000" stroke-width="0.26" textLength="9.94" lengthAdjust="spacingAndGlyphs">Ccl6</text>
<line x1="600.6" y1="81.27" x2="603.6" y2="81.27" stroke="#000" stroke-width="0.9"/>
<line x1="661.1" y1="81.27" x2="678.9" y2="81.27" stroke="#000" stroke-width="0.85"/>
<line x1="661.1" y1="79.97" x2="661.1" y2="82.57" stroke="#000" stroke-width="0.85"/>
<line x1="678.9" y1="79.97" x2="678.9" y2="82.57" stroke="#000" stroke-width="0.85"/>
<circle cx="670" cy="81.27" r="1.15" fill="#000"/>
<text x="599.8" y="87.98" style="font-size:5.6px;font-weight:bold;" text-anchor="end" fill="#000" stroke="#000" stroke-width="0.26" textLength="11.5" lengthAdjust="spacingAndGlyphs">Cd14</text>
<line x1="600.6" y1="85.98" x2="603.6" y2="85.98" stroke="#000" stroke-width="0.9"/>
<line x1="653.9" y1="85.98" x2="666.1" y2="85.98" stroke="#000" stroke-width="0.85"/>
<line x1="653.9" y1="84.68" x2="653.9" y2="87.28" stroke="#000" stroke-width="0.85"/>
<line x1="666.1" y1="84.68" x2="666.1" y2="87.28" stroke="#000" stroke-width="0.85"/>
<circle cx="660" cy="85.98" r="1.15" fill="#000"/>
<text x="599.8" y="92.69" style="font-size:5.6px;font-weight:bold;" text-anchor="end" fill="#000" stroke="#000" stroke-width="0.26" textLength="11.5" lengthAdjust="spacingAndGlyphs">Cd68</text>
<line x1="600.6" y1="90.69" x2="603.6" y2="90.69" stroke="#000" stroke-width="0.9"/>
<line x1="661.2" y1="90.69" x2="664.4" y2="90.69" stroke="#000" stroke-width="0.85"/>
<line x1="661.2" y1="89.39" x2="661.2" y2="91.99" stroke="#000" stroke-width="0.85"/>
<line x1="664.4" y1="89.39" x2="664.4" y2="91.99" stroke="#000" stroke-width="0.85"/>
<circle cx="662.8" cy="90.69" r="1.15" fill="#000"/>
<text x="599.8" y="97.4" style="font-size:5.6px;font-weight:bold;" text-anchor="end" fill="#000" stroke="#000" stroke-width="0.26" textLength="12.03" lengthAdjust="spacingAndGlyphs">Csf1r</text>
<line x1="600.6" y1="95.4" x2="603.6" y2="95.4" stroke="#000" stroke-width="0.9"/>
<line x1="642.1" y1="95.4" x2="651.7" y2="95.4" stroke="#000" stroke-width="0.85"/>
<line x1="642.1" y1="94.1" x2="642.1" y2="96.7" stroke="#000" stroke-width="0.85"/>
<line x1="651.7" y1="94.1" x2="651.7" y2="96.7" stroke="#000" stroke-width="0.85"/>
<circle cx="646.9" cy="95.4" r="1.15" fill="#000"/>
<text x="599.8" y="102.12" style="font-size:5.6px;font-weight:bold;" text-anchor="end" fill="#000" stroke="#000" stroke-width="0.26" textLength="14.9" lengthAdjust="spacingAndGlyphs">Csf2rb</text>
<line x1="600.6" y1="100.12" x2="603.6" y2="100.12" stroke="#000" stroke-width="0.9"/>
<line x1="666.4" y1="100.12" x2="676.4" y2="100.12" stroke="#000" stroke-width="0.85"/>
<line x1="666.4" y1="98.82" x2="666.4" y2="101.42" stroke="#000" stroke-width="0.85"/>
<line x1="676.4" y1="98.82" x2="676.4" y2="101.42" stroke="#000" stroke-width="0.85"/>
<circle cx="671.4" cy="100.12" r="1.15" fill="#000"/>
<text x="599.8" y="106.83" style="font-size:5.6px;font-weight:bold;" text-anchor="end" fill="#000" stroke="#000" stroke-width="0.26" textLength="15.17" lengthAdjust="spacingAndGlyphs">Cxcl16</text>
<line x1="600.6" y1="104.83" x2="603.6" y2="104.83" stroke="#000" stroke-width="0.9"/>
<line x1="669.3" y1="104.83" x2="678.1" y2="104.83" stroke="#000" stroke-width="0.85"/>
<line x1="669.3" y1="103.53" x2="669.3" y2="106.13" stroke="#000" stroke-width="0.85"/>
<line x1="678.1" y1="103.53" x2="678.1" y2="106.13" stroke="#000" stroke-width="0.85"/>
<circle cx="673.7" cy="104.83" r="1.15" fill="#000"/>
<text x="599.8" y="111.54" style="font-size:5.6px;font-weight:bold;" text-anchor="end" fill="#000" stroke="#000" stroke-width="0.26" textLength="11.24" lengthAdjust="spacingAndGlyphs">Fcrls</text>
<line x1="600.6" y1="109.54" x2="603.6" y2="109.54" stroke="#000" stroke-width="0.9"/>
<line x1="642.9" y1="109.54" x2="651.1" y2="109.54" stroke="#000" stroke-width="0.85"/>
<line x1="642.9" y1="108.24" x2="642.9" y2="110.84" stroke="#000" stroke-width="0.85"/>
<line x1="651.1" y1="108.24" x2="651.1" y2="110.84" stroke="#000" stroke-width="0.85"/>
<circle cx="647" cy="109.54" r="1.15" fill="#000"/>
<text x="599.8" y="116.25" style="font-size:5.6px;font-weight:bold;" text-anchor="end" fill="#000" stroke="#000" stroke-width="0.26" textLength="13.6" lengthAdjust="spacingAndGlyphs">Gpr84</text>
<line x1="600.6" y1="114.25" x2="603.6" y2="114.25" stroke="#000" stroke-width="0.9"/>
<line x1="676.2" y1="114.25" x2="688.2" y2="114.25" stroke="#000" stroke-width="0.85"/>
<line x1="676.2" y1="112.95" x2="676.2" y2="115.55" stroke="#000" stroke-width="0.85"/>
<line x1="688.2" y1="112.95" x2="688.2" y2="115.55" stroke="#000" stroke-width="0.85"/>
<circle cx="682.2" cy="114.25" r="1.15" fill="#000"/>
<text x="599.8" y="120.96" style="font-size:5.6px;font-weight:bold;" text-anchor="end" fill="#000" stroke="#000" stroke-width="0.26" textLength="7.32" lengthAdjust="spacingAndGlyphs">Irf8</text>
<line x1="600.6" y1="118.96" x2="603.6" y2="118.96" stroke="#000" stroke-width="0.9"/>
<line x1="669.8" y1="118.96" x2="673" y2="118.96" stroke="#000" stroke-width="0.85"/>
<line x1="669.8" y1="117.66" x2="669.8" y2="120.26" stroke="#000" stroke-width="0.85"/>
<line x1="673" y1="117.66" x2="673" y2="120.26" stroke="#000" stroke-width="0.85"/>
<circle cx="671.4" cy="118.96" r="1.15" fill="#000"/>
<text x="599.8" y="125.68" style="font-size:5.6px;font-weight:bold;" text-anchor="end" fill="#000" stroke="#000" stroke-width="0.26" textLength="12.55" lengthAdjust="spacingAndGlyphs">Itgam</text>
<line x1="600.6" y1="123.68" x2="603.6" y2="123.68" stroke="#000" stroke-width="0.9"/>
<line x1="642.8" y1="123.68" x2="650.4" y2="123.68" stroke="#000" stroke-width="0.85"/>
<line x1="642.8" y1="122.38" x2="642.8" y2="124.98" stroke="#000" stroke-width="0.85"/>
<line x1="650.4" y1="122.38" x2="650.4" y2="124.98" stroke="#000" stroke-width="0.85"/>
<circle cx="646.6" cy="123.68" r="1.15" fill="#000"/>
<text x="599.8" y="130.39" style="font-size:5.6px;font-weight:bold;" text-anchor="end" fill="#000" stroke="#000" stroke-width="0.26" textLength="14.38" lengthAdjust="spacingAndGlyphs">Lrrc33</text>
<line x1="600.6" y1="128.39" x2="603.6" y2="128.39" stroke="#000" stroke-width="0.9"/>
<line x1="642" y1="128.39" x2="649.6" y2="128.39" stroke="#000" stroke-width="0.85"/>
<line x1="642" y1="127.09" x2="642" y2="129.69" stroke="#000" stroke-width="0.85"/>
<line x1="649.6" y1="127.09" x2="649.6" y2="129.69" stroke="#000" stroke-width="0.85"/>
<circle cx="645.8" cy="128.39" r="1.15" fill="#000"/>
<text x="599.8" y="135.1" style="font-size:5.6px;font-weight:bold;" text-anchor="end" fill="#000" stroke="#000" stroke-width="0.26" textLength="10.2" lengthAdjust="spacingAndGlyphs">Ncf1</text>
<line x1="600.6" y1="133.1" x2="603.6" y2="133.1" stroke="#000" stroke-width="0.9"/>
<line x1="649.3" y1="133.1" x2="656.5" y2="133.1" stroke="#000" stroke-width="0.85"/>
<line x1="649.3" y1="131.8" x2="649.3" y2="134.4" stroke="#000" stroke-width="0.85"/>
<line x1="656.5" y1="131.8" x2="656.5" y2="134.4" stroke="#000" stroke-width="0.85"/>
<circle cx="652.9" cy="133.1" r="1.15" fill="#000"/>
<text x="599.8" y="139.81" style="font-size:5.6px;font-weight:bold;" text-anchor="end" fill="#000" stroke="#000" stroke-width="0.26" textLength="17.27" lengthAdjust="spacingAndGlyphs">Slc11a1</text>
<line x1="600.6" y1="137.81" x2="603.6" y2="137.81" stroke="#000" stroke-width="0.9"/>
<line x1="646.5" y1="137.81" x2="649.7" y2="137.81" stroke="#000" stroke-width="0.85"/>
<line x1="646.5" y1="136.51" x2="646.5" y2="139.11" stroke="#000" stroke-width="0.85"/>
<line x1="649.7" y1="136.51" x2="649.7" y2="139.11" stroke="#000" stroke-width="0.85"/>
<circle cx="648.1" cy="137.81" r="1.15" fill="#000"/>
<text x="599.8" y="144.52" style="font-size:5.6px;font-weight:bold;" text-anchor="end" fill="#000" stroke="#000" stroke-width="0.26" textLength="21.44" lengthAdjust="spacingAndGlyphs">Tmem119</text>
<line x1="600.6" y1="142.52" x2="603.6" y2="142.52" stroke="#000" stroke-width="0.9"/>
<line x1="667.9" y1="142.52" x2="698.1" y2="142.52" stroke="#000" stroke-width="0.85"/>
<line x1="667.9" y1="141.22" x2="667.9" y2="143.82" stroke="#000" stroke-width="0.85"/>
<line x1="698.1" y1="141.22" x2="698.1" y2="143.82" stroke="#000" stroke-width="0.85"/>
<circle cx="683" cy="142.52" r="1.15" fill="#000"/>
<text x="599.8" y="149.24" style="font-size:5.6px;font-weight:bold;" text-anchor="end" fill="#000" stroke="#000" stroke-width="0.26" textLength="8.63" lengthAdjust="spacingAndGlyphs">Tlr2</text>
<line x1="600.6" y1="147.24" x2="603.6" y2="147.24" stroke="#000" stroke-width="0.9"/>
<line x1="651.6" y1="147.24" x2="664.4" y2="147.24" stroke="#000" stroke-width="0.85"/>
<line x1="651.6" y1="145.94" x2="651.6" y2="148.54" stroke="#000" stroke-width="0.85"/>
<line x1="664.4" y1="145.94" x2="664.4" y2="148.54" stroke="#000" stroke-width="0.85"/>
<circle cx="658" cy="147.24" r="1.15" fill="#000"/>
<text x="599.8" y="153.95" style="font-size:5.6px;font-weight:bold;" text-anchor="end" fill="#000" stroke="#000" stroke-width="0.26" textLength="8.63" lengthAdjust="spacingAndGlyphs">Tlr4</text>
<line x1="600.6" y1="151.95" x2="603.6" y2="151.95" stroke="#000" stroke-width="0.9"/>
<line x1="660.4" y1="151.95" x2="672.6" y2="151.95" stroke="#000" stroke-width="0.85"/>
<line x1="660.4" y1="150.65" x2="660.4" y2="153.25" stroke="#000" stroke-width="0.85"/>
<line x1="672.6" y1="150.65" x2="672.6" y2="153.25" stroke="#000" stroke-width="0.85"/>
<circle cx="666.5" cy="151.95" r="1.15" fill="#000"/>
<text x="599.8" y="158.66" style="font-size:5.6px;font-weight:bold;" text-anchor="end" fill="#000" stroke="#000" stroke-width="0.26" textLength="13.86" lengthAdjust="spacingAndGlyphs">Trem2</text>
<line x1="600.6" y1="156.66" x2="603.6" y2="156.66" stroke="#000" stroke-width="0.9"/>
<line x1="622.2" y1="156.66" x2="625.8" y2="156.66" stroke="#000" stroke-width="0.85"/>
<line x1="622.2" y1="155.36" x2="622.2" y2="157.96" stroke="#000" stroke-width="0.85"/>
<line x1="625.8" y1="155.36" x2="625.8" y2="157.96" stroke="#000" stroke-width="0.85"/>
<circle cx="624" cy="156.66" r="1.15" fill="#000"/>
<text x="599.8" y="163.37" style="font-size:5.6px;font-weight:bold;" text-anchor="end" fill="#000" stroke="#000" stroke-width="0.26" textLength="20.4" lengthAdjust="spacingAndGlyphs">AI464131</text>
<line x1="600.6" y1="161.37" x2="603.6" y2="161.37" stroke="#000" stroke-width="0.9"/>
<line x1="678.8" y1="161.37" x2="682" y2="161.37" stroke="#000" stroke-width="0.85"/>
<line x1="678.8" y1="160.07" x2="678.8" y2="162.67" stroke="#000" stroke-width="0.85"/>
<line x1="682" y1="160.07" x2="682" y2="162.67" stroke="#000" stroke-width="0.85"/>
<circle cx="680.4" cy="161.37" r="1.15" fill="#000"/>
<text x="599.8" y="168.08" style="font-size:5.6px;font-weight:bold;" text-anchor="end" fill="#000" stroke="#000" stroke-width="0.26" textLength="16.99" lengthAdjust="spacingAndGlyphs">Aldh1l1</text>
<line x1="600.6" y1="166.08" x2="603.6" y2="166.08" stroke="#000" stroke-width="0.9"/>
<line x1="691.9" y1="166.08" x2="699.1" y2="166.08" stroke="#000" stroke-width="0.85"/>
<line x1="691.9" y1="164.78" x2="691.9" y2="167.38" stroke="#000" stroke-width="0.85"/>
<line x1="699.1" y1="164.78" x2="699.1" y2="167.38" stroke="#000" stroke-width="0.85"/>
<circle cx="695.5" cy="166.08" r="1.15" fill="#000"/>
<text x="599.8" y="172.8" style="font-size:5.6px;font-weight:bold;" text-anchor="end" fill="#000" stroke="#000" stroke-width="0.26" textLength="11.76" lengthAdjust="spacingAndGlyphs">Aqp4</text>
<line x1="600.6" y1="170.8" x2="603.6" y2="170.8" stroke="#000" stroke-width="0.9"/>
<line x1="679.65" y1="170.8" x2="682.85" y2="170.8" stroke="#000" stroke-width="0.85"/>
<line x1="679.65" y1="169.5" x2="679.65" y2="172.1" stroke="#000" stroke-width="0.85"/>
<line x1="682.85" y1="169.5" x2="682.85" y2="172.1" stroke="#000" stroke-width="0.85"/>
<circle cx="681.25" cy="170.8" r="1.15" fill="#000"/>
<text x="599.8" y="177.51" style="font-size:5.6px;font-weight:bold;" text-anchor="end" fill="#000" stroke="#000" stroke-width="0.26" textLength="11.76" lengthAdjust="spacingAndGlyphs">Fgfr3</text>
<line x1="600.6" y1="175.51" x2="603.6" y2="175.51" stroke="#000" stroke-width="0.9"/>
<line x1="692.5" y1="175.51" x2="696.1" y2="175.51" stroke="#000" stroke-width="0.85"/>
<line x1="692.5" y1="174.21" x2="692.5" y2="176.81" stroke="#000" stroke-width="0.85"/>
<line x1="696.1" y1="174.21" x2="696.1" y2="176.81" stroke="#000" stroke-width="0.85"/>
<circle cx="694.3" cy="175.51" r="1.15" fill="#000"/>
<text x="599.8" y="182.22" style="font-size:5.6px;font-weight:bold;" text-anchor="end" fill="#000" stroke="#000" stroke-width="0.26" textLength="15.94" lengthAdjust="spacingAndGlyphs">Entpd2</text>
<line x1="600.6" y1="180.22" x2="603.6" y2="180.22" stroke="#000" stroke-width="0.9"/>
<line x1="701.6" y1="180.22" x2="704.8" y2="180.22" stroke="#000" stroke-width="0.85"/>
<line x1="701.6" y1="178.92" x2="701.6" y2="181.52" stroke="#000" stroke-width="0.85"/>
<line x1="704.8" y1="178.92" x2="704.8" y2="181.52" stroke="#000" stroke-width="0.85"/>
<circle cx="703.2" cy="180.22" r="1.15" fill="#000"/>
<text x="599.8" y="186.93" style="font-size:5.6px;font-weight:bold;" text-anchor="end" fill="#000" stroke="#000" stroke-width="0.26" textLength="14.9" lengthAdjust="spacingAndGlyphs">Gdpd2</text>
<line x1="600.6" y1="184.93" x2="603.6" y2="184.93" stroke="#000" stroke-width="0.9"/>
<line x1="679.4" y1="184.93" x2="687" y2="184.93" stroke="#000" stroke-width="0.85"/>
<line x1="679.4" y1="183.63" x2="679.4" y2="186.23" stroke="#000" stroke-width="0.85"/>
<line x1="687" y1="183.63" x2="687" y2="186.23" stroke="#000" stroke-width="0.85"/>
<circle cx="683.2" cy="184.93" r="1.15" fill="#000"/>
<text x="599.8" y="191.64" style="font-size:5.6px;font-weight:bold;" text-anchor="end" fill="#000" stroke="#000" stroke-width="0.26" textLength="10.71" lengthAdjust="spacingAndGlyphs">Gfap</text>
<line x1="600.6" y1="189.64" x2="603.6" y2="189.64" stroke="#000" stroke-width="0.9"/>
<line x1="687.4" y1="189.64" x2="694.6" y2="189.64" stroke="#000" stroke-width="0.85"/>
<line x1="687.4" y1="188.34" x2="687.4" y2="190.94" stroke="#000" stroke-width="0.85"/>
<line x1="694.6" y1="188.34" x2="694.6" y2="190.94" stroke="#000" stroke-width="0.85"/>
<circle cx="691" cy="189.64" r="1.15" fill="#000"/>
<text x="599.8" y="196.36" style="font-size:5.6px;font-weight:bold;" text-anchor="end" fill="#000" stroke="#000" stroke-width="0.26" textLength="10.98" lengthAdjust="spacingAndGlyphs">Itga7</text>
<line x1="600.6" y1="194.36" x2="603.6" y2="194.36" stroke="#000" stroke-width="0.9"/>
<line x1="697.4" y1="194.36" x2="713.6" y2="194.36" stroke="#000" stroke-width="0.85"/>
<line x1="697.4" y1="193.06" x2="697.4" y2="195.66" stroke="#000" stroke-width="0.85"/>
<line x1="713.6" y1="193.06" x2="713.6" y2="195.66" stroke="#000" stroke-width="0.85"/>
<circle cx="705.5" cy="194.36" r="1.15" fill="#000"/>
<text x="599.8" y="201.07" style="font-size:5.6px;font-weight:bold;" text-anchor="end" fill="#000" stroke="#000" stroke-width="0.26" textLength="15.94" lengthAdjust="spacingAndGlyphs">Notch3</text>
<line x1="600.6" y1="199.07" x2="603.6" y2="199.07" stroke="#000" stroke-width="0.9"/>
<line x1="682.15" y1="199.07" x2="690.35" y2="199.07" stroke="#000" stroke-width="0.85"/>
<line x1="682.15" y1="197.77" x2="682.15" y2="200.37" stroke="#000" stroke-width="0.85"/>
<line x1="690.35" y1="197.77" x2="690.35" y2="200.37" stroke="#000" stroke-width="0.85"/>
<circle cx="686.25" cy="199.07" r="1.15" fill="#000"/>
<text x="599.8" y="205.78" style="font-size:5.6px;font-weight:bold;" text-anchor="end" fill="#000" stroke="#000" stroke-width="0.26" textLength="12.55" lengthAdjust="spacingAndGlyphs">Nwd1</text>
<line x1="600.6" y1="203.78" x2="603.6" y2="203.78" stroke="#000" stroke-width="0.9"/>
<line x1="693.6" y1="203.78" x2="696.8" y2="203.78" stroke="#000" stroke-width="0.85"/>
<line x1="693.6" y1="202.48" x2="693.6" y2="205.08" stroke="#000" stroke-width="0.85"/>
<line x1="696.8" y1="202.48" x2="696.8" y2="205.08" stroke="#000" stroke-width="0.85"/>
<circle cx="695.2" cy="203.78" r="1.15" fill="#000"/>
<text x="599.8" y="210.49" style="font-size:5.6px;font-weight:bold;" text-anchor="end" fill="#000" stroke="#000" stroke-width="0.26" textLength="11.24" lengthAdjust="spacingAndGlyphs">Sox9</text>
<line x1="600.6" y1="208.49" x2="603.6" y2="208.49" stroke="#000" stroke-width="0.9"/>
<line x1="690" y1="208.49" x2="693.2" y2="208.49" stroke="#000" stroke-width="0.85"/>
<line x1="690" y1="207.19" x2="690" y2="209.79" stroke="#000" stroke-width="0.85"/>
<line x1="693.2" y1="207.19" x2="693.2" y2="209.79" stroke="#000" stroke-width="0.85"/>
<circle cx="691.6" cy="208.49" r="1.15" fill="#000"/>
<text x="599.8" y="215.2" style="font-size:5.6px;font-weight:bold;" text-anchor="end" fill="#000" stroke="#000" stroke-width="0.26" textLength="14.91" lengthAdjust="spacingAndGlyphs">Slc1a3</text>
<line x1="600.6" y1="213.2" x2="603.6" y2="213.2" stroke="#000" stroke-width="0.9"/>
<line x1="688.8" y1="213.2" x2="692" y2="213.2" stroke="#000" stroke-width="0.85"/>
<line x1="688.8" y1="211.9" x2="688.8" y2="214.5" stroke="#000" stroke-width="0.85"/>
<line x1="692" y1="211.9" x2="692" y2="214.5" stroke="#000" stroke-width="0.85"/>
<circle cx="690.4" cy="213.2" r="1.15" fill="#000"/>
<text x="599.8" y="219.92" style="font-size:5.6px;font-weight:bold;" text-anchor="end" fill="#000" stroke="#000" stroke-width="0.26" textLength="8.36" lengthAdjust="spacingAndGlyphs">Tnc</text>
<line x1="600.6" y1="217.92" x2="603.6" y2="217.92" stroke="#000" stroke-width="0.9"/>
<line x1="692.1" y1="217.92" x2="696.5" y2="217.92" stroke="#000" stroke-width="0.85"/>
<line x1="692.1" y1="216.62" x2="692.1" y2="219.22" stroke="#000" stroke-width="0.85"/>
<line x1="696.5" y1="216.62" x2="696.5" y2="219.22" stroke="#000" stroke-width="0.85"/>
<circle cx="694.3" cy="217.92" r="1.15" fill="#000"/>
<text x="599.8" y="224.63" style="font-size:5.6px;font-weight:bold;" text-anchor="end" fill="#000" stroke="#000" stroke-width="0.26" textLength="13.86" lengthAdjust="spacingAndGlyphs">Bcas1</text>
<line x1="600.6" y1="222.63" x2="603.6" y2="222.63" stroke="#000" stroke-width="0.9"/>
<line x1="670.7" y1="222.63" x2="673.9" y2="222.63" stroke="#000" stroke-width="0.85"/>
<line x1="670.7" y1="221.33" x2="670.7" y2="223.93" stroke="#000" stroke-width="0.85"/>
<line x1="673.9" y1="221.33" x2="673.9" y2="223.93" stroke="#000" stroke-width="0.85"/>
<circle cx="672.3" cy="222.63" r="1.15" fill="#000"/>
<text x="599.8" y="229.34" style="font-size:5.6px;font-weight:bold;" text-anchor="end" fill="#000" stroke="#000" stroke-width="0.26" textLength="13.33" lengthAdjust="spacingAndGlyphs">Erbb3</text>
<line x1="600.6" y1="227.34" x2="603.6" y2="227.34" stroke="#000" stroke-width="0.9"/>
<line x1="671.3" y1="227.34" x2="695.9" y2="227.34" stroke="#000" stroke-width="0.85"/>
<line x1="671.3" y1="226.04" x2="671.3" y2="228.64" stroke="#000" stroke-width="0.85"/>
<line x1="695.9" y1="226.04" x2="695.9" y2="228.64" stroke="#000" stroke-width="0.85"/>
<circle cx="683.6" cy="227.34" r="1.15" fill="#000"/>
<text x="599.8" y="234.05" style="font-size:5.6px;font-weight:bold;" text-anchor="end" fill="#000" stroke="#000" stroke-width="0.26" textLength="10.98" lengthAdjust="spacingAndGlyphs">Fa2h</text>
<line x1="600.6" y1="232.05" x2="603.6" y2="232.05" stroke="#000" stroke-width="0.9"/>
<line x1="647.8" y1="232.05" x2="659.4" y2="232.05" stroke="#000" stroke-width="0.85"/>
<line x1="647.8" y1="230.75" x2="647.8" y2="233.35" stroke="#000" stroke-width="0.85"/>
<line x1="659.4" y1="230.75" x2="659.4" y2="233.35" stroke="#000" stroke-width="0.85"/>
<circle cx="653.6" cy="232.05" r="1.15" fill="#000"/>
<text x="599.8" y="238.76" style="font-size:5.6px;font-weight:bold;" text-anchor="end" fill="#000" stroke="#000" stroke-width="0.26" textLength="17" lengthAdjust="spacingAndGlyphs">Gal3st1</text>
<line x1="600.6" y1="236.76" x2="603.6" y2="236.76" stroke="#000" stroke-width="0.9"/>
<line x1="671.4" y1="236.76" x2="680.4" y2="236.76" stroke="#000" stroke-width="0.85"/>
<line x1="671.4" y1="235.46" x2="671.4" y2="238.06" stroke="#000" stroke-width="0.85"/>
<line x1="680.4" y1="235.46" x2="680.4" y2="238.06" stroke="#000" stroke-width="0.85"/>
<circle cx="675.9" cy="236.76" r="1.15" fill="#000"/>
<text x="599.8" y="243.48" style="font-size:5.6px;font-weight:bold;" text-anchor="end" fill="#000" stroke="#000" stroke-width="0.26" textLength="10.46" lengthAdjust="spacingAndGlyphs">Gjb1</text>
<line x1="600.6" y1="241.48" x2="603.6" y2="241.48" stroke="#000" stroke-width="0.9"/>
<line x1="677.3" y1="241.48" x2="684.5" y2="241.48" stroke="#000" stroke-width="0.85"/>
<line x1="677.3" y1="240.18" x2="677.3" y2="242.78" stroke="#000" stroke-width="0.85"/>
<line x1="684.5" y1="240.18" x2="684.5" y2="242.78" stroke="#000" stroke-width="0.85"/>
<circle cx="680.9" cy="241.48" r="1.15" fill="#000"/>
<text x="599.8" y="248.19" style="font-size:5.6px;font-weight:bold;" text-anchor="end" fill="#000" stroke="#000" stroke-width="0.26" textLength="13.6" lengthAdjust="spacingAndGlyphs">Gpr37</text>
<line x1="600.6" y1="246.19" x2="603.6" y2="246.19" stroke="#000" stroke-width="0.9"/>
<line x1="661" y1="246.19" x2="690" y2="246.19" stroke="#000" stroke-width="0.85"/>
<line x1="661" y1="244.89" x2="661" y2="247.49" stroke="#000" stroke-width="0.85"/>
<line x1="690" y1="244.89" x2="690" y2="247.49" stroke="#000" stroke-width="0.85"/>
<circle cx="675.5" cy="246.19" r="1.15" fill="#000"/>
<text x="599.8" y="252.9" style="font-size:5.6px;font-weight:bold;" text-anchor="end" fill="#000" stroke="#000" stroke-width="0.26" textLength="9.15" lengthAdjust="spacingAndGlyphs">Gsn</text>
<line x1="600.6" y1="250.9" x2="603.6" y2="250.9" stroke="#000" stroke-width="0.9"/>
<line x1="681.1" y1="250.9" x2="684.3" y2="250.9" stroke="#000" stroke-width="0.85"/>
<line x1="681.1" y1="249.6" x2="681.1" y2="252.2" stroke="#000" stroke-width="0.85"/>
<line x1="684.3" y1="249.6" x2="684.3" y2="252.2" stroke="#000" stroke-width="0.85"/>
<circle cx="682.7" cy="250.9" r="1.15" fill="#000"/>
<text x="599.8" y="257.61" style="font-size:5.6px;font-weight:bold;" text-anchor="end" fill="#000" stroke="#000" stroke-width="0.26" textLength="12.81" lengthAdjust="spacingAndGlyphs">Lpar1</text>
<line x1="600.6" y1="255.61" x2="603.6" y2="255.61" stroke="#000" stroke-width="0.9"/>
<line x1="696.3" y1="255.61" x2="699.5" y2="255.61" stroke="#000" stroke-width="0.85"/>
<line x1="696.3" y1="254.31" x2="696.3" y2="256.91" stroke="#000" stroke-width="0.85"/>
<line x1="699.5" y1="254.31" x2="699.5" y2="256.91" stroke="#000" stroke-width="0.85"/>
<circle cx="697.9" cy="255.61" r="1.15" fill="#000"/>
<text x="599.8" y="262.32" style="font-size:5.6px;font-weight:bold;" text-anchor="end" fill="#000" stroke="#000" stroke-width="0.26" textLength="9.41" lengthAdjust="spacingAndGlyphs">Mag</text>
<line x1="600.6" y1="260.32" x2="603.6" y2="260.32" stroke="#000" stroke-width="0.9"/>
<line x1="666.3" y1="260.32" x2="676.5" y2="260.32" stroke="#000" stroke-width="0.85"/>
<line x1="666.3" y1="259.02" x2="666.3" y2="261.62" stroke="#000" stroke-width="0.85"/>
<line x1="676.5" y1="259.02" x2="676.5" y2="261.62" stroke="#000" stroke-width="0.85"/>
<circle cx="671.4" cy="260.32" r="1.15" fill="#000"/>
<text x="599.8" y="267.04" style="font-size:5.6px;font-weight:bold;" text-anchor="end" fill="#000" stroke="#000" stroke-width="0.26" textLength="9.67" lengthAdjust="spacingAndGlyphs">Mbp</text>
<line x1="600.6" y1="265.04" x2="603.6" y2="265.04" stroke="#000" stroke-width="0.9"/>
<line x1="687.1" y1="265.04" x2="692.5" y2="265.04" stroke="#000" stroke-width="0.85"/>
<line x1="687.1" y1="263.74" x2="687.1" y2="266.34" stroke="#000" stroke-width="0.85"/>
<line x1="692.5" y1="263.74" x2="692.5" y2="266.34" stroke="#000" stroke-width="0.85"/>
<circle cx="689.8" cy="265.04" r="1.15" fill="#000"/>
<text x="599.8" y="271.75" style="font-size:5.6px;font-weight:bold;" text-anchor="end" fill="#000" stroke="#000" stroke-width="0.26" textLength="9.67" lengthAdjust="spacingAndGlyphs">Mog</text>
<line x1="600.6" y1="269.75" x2="603.6" y2="269.75" stroke="#000" stroke-width="0.9"/>
<line x1="674.3" y1="269.75" x2="687.5" y2="269.75" stroke="#000" stroke-width="0.85"/>
<line x1="674.3" y1="268.45" x2="674.3" y2="271.05" stroke="#000" stroke-width="0.85"/>
<line x1="687.5" y1="268.45" x2="687.5" y2="271.05" stroke="#000" stroke-width="0.85"/>
<circle cx="680.9" cy="269.75" r="1.15" fill="#000"/>
<text x="599.8" y="276.46" style="font-size:5.6px;font-weight:bold;" text-anchor="end" fill="#000" stroke="#000" stroke-width="0.26" textLength="9.93" lengthAdjust="spacingAndGlyphs">Myrf</text>
<line x1="600.6" y1="274.46" x2="603.6" y2="274.46" stroke="#000" stroke-width="0.9"/>
<line x1="669.8" y1="274.46" x2="673" y2="274.46" stroke="#000" stroke-width="0.85"/>
<line x1="669.8" y1="273.16" x2="669.8" y2="275.76" stroke="#000" stroke-width="0.85"/>
<line x1="673" y1="273.16" x2="673" y2="275.76" stroke="#000" stroke-width="0.85"/>
<circle cx="671.4" cy="274.46" r="1.15" fill="#000"/>
<text x="599.8" y="281.17" style="font-size:5.6px;font-weight:bold;" text-anchor="end" fill="#000" stroke="#000" stroke-width="0.26" textLength="7.32" lengthAdjust="spacingAndGlyphs">Plp</text>
<line x1="600.6" y1="279.17" x2="603.6" y2="279.17" stroke="#000" stroke-width="0.9"/>
<line x1="641.2" y1="279.17" x2="658.8" y2="279.17" stroke="#000" stroke-width="0.85"/>
<line x1="641.2" y1="277.87" x2="641.2" y2="280.47" stroke="#000" stroke-width="0.85"/>
<line x1="658.8" y1="277.87" x2="658.8" y2="280.47" stroke="#000" stroke-width="0.85"/>
<circle cx="650" cy="279.17" r="1.15" fill="#000"/>
<text x="599.8" y="285.88" style="font-size:5.6px;font-weight:bold;" text-anchor="end" fill="#000" stroke="#000" stroke-width="0.26" textLength="15.42" lengthAdjust="spacingAndGlyphs">Plxnb3</text>
<line x1="600.6" y1="283.88" x2="603.6" y2="283.88" stroke="#000" stroke-width="0.9"/>
<line x1="645.5" y1="283.88" x2="664.5" y2="283.88" stroke="#000" stroke-width="0.85"/>
<line x1="645.5" y1="282.58" x2="645.5" y2="285.18" stroke="#000" stroke-width="0.85"/>
<line x1="664.5" y1="282.58" x2="664.5" y2="285.18" stroke="#000" stroke-width="0.85"/>
<circle cx="655" cy="283.88" r="1.15" fill="#000"/>
<text x="599.8" y="290.6" style="font-size:5.6px;font-weight:bold;" text-anchor="end" fill="#000" stroke="#000" stroke-width="0.26" textLength="13.07" lengthAdjust="spacingAndGlyphs">Prkcq</text>
<line x1="600.6" y1="288.6" x2="603.6" y2="288.6" stroke="#000" stroke-width="0.9"/>
<line x1="636.5" y1="288.6" x2="652.1" y2="288.6" stroke="#000" stroke-width="0.85"/>
<line x1="636.5" y1="287.3" x2="636.5" y2="289.9" stroke="#000" stroke-width="0.85"/>
<line x1="652.1" y1="287.3" x2="652.1" y2="289.9" stroke="#000" stroke-width="0.85"/>
<circle cx="644.3" cy="288.6" r="1.15" fill="#000"/>
<text x="599.8" y="295.31" style="font-size:5.6px;font-weight:bold;" text-anchor="end" fill="#000" stroke="#000" stroke-width="0.26" textLength="13.86" lengthAdjust="spacingAndGlyphs">Sox10</text>
<line x1="600.6" y1="293.31" x2="603.6" y2="293.31" stroke="#000" stroke-width="0.9"/>
<line x1="651.6" y1="293.31" x2="672.6" y2="293.31" stroke="#000" stroke-width="0.85"/>
<line x1="651.6" y1="292.01" x2="651.6" y2="294.61" stroke="#000" stroke-width="0.85"/>
<line x1="672.6" y1="292.01" x2="672.6" y2="294.61" stroke="#000" stroke-width="0.85"/>
<circle cx="662.1" cy="293.31" r="1.15" fill="#000"/>
<text x="599.8" y="300.02" style="font-size:5.6px;font-weight:bold;" text-anchor="end" fill="#000" stroke="#000" stroke-width="0.26" textLength="13.07" lengthAdjust="spacingAndGlyphs">Ugt8a</text>
<line x1="600.6" y1="298.02" x2="603.6" y2="298.02" stroke="#000" stroke-width="0.9"/>
<line x1="669.8" y1="298.02" x2="673" y2="298.02" stroke="#000" stroke-width="0.85"/>
<line x1="669.8" y1="296.72" x2="669.8" y2="299.32" stroke="#000" stroke-width="0.85"/>
<line x1="673" y1="296.72" x2="673" y2="299.32" stroke="#000" stroke-width="0.85"/>
<circle cx="671.4" cy="298.02" r="1.15" fill="#000"/>
<line x1="603.6" y1="12.3" x2="603.6" y2="301.8" stroke="#000" stroke-width="1.2"/>
<line x1="603.6" y1="301.3" x2="726.3" y2="301.3" stroke="#000" stroke-width="1.2"/>
<line x1="603.56" y1="301.3" x2="603.56" y2="303.8" stroke="#000" stroke-width="0.9"/>
<line x1="610.78" y1="301.3" x2="610.78" y2="303.8" stroke="#000" stroke-width="0.9"/>
<line x1="618" y1="301.3" x2="618" y2="304.5" stroke="#000" stroke-width="1"/>
<line x1="625.22" y1="301.3" x2="625.22" y2="303.8" stroke="#000" stroke-width="0.9"/>
<line x1="632.44" y1="301.3" x2="632.44" y2="303.8" stroke="#000" stroke-width="0.9"/>
<line x1="639.66" y1="301.3" x2="639.66" y2="303.8" stroke="#000" stroke-width="0.9"/>
<line x1="646.88" y1="301.3" x2="646.88" y2="303.8" stroke="#000" stroke-width="0.9"/>
<line x1="654.1" y1="301.3" x2="654.1" y2="304.5" stroke="#000" stroke-width="1"/>
<line x1="661.32" y1="301.3" x2="661.32" y2="303.8" stroke="#000" stroke-width="0.9"/>
<line x1="668.54" y1="301.3" x2="668.54" y2="303.8" stroke="#000" stroke-width="0.9"/>
<line x1="675.76" y1="301.3" x2="675.76" y2="303.8" stroke="#000" stroke-width="0.9"/>
<line x1="682.98" y1="301.3" x2="682.98" y2="303.8" stroke="#000" stroke-width="0.9"/>
<line x1="690.2" y1="301.3" x2="690.2" y2="304.5" stroke="#000" stroke-width="1"/>
<line x1="697.42" y1="301.3" x2="697.42" y2="303.8" stroke="#000" stroke-width="0.9"/>
<line x1="704.64" y1="301.3" x2="704.64" y2="303.8" stroke="#000" stroke-width="0.9"/>
<line x1="711.86" y1="301.3" x2="711.86" y2="303.8" stroke="#000" stroke-width="0.9"/>
<line x1="719.08" y1="301.3" x2="719.08" y2="303.8" stroke="#000" stroke-width="0.9"/>
<line x1="726.3" y1="301.3" x2="726.3" y2="304.5" stroke="#000" stroke-width="1"/>
<text x="617.4" y="310.3" style="font-size:5.5px;font-weight:bold;" text-anchor="middle" fill="#000" stroke="#000" stroke-width="0.15">-10</text>
<text x="653.5" y="310.3" style="font-size:5.5px;font-weight:bold;" text-anchor="middle" fill="#000" stroke="#000" stroke-width="0.15">-5</text>
<text x="690.2" y="310.3" style="font-size:5.5px;font-weight:bold;" text-anchor="middle" fill="#000" stroke="#000" stroke-width="0.15">0</text>
<text x="726.3" y="310.3" style="font-size:5.5px;font-weight:bold;" text-anchor="middle" fill="#000" stroke="#000" stroke-width="0.15">5</text>
<text x="664.7" y="321.5" style="font-size:7.7px;font-weight:bold;" text-anchor="middle" fill="#000" stroke="#000" stroke-width="0.22">Log<tspan dy="2.4" style="font-size:5.9px">2</tspan><tspan dy="-2.4">[Fold Change]</tspan></text>
<text x="728" y="36.6" style="font-size:6.6px;font-weight:bold;" fill="#000" stroke="#000" stroke-width="0.18">Neurons</text>
<text x="728" y="107" style="font-size:6.6px;font-weight:bold;" fill="#000" stroke="#000" stroke-width="0.18">Microglia</text>
<text x="728" y="191.9" style="font-size:6.6px;font-weight:bold;" fill="#000" stroke="#000" stroke-width="0.18">Astrocytes</text>
<text x="728" y="262.5" style="font-size:6.6px;font-weight:bold;" fill="#000" stroke="#000" stroke-width="0.18">Oligodendrocytes</text>
<text x="1.3" y="358.8" style="font-size:27px;font-weight:bold;" fill="#000" stroke="#000" stroke-width="0.76">D</text>
<rect x="70.7" y="433" width="25.7" height="20.1" fill="#f5f5ff"/>
<rect x="96" y="433" width="25.6" height="20.1" fill="#f0efff"/>
<rect x="121.2" y="433" width="25.7" height="20.1" fill="#f2f2ff"/>
<rect x="146.5" y="433" width="25.6" height="20.1" fill="#f0efff"/>
<rect x="171.7" y="433" width="26.9" height="20.1" fill="#abacff"/>
<rect x="198.2" y="433" width="27.9" height="20.1" fill="#d6d6ff"/>
<rect x="225.7" y="433" width="26.7" height="20.1" fill="#dbdbff"/>
<rect x="252" y="433" width="28.7" height="20.1" fill="#bfbfff"/>
<rect x="280.3" y="433" width="26.7" height="20.1" fill="#ff2600"/>
<rect x="306.6" y="433" width="25.7" height="20.1" fill="#ffa0a0"/>
<rect x="331.9" y="433" width="25.7" height="20.1" fill="#ffd8da"/>
<rect x="357.2" y="433" width="25.7" height="20.1" fill="#ffe5e6"/>
<rect x="382.5" y="433" width="25.9" height="20.1" fill="#ffe5e6"/>
<rect x="70.7" y="452.7" width="25.7" height="20.1" fill="#f0efff"/>
<rect x="96" y="452.7" width="25.6" height="20.1" fill="#ebeaff"/>
<rect x="121.2" y="452.7" width="25.7" height="20.1" fill="#ededff"/>
<rect x="146.5" y="452.7" width="25.6" height="20.1" fill="#e8e8ff"/>
<rect x="171.7" y="452.7" width="26.9" height="20.1" fill="#dbdbff"/>
<rect x="198.2" y="452.7" width="27.9" height="20.1" fill="#d6d6ff"/>
<rect x="225.7" y="452.7" width="26.7" height="20.1" fill="#ededff"/>
<rect x="252" y="452.7" width="28.7" height="20.1" fill="#d4d3ff"/>
<rect x="280.3" y="452.7" width="26.7" height="20.1" fill="#ffafb0"/>
<rect x="306.6" y="452.7" width="25.7" height="20.1" fill="#ffafb0"/>
<rect x="331.9" y="452.7" width="25.7" height="20.1" fill="#ffe7e8"/>
<rect x="357.2" y="452.7" width="25.7" height="20.1" fill="#ffe5e6"/>
<rect x="382.5" y="452.7" width="25.9" height="20.1" fill="#ffb3b5"/>
<rect x="70.7" y="472.4" width="25.7" height="20" fill="#e0e0ff"/>
<rect x="96" y="472.4" width="25.6" height="20" fill="#b0b1ff"/>
<rect x="121.2" y="472.4" width="25.7" height="20" fill="#fff"/>
<rect x="146.5" y="472.4" width="25.6" height="20" fill="#8f92ff"/>
<rect x="171.7" y="472.4" width="26.9" height="20" fill="#ededff"/>
<rect x="198.2" y="472.4" width="27.9" height="20" fill="#fff"/>
<rect x="225.7" y="472.4" width="26.7" height="20" fill="#ffffff"/>
<rect x="252" y="472.4" width="28.7" height="20" fill="#dbdbff"/>
<rect x="280.3" y="472.4" width="26.7" height="20" fill="#ffffff"/>
<rect x="306.6" y="472.4" width="25.7" height="20" fill="#d1d1ff"/>
<rect x="331.9" y="472.4" width="25.7" height="20" fill="#002cff"/>
<rect x="357.2" y="472.4" width="25.7" height="20" fill="#b0b1ff"/>
<rect x="382.5" y="472.4" width="25.9" height="20" fill="#ededff"/>
<line x1="122" y1="472.4" x2="146" y2="492" stroke="#000" stroke-width="0.9"/>
<line x1="122" y1="492" x2="146" y2="472.4" stroke="#000" stroke-width="0.9"/>
<line x1="199" y1="472.4" x2="225.2" y2="492" stroke="#000" stroke-width="0.9"/>
<line x1="199" y1="492" x2="225.2" y2="472.4" stroke="#000" stroke-width="0.9"/>
<line x1="198.2" y1="433" x2="198.2" y2="492" stroke="#000" stroke-width="2"/>
<line x1="252" y1="433" x2="252" y2="492" stroke="#000" stroke-width="2"/>
<line x1="280.3" y1="433" x2="280.3" y2="492" stroke="#000" stroke-width="2"/>
<rect x="70.7" y="433" width="337.3" height="59" fill="none" stroke="#000" stroke-width="2"/>
<line x1="83.4" y1="429" x2="83.4" y2="433" stroke="#000" stroke-width="1.2"/>
<text x="85.4" y="428" style="font-size:10.4px;font-weight:bold;" transform="rotate(-45 85.4 428)" fill="#000" stroke="#000" stroke-width="0.29">C1qa</text>
<line x1="108.6" y1="429" x2="108.6" y2="433" stroke="#000" stroke-width="1.2"/>
<text x="110.6" y="428" style="font-size:10.4px;font-weight:bold;" transform="rotate(-45 110.6 428)" fill="#000" stroke="#000" stroke-width="0.29">C1qb</text>
<line x1="133.9" y1="429" x2="133.9" y2="433" stroke="#000" stroke-width="1.2"/>
<text x="135.9" y="428" style="font-size:10.4px;font-weight:bold;" transform="rotate(-45 135.9 428)" fill="#000" stroke="#000" stroke-width="0.29">C1qc</text>
<line x1="159.1" y1="429" x2="159.1" y2="433" stroke="#000" stroke-width="1.2"/>
<text x="161.1" y="428" style="font-size:10.4px;font-weight:bold;" transform="rotate(-45 161.1 428)" fill="#000" stroke="#000" stroke-width="0.29">Hexb</text>
<line x1="184.4" y1="429" x2="184.4" y2="433" stroke="#000" stroke-width="1.2"/>
<text x="186.4" y="428" style="font-size:10.4px;font-weight:bold;" transform="rotate(-45 186.4 428)" fill="#000" stroke="#000" stroke-width="0.29">Csf1r</text>
<line x1="213.1" y1="429" x2="213.1" y2="433" stroke="#000" stroke-width="1.2"/>
<text x="215.1" y="428" style="font-size:10.4px;font-weight:bold;" transform="rotate(-45 215.1 428)" fill="#000" stroke="#000" stroke-width="0.29">Cx3cr1</text>
<line x1="238.3" y1="429" x2="238.3" y2="433" stroke="#000" stroke-width="1.2"/>
<text x="240.3" y="428" style="font-size:10.4px;font-weight:bold;" transform="rotate(-45 240.3 428)" fill="#000" stroke="#000" stroke-width="0.29">Tmem119</text>
<line x1="265.7" y1="429" x2="265.7" y2="433" stroke="#000" stroke-width="1.2"/>
<text x="267.7" y="428" style="font-size:10.4px;font-weight:bold;" transform="rotate(-45 267.7 428)" fill="#000" stroke="#000" stroke-width="0.29">Apoe</text>
<line x1="294" y1="429" x2="294" y2="433" stroke="#000" stroke-width="1.2"/>
<text x="296" y="428" style="font-size:10.4px;font-weight:bold;" transform="rotate(-45 296 428)" fill="#000" stroke="#000" stroke-width="0.29">Csf1</text>
<line x1="319.2" y1="429" x2="319.2" y2="433" stroke="#000" stroke-width="1.2"/>
<text x="321.2" y="428" style="font-size:10.4px;font-weight:bold;" transform="rotate(-45 321.2 428)" fill="#000" stroke="#000" stroke-width="0.29">Cd9</text>
<line x1="344.5" y1="429" x2="344.5" y2="433" stroke="#000" stroke-width="1.2"/>
<text x="346.5" y="428" style="font-size:10.4px;font-weight:bold;" transform="rotate(-45 346.5 428)" fill="#000" stroke="#000" stroke-width="0.29">Cd68</text>
<line x1="370.2" y1="429" x2="370.2" y2="433" stroke="#000" stroke-width="1.2"/>
<text x="372.2" y="428" style="font-size:10.4px;font-weight:bold;" transform="rotate(-45 372.2 428)" fill="#000" stroke="#000" stroke-width="0.29">Gusb</text>
<line x1="395.4" y1="429" x2="395.4" y2="433" stroke="#000" stroke-width="1.2"/>
<text x="397.4" y="428" style="font-size:10.4px;font-weight:bold;" transform="rotate(-45 397.4 428)" fill="#000" stroke="#000" stroke-width="0.29">Hif1a</text>
<text x="67.6" y="446.8" style="font-size:11.7px;font-weight:bold;" text-anchor="end" fill="#000" stroke="#000" stroke-width="0.33">DIV6</text>
<text x="67.6" y="466.7" style="font-size:11.7px;font-weight:bold;" text-anchor="end" fill="#000" stroke="#000" stroke-width="0.33">Chow</text>
<text x="67.6" y="486" style="font-size:11.7px;font-weight:bold;" text-anchor="end" fill="#000" stroke="#000" stroke-width="0.33">PLX3397</text>
<text x="239.4" y="357.3" style="font-size:16.4px;font-weight:bold;" text-anchor="middle" fill="#000" stroke="#000" stroke-width="0.46">Disease-associated Microglial Genes</text>
<text x="91" y="383" style="font-size:12.9px;font-weight:bold;" fill="#000" stroke="#000" stroke-width="0.36">Homeostatic</text>
<text x="214.6" y="382.3" style="font-size:12.9px;font-weight:bold;" fill="#000" stroke="#000" stroke-width="0.36">D1</text>
<line x1="234.8" y1="373.1" x2="234.8" y2="384.3" stroke="#333" stroke-width="1.1"/>
<path d="M232.6 380.7L234.8 384.3L237 380.7Z" fill="#111"/>
<text x="258.5" y="382.3" style="font-size:12.9px;font-weight:bold;" fill="#000" stroke="#000" stroke-width="0.36">D1</text>
<line x1="278.9" y1="373.4" x2="278.9" y2="384.3" stroke="#333" stroke-width="1.1"/>
<path d="M276.7 377L278.9 373.4L281.1 377Z" fill="#111"/>
<text x="334.5" y="382.3" style="font-size:12.9px;font-weight:bold;" fill="#000" stroke="#000" stroke-width="0.36">D2</text>
<line x1="354.8" y1="373.1" x2="354.8" y2="384.5" stroke="#333" stroke-width="1.1"/>
<path d="M352.6 376.7L354.8 373.1L357 376.7Z" fill="#111"/>
<rect x="70.3" y="507.3" width="141.8" height="15" fill="url(#g1)" stroke="#000" stroke-width="1.3"/>
<line x1="74.4" y1="507.3" x2="74.4" y2="509.6" stroke="#111" stroke-width="1.1"/>
<line x1="74.4" y1="520" x2="74.4" y2="522.3" stroke="#111" stroke-width="1.1"/>
<text x="74.4" y="538.8" style="font-size:11.8px;" text-anchor="middle" fill="#000" stroke="#000" stroke-width="0.14">-40</text>
<line x1="107.05" y1="507.3" x2="107.05" y2="509.6" stroke="#111" stroke-width="1.1"/>
<line x1="107.05" y1="520" x2="107.05" y2="522.3" stroke="#111" stroke-width="1.1"/>
<text x="107.05" y="538.8" style="font-size:11.8px;" text-anchor="middle" fill="#000" stroke="#000" stroke-width="0.14">-20</text>
<line x1="139.7" y1="507.3" x2="139.7" y2="509.6" stroke="#111" stroke-width="1.1"/>
<line x1="139.7" y1="520" x2="139.7" y2="522.3" stroke="#111" stroke-width="1.1"/>
<text x="139.7" y="538.8" style="font-size:11.8px;" text-anchor="middle" fill="#000" stroke="#000" stroke-width="0.14">0</text>
<line x1="172.35" y1="507.3" x2="172.35" y2="509.6" stroke="#111" stroke-width="1.1"/>
<line x1="172.35" y1="520" x2="172.35" y2="522.3" stroke="#111" stroke-width="1.1"/>
<text x="172.35" y="538.8" style="font-size:11.8px;" text-anchor="middle" fill="#000" stroke="#000" stroke-width="0.14">20</text>
<line x1="205" y1="507.3" x2="205" y2="509.6" stroke="#111" stroke-width="1.1"/>
<line x1="205" y1="520" x2="205" y2="522.3" stroke="#111" stroke-width="1.1"/>
<text x="205" y="538.8" style="font-size:11.8px;" text-anchor="middle" fill="#000" stroke="#000" stroke-width="0.14">40</text>
<text x="216" y="518.4" style="font-size:11.8px;" fill="#000" stroke="#000" stroke-width="0.14">Z-score</text>
<rect x="429.6" y="433.6" width="25.6" height="20.1" fill="#ffcfd1"/>
<rect x="454.8" y="433.6" width="25.7" height="20.1" fill="#ff9999"/>
<rect x="480.1" y="433.6" width="25.7" height="20.1" fill="#fff0f1"/>
<rect x="505.4" y="433.6" width="25.6" height="20.1" fill="#fff4f5"/>
<rect x="530.6" y="433.6" width="25.7" height="20.1" fill="#8f92ff"/>
<rect x="555.9" y="433.6" width="26.8" height="20.1" fill="#ffbcbe"/>
<rect x="582.3" y="433.6" width="26.4" height="20.1" fill="#ff2600"/>
<rect x="608.3" y="433.6" width="27.3" height="20.1" fill="#fffdfd"/>
<rect x="635.2" y="433.6" width="26.8" height="20.1" fill="#ffe9ea"/>
<rect x="661.6" y="433.6" width="25.6" height="20.1" fill="#ffcfd1"/>
<rect x="686.8" y="433.6" width="25.7" height="20.1" fill="#8c90ff"/>
<rect x="712.1" y="433.6" width="25.6" height="20.1" fill="#ffcfd1"/>
<rect x="737.3" y="433.6" width="25.7" height="20.1" fill="#ffe1e2"/>
<rect x="429.6" y="453.3" width="25.6" height="20.1" fill="#ffc7c8"/>
<rect x="454.8" y="453.3" width="25.7" height="20.1" fill="#ff8c8b"/>
<rect x="480.1" y="453.3" width="25.7" height="20.1" fill="#ffe9ea"/>
<rect x="505.4" y="453.3" width="25.6" height="20.1" fill="#fff0f1"/>
<rect x="530.6" y="453.3" width="25.7" height="20.1" fill="#c7c7ff"/>
<rect x="555.9" y="453.3" width="26.8" height="20.1" fill="#ffe1e2"/>
<rect x="582.3" y="453.3" width="26.4" height="20.1" fill="#ffe5e6"/>
<rect x="608.3" y="453.3" width="27.3" height="20.1" fill="#fffdfd"/>
<rect x="635.2" y="453.3" width="26.8" height="20.1" fill="#ffe9ea"/>
<rect x="661.6" y="453.3" width="25.6" height="20.1" fill="#ffc0c2"/>
<rect x="686.8" y="453.3" width="25.7" height="20.1" fill="#e0e0ff"/>
<rect x="712.1" y="453.3" width="25.6" height="20.1" fill="#ffc7c8"/>
<rect x="737.3" y="453.3" width="25.7" height="20.1" fill="#ffc0c2"/>
<rect x="429.6" y="473" width="25.6" height="20" fill="#a1a2ff"/>
<rect x="454.8" y="473" width="25.7" height="20" fill="#999bff"/>
<rect x="480.1" y="473" width="25.7" height="20" fill="#002cff"/>
<rect x="505.4" y="473" width="25.6" height="20" fill="#ffffff"/>
<rect x="530.6" y="473" width="25.7" height="20" fill="#fff0f1"/>
<rect x="555.9" y="473" width="26.8" height="20" fill="#c7c7ff"/>
<rect x="582.3" y="473" width="26.4" height="20" fill="#ededff"/>
<rect x="608.3" y="473" width="27.3" height="20" fill="#b5b6ff"/>
<rect x="635.2" y="473" width="26.8" height="20" fill="#b0b1ff"/>
<rect x="661.6" y="473" width="25.6" height="20" fill="#d1d1ff"/>
<rect x="686.8" y="473" width="25.7" height="20" fill="#ffffff"/>
<rect x="712.1" y="473" width="25.6" height="20" fill="#7f85ff"/>
<rect x="737.3" y="473" width="25.7" height="20" fill="#fff6f7"/>
<line x1="582.3" y1="433.6" x2="582.3" y2="492.6" stroke="#000" stroke-width="2"/>
<line x1="635.2" y1="433.6" x2="635.2" y2="492.6" stroke="#000" stroke-width="2"/>
<rect x="429.6" y="433.6" width="333" height="59" fill="none" stroke="#000" stroke-width="2"/>
<line x1="442.2" y1="429.8" x2="442.2" y2="433.6" stroke="#000" stroke-width="1.2"/>
<text x="444.2" y="430.5" style="font-size:8.6px;font-weight:bold;" transform="rotate(-45 444.2 430.5)" fill="#000" stroke="#000" stroke-width="0.24">Cd44</text>
<line x1="467.5" y1="429.8" x2="467.5" y2="433.6" stroke="#000" stroke-width="1.2"/>
<text x="469.5" y="430.5" style="font-size:8.6px;font-weight:bold;" transform="rotate(-45 469.5 430.5)" fill="#000" stroke="#000" stroke-width="0.24">Cp</text>
<line x1="492.7" y1="429.8" x2="492.7" y2="433.6" stroke="#000" stroke-width="1.2"/>
<text x="494.7" y="430.5" style="font-size:8.6px;font-weight:bold;" transform="rotate(-45 494.7 430.5)" fill="#000" stroke="#000" stroke-width="0.24">Cxcl10</text>
<line x1="518" y1="429.8" x2="518" y2="433.6" stroke="#000" stroke-width="1.2"/>
<text x="520" y="430.5" style="font-size:8.6px;font-weight:bold;" transform="rotate(-45 520 430.5)" fill="#000" stroke="#000" stroke-width="0.24">Gfap</text>
<line x1="543.2" y1="429.8" x2="543.2" y2="433.6" stroke="#000" stroke-width="1.2"/>
<text x="545.2" y="430.5" style="font-size:8.6px;font-weight:bold;" transform="rotate(-45 545.2 430.5)" fill="#000" stroke="#000" stroke-width="0.24">Hspb1</text>
<line x1="568.5" y1="429.8" x2="568.5" y2="433.6" stroke="#000" stroke-width="1.2"/>
<text x="570.5" y="430.5" style="font-size:8.6px;font-weight:bold;" transform="rotate(-45 570.5 430.5)" fill="#000" stroke="#000" stroke-width="0.24">Osmr</text>
<line x1="596" y1="429.8" x2="596" y2="433.6" stroke="#000" stroke-width="1.2"/>
<text x="598" y="430.5" style="font-size:8.6px;font-weight:bold;" transform="rotate(-45 598 430.5)" fill="#000" stroke="#000" stroke-width="0.24">Gsr</text>
<line x1="620.7" y1="429.8" x2="620.7" y2="433.6" stroke="#000" stroke-width="1.2"/>
<text x="622.7" y="430.5" style="font-size:8.6px;font-weight:bold;" transform="rotate(-45 622.7 430.5)" fill="#000" stroke="#000" stroke-width="0.24">Psmb8</text>
<line x1="649.4" y1="429.8" x2="649.4" y2="433.6" stroke="#000" stroke-width="1.2"/>
<text x="651.4" y="430.5" style="font-size:8.6px;font-weight:bold;" transform="rotate(-45 651.4 430.5)" fill="#000" stroke="#000" stroke-width="0.24">Cd14</text>
<line x1="674.7" y1="429.8" x2="674.7" y2="433.6" stroke="#000" stroke-width="1.2"/>
<text x="676.7" y="430.5" style="font-size:8.6px;font-weight:bold;" transform="rotate(-45 676.7 430.5)" fill="#000" stroke="#000" stroke-width="0.24">Hmox1</text>
<line x1="699.9" y1="429.8" x2="699.9" y2="433.6" stroke="#000" stroke-width="1.2"/>
<text x="701.9" y="430.5" style="font-size:8.6px;font-weight:bold;" transform="rotate(-45 701.9 430.5)" fill="#000" stroke="#000" stroke-width="0.24">Icam1</text>
<line x1="725.2" y1="429.8" x2="725.2" y2="433.6" stroke="#000" stroke-width="1.2"/>
<text x="727.2" y="430.5" style="font-size:8.6px;font-weight:bold;" transform="rotate(-45 727.2 430.5)" fill="#000" stroke="#000" stroke-width="0.24">Ptgs2</text>
<line x1="750.4" y1="429.8" x2="750.4" y2="433.6" stroke="#000" stroke-width="1.2"/>
<text x="752.4" y="430.5" style="font-size:8.6px;font-weight:bold;" transform="rotate(-45 752.4 430.5)" fill="#000" stroke="#000" stroke-width="0.24">Tnfrsf12a</text>
<text x="601.7" y="358" style="font-size:16.4px;font-weight:bold;" text-anchor="middle" fill="#000" stroke="#000" stroke-width="0.46">Astrocyte Activation Genes</text>
<text x="507.8" y="384.8" style="font-size:12.9px;font-weight:bold;" text-anchor="middle" fill="#000" stroke="#000" stroke-width="0.36">Pan-activation</text>
<text x="610.3" y="384.8" style="font-size:12.9px;font-weight:bold;" text-anchor="middle" fill="#000" stroke="#000" stroke-width="0.36">A1</text>
<text x="702.3" y="384.8" style="font-size:12.9px;font-weight:bold;" text-anchor="middle" fill="#000" stroke="#000" stroke-width="0.36">A2</text>
<rect x="429.5" y="507.3" width="139" height="15" fill="url(#g2)" stroke="#000" stroke-width="1.3"/>
<line x1="441.9" y1="507.3" x2="441.9" y2="509.6" stroke="#111" stroke-width="1.1"/>
<line x1="441.9" y1="520" x2="441.9" y2="522.3" stroke="#111" stroke-width="1.1"/>
<text x="441.9" y="539" style="font-size:11.8px;" text-anchor="middle" fill="#000" stroke="#000" stroke-width="0.14">0</text>
<line x1="474.7" y1="507.3" x2="474.7" y2="509.6" stroke="#111" stroke-width="1.1"/>
<line x1="474.7" y1="520" x2="474.7" y2="522.3" stroke="#111" stroke-width="1.1"/>
<text x="474.7" y="539" style="font-size:11.8px;" text-anchor="middle" fill="#000" stroke="#000" stroke-width="0.14">25</text>
<line x1="507.5" y1="507.3" x2="507.5" y2="509.6" stroke="#111" stroke-width="1.1"/>
<line x1="507.5" y1="520" x2="507.5" y2="522.3" stroke="#111" stroke-width="1.1"/>
<text x="507.5" y="539" style="font-size:11.8px;" text-anchor="middle" fill="#000" stroke="#000" stroke-width="0.14">50</text>
<line x1="540.3" y1="507.3" x2="540.3" y2="509.6" stroke="#111" stroke-width="1.1"/>
<line x1="540.3" y1="520" x2="540.3" y2="522.3" stroke="#111" stroke-width="1.1"/>
<text x="540.3" y="539" style="font-size:11.8px;" text-anchor="middle" fill="#000" stroke="#000" stroke-width="0.14">75</text>
<text x="572.7" y="519" style="font-size:11.8px;" fill="#000" stroke="#000" stroke-width="0.14">Z-score</text>
<rect x="76.3" y="632.8" width="32.9" height="19.6" fill="#ebeaff"/>
<rect x="108.8" y="632.8" width="32.9" height="19.6" fill="#e6e5ff"/>
<rect x="141.3" y="632.8" width="33.4" height="19.6" fill="#e6e5ff"/>
<rect x="174.3" y="632.8" width="34.4" height="19.6" fill="#ff9b9c"/>
<rect x="208.3" y="632.8" width="34.8" height="19.6" fill="#ffe1e2"/>
<rect x="242.7" y="632.8" width="32.9" height="19.6" fill="#ff2d0f"/>
<rect x="275.2" y="632.8" width="33.2" height="19.6" fill="#ffc4c6"/>
<rect x="308" y="632.8" width="32.7" height="19.6" fill="#c7c7ff"/>
<rect x="340.3" y="632.8" width="33.2" height="19.6" fill="#ffe1e2"/>
<rect x="373.1" y="632.8" width="33.5" height="19.6" fill="#ffc0c2"/>
<rect x="76.3" y="652" width="32.9" height="20" fill="#dbdbff"/>
<rect x="108.8" y="652" width="32.9" height="20" fill="#d4d3ff"/>
<rect x="141.3" y="652" width="33.4" height="20" fill="#dbdbff"/>
<rect x="174.3" y="652" width="34.4" height="20" fill="#ff2600"/>
<rect x="208.3" y="652" width="34.8" height="20" fill="#ffd8da"/>
<rect x="242.7" y="652" width="32.9" height="20" fill="#ff706c"/>
<rect x="275.2" y="652" width="33.2" height="20" fill="#ffe9ea"/>
<rect x="308" y="652" width="32.7" height="20" fill="#c7c7ff"/>
<rect x="340.3" y="652" width="33.2" height="20" fill="#ffe1e2"/>
<rect x="373.1" y="652" width="33.5" height="20" fill="#ffc7c8"/>
<rect x="76.3" y="671.6" width="32.9" height="19.6" fill="#b5b6ff"/>
<rect x="108.8" y="671.6" width="32.9" height="19.6" fill="#082fff"/>
<rect x="141.3" y="671.6" width="33.4" height="19.6" fill="#fff"/>
<rect x="174.3" y="671.6" width="34.4" height="19.6" fill="#dbdbff"/>
<rect x="208.3" y="671.6" width="34.8" height="19.6" fill="#fff8f9"/>
<rect x="242.7" y="671.6" width="32.9" height="19.6" fill="#f5f5ff"/>
<rect x="275.2" y="671.6" width="33.2" height="19.6" fill="#c7c7ff"/>
<rect x="308" y="671.6" width="32.7" height="19.6" fill="#ffffff"/>
<rect x="340.3" y="671.6" width="33.2" height="19.6" fill="#dbdbff"/>
<rect x="373.1" y="671.6" width="33.5" height="19.6" fill="#3046ff"/>
<line x1="142.1" y1="671.6" x2="173.8" y2="690.8" stroke="#000" stroke-width="0.9"/>
<line x1="142.1" y1="690.8" x2="173.8" y2="671.6" stroke="#000" stroke-width="0.9"/>
<line x1="208.3" y1="632.8" x2="208.3" y2="690.8" stroke="#000" stroke-width="2"/>
<rect x="76.3" y="632.8" width="329.9" height="58" fill="none" stroke="#000" stroke-width="2"/>
<line x1="92.4" y1="628.8" x2="92.4" y2="632.8" stroke="#000" stroke-width="1.2"/>
<text x="94.4" y="630" style="font-size:8.6px;font-weight:bold;" transform="rotate(-45 94.4 630)" fill="#000" stroke="#000" stroke-width="0.24">C1qa</text>
<line x1="125.1" y1="628.8" x2="125.1" y2="632.8" stroke="#000" stroke-width="1.2"/>
<text x="127.1" y="630" style="font-size:8.6px;font-weight:bold;" transform="rotate(-45 127.1 630)" fill="#000" stroke="#000" stroke-width="0.24">C1qb</text>
<line x1="157.8" y1="628.8" x2="157.8" y2="632.8" stroke="#000" stroke-width="1.2"/>
<text x="159.8" y="630" style="font-size:8.6px;font-weight:bold;" transform="rotate(-45 159.8 630)" fill="#000" stroke="#000" stroke-width="0.24">C1qc</text>
<line x1="190.8" y1="628.8" x2="190.8" y2="632.8" stroke="#000" stroke-width="1.2"/>
<text x="192.8" y="630" style="font-size:8.6px;font-weight:bold;" transform="rotate(-45 192.8 630)" fill="#000" stroke="#000" stroke-width="0.24">C3</text>
<line x1="226.7" y1="628.8" x2="226.7" y2="632.8" stroke="#000" stroke-width="1.2"/>
<text x="228.7" y="630" style="font-size:8.6px;font-weight:bold;" transform="rotate(-45 228.7 630)" fill="#000" stroke="#000" stroke-width="0.24">Tlr4</text>
<line x1="258.9" y1="628.8" x2="258.9" y2="632.8" stroke="#000" stroke-width="1.2"/>
<text x="260.9" y="630" style="font-size:8.6px;font-weight:bold;" transform="rotate(-45 260.9 630)" fill="#000" stroke="#000" stroke-width="0.24">Tnfrsf1a</text>
<line x1="291.8" y1="628.8" x2="291.8" y2="632.8" stroke="#000" stroke-width="1.2"/>
<text x="293.8" y="630" style="font-size:8.6px;font-weight:bold;" transform="rotate(-45 293.8 630)" fill="#000" stroke="#000" stroke-width="0.24">Tnfrsf1b</text>
<line x1="324.3" y1="628.8" x2="324.3" y2="632.8" stroke="#000" stroke-width="1.2"/>
<text x="326.3" y="630" style="font-size:8.6px;font-weight:bold;" transform="rotate(-45 326.3 630)" fill="#000" stroke="#000" stroke-width="0.24">Nlrp3</text>
<line x1="357.1" y1="628.8" x2="357.1" y2="632.8" stroke="#000" stroke-width="1.2"/>
<text x="359.1" y="630" style="font-size:8.6px;font-weight:bold;" transform="rotate(-45 359.1 630)" fill="#000" stroke="#000" stroke-width="0.24">Casp1</text>
<line x1="390" y1="628.8" x2="390" y2="632.8" stroke="#000" stroke-width="1.2"/>
<text x="392" y="630" style="font-size:8.6px;font-weight:bold;" transform="rotate(-45 392 630)" fill="#000" stroke="#000" stroke-width="0.24">Sirt2</text>
<text x="71.6" y="646.6" style="font-size:11.7px;font-weight:bold;" text-anchor="end" fill="#000" stroke="#000" stroke-width="0.33">DIV6</text>
<text x="71.6" y="665.8" style="font-size:11.7px;font-weight:bold;" text-anchor="end" fill="#000" stroke="#000" stroke-width="0.33">Chow</text>
<text x="71.6" y="685.3" style="font-size:11.7px;font-weight:bold;" text-anchor="end" fill="#000" stroke="#000" stroke-width="0.33">PLX3397</text>
<text x="241.3" y="567.3" style="font-size:16.4px;font-weight:bold;" text-anchor="middle" fill="#000" stroke="#000" stroke-width="0.46">Inflammatory Disease Process Genes</text>
<text x="140.6" y="592.1" style="font-size:12.9px;font-weight:bold;" text-anchor="middle" fill="#000" stroke="#000" stroke-width="0.36">Complement</text>
<text x="310" y="592.1" style="font-size:12.9px;font-weight:bold;" text-anchor="middle" fill="#000" stroke="#000" stroke-width="0.36">Inflammasome</text>
<rect x="75.3" y="706.8" width="138.3" height="14.5" fill="url(#g3)" stroke="#000" stroke-width="1.3"/>
<line x1="94.5" y1="706.8" x2="94.5" y2="709.1" stroke="#111" stroke-width="1.1"/>
<line x1="94.5" y1="719" x2="94.5" y2="721.3" stroke="#111" stroke-width="1.1"/>
<text x="94.5" y="737.5" style="font-size:11.8px;" text-anchor="middle" fill="#000" stroke="#000" stroke-width="0.14">-10</text>
<line x1="134" y1="706.8" x2="134" y2="709.1" stroke="#111" stroke-width="1.1"/>
<line x1="134" y1="719" x2="134" y2="721.3" stroke="#111" stroke-width="1.1"/>
<text x="134" y="737.5" style="font-size:11.8px;" text-anchor="middle" fill="#000" stroke="#000" stroke-width="0.14">0</text>
<line x1="173.5" y1="706.8" x2="173.5" y2="709.1" stroke="#111" stroke-width="1.1"/>
<line x1="173.5" y1="719" x2="173.5" y2="721.3" stroke="#111" stroke-width="1.1"/>
<text x="173.5" y="737.5" style="font-size:11.8px;" text-anchor="middle" fill="#000" stroke="#000" stroke-width="0.14">10</text>
<line x1="213" y1="706.8" x2="213" y2="709.1" stroke="#111" stroke-width="1.1"/>
<line x1="213" y1="719" x2="213" y2="721.3" stroke="#111" stroke-width="1.1"/>
<text x="213" y="737.5" style="font-size:11.8px;" text-anchor="middle" fill="#000" stroke="#000" stroke-width="0.14">20</text>
<text x="216.9" y="718" style="font-size:11.8px;" fill="#000" stroke="#000" stroke-width="0.14">Z-score</text>
<rect x="431.9" y="633.5" width="21.1" height="20.1" fill="#e0e0ff"/>
<rect x="452.6" y="633.5" width="21" height="20.1" fill="#d1d1ff"/>
<rect x="473.2" y="633.5" width="22.2" height="20.1" fill="#b5b6ff"/>
<rect x="495" y="633.5" width="21.8" height="20.1" fill="#f5f5ff"/>
<rect x="516.4" y="633.5" width="22.2" height="20.1" fill="#dbdbff"/>
<rect x="538.2" y="633.5" width="20.4" height="20.1" fill="#002cff"/>
<rect x="558.2" y="633.5" width="20.6" height="20.1" fill="#002cff"/>
<rect x="578.4" y="633.5" width="22.5" height="20.1" fill="#a1a2ff"/>
<rect x="600.5" y="633.5" width="21.8" height="20.1" fill="#b5b6ff"/>
<rect x="621.9" y="633.5" width="20.6" height="20.1" fill="#002cff"/>
<rect x="642.1" y="633.5" width="20.3" height="20.1" fill="#002cff"/>
<rect x="662" y="633.5" width="20.6" height="20.1" fill="#7f85ff"/>
<rect x="682.2" y="633.5" width="20.4" height="20.1" fill="#bfbfff"/>
<rect x="702.2" y="633.5" width="20.6" height="20.1" fill="#b5b6ff"/>
<rect x="722.4" y="633.5" width="20.4" height="20.1" fill="#002cff"/>
<rect x="742.4" y="633.5" width="20.6" height="20.1" fill="#a1a2ff"/>
<rect x="431.9" y="653.2" width="21.1" height="19.8" fill="#c7c7ff"/>
<rect x="452.6" y="653.2" width="21" height="19.8" fill="#002cff"/>
<rect x="473.2" y="653.2" width="22.2" height="19.8" fill="#e0e0ff"/>
<rect x="495" y="653.2" width="21.8" height="19.8" fill="#fff"/>
<rect x="516.4" y="653.2" width="22.2" height="19.8" fill="#002cff"/>
<rect x="538.2" y="653.2" width="20.4" height="19.8" fill="#002cff"/>
<rect x="558.2" y="653.2" width="20.6" height="19.8" fill="#3046ff"/>
<rect x="578.4" y="653.2" width="22.5" height="19.8" fill="#dbdbff"/>
<rect x="600.5" y="653.2" width="21.8" height="19.8" fill="#b0b1ff"/>
<rect x="621.9" y="653.2" width="20.6" height="19.8" fill="#999bff"/>
<rect x="642.1" y="653.2" width="20.3" height="19.8" fill="#7078ff"/>
<rect x="662" y="653.2" width="20.6" height="19.8" fill="#8f92ff"/>
<rect x="682.2" y="653.2" width="20.4" height="19.8" fill="#d4d3ff"/>
<rect x="702.2" y="653.2" width="20.6" height="19.8" fill="#e0e0ff"/>
<rect x="722.4" y="653.2" width="20.4" height="19.8" fill="#002cff"/>
<rect x="742.4" y="653.2" width="20.6" height="19.8" fill="#a8aaff"/>
<rect x="431.9" y="672.6" width="21.1" height="19.6" fill="#ffe9ea"/>
<rect x="452.6" y="672.6" width="21" height="19.6" fill="#ff6159"/>
<rect x="473.2" y="672.6" width="22.2" height="19.6" fill="#ff9999"/>
<rect x="495" y="672.6" width="21.8" height="19.6" fill="#ff9999"/>
<rect x="516.4" y="672.6" width="22.2" height="19.6" fill="#ff2d0f"/>
<rect x="538.2" y="672.6" width="20.4" height="19.6" fill="#ffc4c6"/>
<rect x="558.2" y="672.6" width="20.6" height="19.6" fill="#ededff"/>
<rect x="578.4" y="672.6" width="22.5" height="19.6" fill="#f5f5ff"/>
<rect x="600.5" y="672.6" width="21.8" height="19.6" fill="#ff6159"/>
<rect x="621.9" y="672.6" width="20.6" height="19.6" fill="#e8e8ff"/>
<rect x="642.1" y="672.6" width="20.3" height="19.6" fill="#e8e8ff"/>
<rect x="662" y="672.6" width="20.6" height="19.6" fill="#e0e0ff"/>
<rect x="682.2" y="672.6" width="20.4" height="19.6" fill="#ffcfd1"/>
<rect x="702.2" y="672.6" width="20.6" height="19.6" fill="#ff2d0f"/>
<rect x="722.4" y="672.6" width="20.4" height="19.6" fill="#ededff"/>
<rect x="742.4" y="672.6" width="20.6" height="19.6" fill="#d1d1ff"/>
<line x1="495.8" y1="653.2" x2="515.9" y2="672.6" stroke="#000" stroke-width="0.9"/>
<line x1="495.8" y1="672.6" x2="515.9" y2="653.2" stroke="#000" stroke-width="0.9"/>
<line x1="473.2" y1="633.5" x2="473.2" y2="691.8" stroke="#000" stroke-width="2"/>
<line x1="516.4" y1="633.5" x2="516.4" y2="691.8" stroke="#000" stroke-width="2"/>
<line x1="600.5" y1="633.5" x2="600.5" y2="691.8" stroke="#000" stroke-width="2"/>
<rect x="431.9" y="633.5" width="330.7" height="58.3" fill="none" stroke="#000" stroke-width="2"/>
<line x1="441.8" y1="629.5" x2="441.8" y2="633.5" stroke="#000" stroke-width="1.2"/>
<text x="443.8" y="630" style="font-size:8.8px;font-weight:bold;" transform="rotate(-45 443.8 630)" fill="#000" stroke="#000" stroke-width="0.25">Chrna7</text>
<line x1="461.7" y1="629.5" x2="461.7" y2="633.5" stroke="#000" stroke-width="1.2"/>
<text x="463.7" y="630" style="font-size:8.8px;font-weight:bold;" transform="rotate(-45 463.7 630)" fill="#000" stroke="#000" stroke-width="0.25">Chrnb2</text>
<line x1="485.8" y1="629.5" x2="485.8" y2="633.5" stroke="#000" stroke-width="1.2"/>
<text x="487.8" y="630" style="font-size:8.8px;font-weight:bold;" transform="rotate(-45 487.8 630)" fill="#000" stroke="#000" stroke-width="0.25">Drd1</text>
<line x1="505.8" y1="629.5" x2="505.8" y2="633.5" stroke="#000" stroke-width="1.2"/>
<text x="507.8" y="630" style="font-size:8.8px;font-weight:bold;" transform="rotate(-45 507.8 630)" fill="#000" stroke="#000" stroke-width="0.25">Drd2</text>
<line x1="527.9" y1="629.5" x2="527.9" y2="633.5" stroke="#000" stroke-width="1.2"/>
<text x="529.9" y="630" style="font-size:8.8px;font-weight:bold;" transform="rotate(-45 529.9 630)" fill="#000" stroke="#000" stroke-width="0.25">Gabra1</text>
<line x1="548.3" y1="629.5" x2="548.3" y2="633.5" stroke="#000" stroke-width="1.2"/>
<text x="550.3" y="630" style="font-size:8.8px;font-weight:bold;" transform="rotate(-45 550.3 630)" fill="#000" stroke="#000" stroke-width="0.25">Gabra4</text>
<line x1="568.5" y1="629.5" x2="568.5" y2="633.5" stroke="#000" stroke-width="1.2"/>
<text x="570.5" y="630" style="font-size:8.8px;font-weight:bold;" transform="rotate(-45 570.5 630)" fill="#000" stroke="#000" stroke-width="0.25">Gabrb2</text>
<line x1="588.7" y1="629.5" x2="588.7" y2="633.5" stroke="#000" stroke-width="1.2"/>
<text x="590.7" y="630" style="font-size:8.8px;font-weight:bold;" transform="rotate(-45 590.7 630)" fill="#000" stroke="#000" stroke-width="0.25">Gabrb3</text>
<line x1="611.5" y1="629.5" x2="611.5" y2="633.5" stroke="#000" stroke-width="1.2"/>
<text x="613.5" y="630" style="font-size:8.8px;font-weight:bold;" transform="rotate(-45 613.5 630)" fill="#000" stroke="#000" stroke-width="0.25">Gria1</text>
<line x1="631.7" y1="629.5" x2="631.7" y2="633.5" stroke="#000" stroke-width="1.2"/>
<text x="633.7" y="630" style="font-size:8.8px;font-weight:bold;" transform="rotate(-45 633.7 630)" fill="#000" stroke="#000" stroke-width="0.25">Gria2</text>
<line x1="651.7" y1="629.5" x2="651.7" y2="633.5" stroke="#000" stroke-width="1.2"/>
<text x="653.7" y="630" style="font-size:8.8px;font-weight:bold;" transform="rotate(-45 653.7 630)" fill="#000" stroke="#000" stroke-width="0.25">Gria3</text>
<line x1="671.9" y1="629.5" x2="671.9" y2="633.5" stroke="#000" stroke-width="1.2"/>
<text x="673.9" y="630" style="font-size:8.8px;font-weight:bold;" transform="rotate(-45 673.9 630)" fill="#000" stroke="#000" stroke-width="0.25">Gria4</text>
<line x1="691.9" y1="629.5" x2="691.9" y2="633.5" stroke="#000" stroke-width="1.2"/>
<text x="693.9" y="630" style="font-size:8.8px;font-weight:bold;" transform="rotate(-45 693.9 630)" fill="#000" stroke="#000" stroke-width="0.25">Grin2b</text>
<line x1="712.1" y1="629.5" x2="712.1" y2="633.5" stroke="#000" stroke-width="1.2"/>
<text x="714.1" y="630" style="font-size:8.8px;font-weight:bold;" transform="rotate(-45 714.1 630)" fill="#000" stroke="#000" stroke-width="0.25">Grm2</text>
<line x1="732.3" y1="629.5" x2="732.3" y2="633.5" stroke="#000" stroke-width="1.2"/>
<text x="734.3" y="630" style="font-size:8.8px;font-weight:bold;" transform="rotate(-45 734.3 630)" fill="#000" stroke="#000" stroke-width="0.25">Grm5</text>
<line x1="752.5" y1="629.5" x2="752.5" y2="633.5" stroke="#000" stroke-width="1.2"/>
<text x="754.5" y="630" style="font-size:8.8px;font-weight:bold;" transform="rotate(-45 754.5 630)" fill="#000" stroke="#000" stroke-width="0.25">Grik2</text>
<text x="601.7" y="567.2" style="font-size:16.4px;font-weight:bold;" text-anchor="middle" fill="#000" stroke="#000" stroke-width="0.46">Neurotransmitter Receptor Genes</text>
<text x="451" y="593.7" style="font-size:12.9px;font-weight:bold;" text-anchor="middle" fill="#000" stroke="#000" stroke-width="0.36">ACh</text>
<text x="494.8" y="593.7" style="font-size:12.9px;font-weight:bold;" text-anchor="middle" fill="#000" stroke="#000" stroke-width="0.36">DA</text>
<text x="558.7" y="593.7" style="font-size:12.9px;font-weight:bold;" text-anchor="middle" fill="#000" stroke="#000" stroke-width="0.36">GABA</text>
<text x="682.3" y="593.7" style="font-size:12.9px;font-weight:bold;" text-anchor="middle" fill="#000" stroke="#000" stroke-width="0.36">GLU</text>
<rect x="431.7" y="707.4" width="138.3" height="15" fill="url(#g4)" stroke="#000" stroke-width="1.3"/>
<line x1="431.75" y1="707.4" x2="431.75" y2="709.7" stroke="#111" stroke-width="1.1"/>
<line x1="431.75" y1="720.1" x2="431.75" y2="722.4" stroke="#111" stroke-width="1.1"/>
<text x="431.75" y="738.4" style="font-size:11.8px;" text-anchor="middle" fill="#000" stroke="#000" stroke-width="0.14">-15</text>
<line x1="474" y1="707.4" x2="474" y2="709.7" stroke="#111" stroke-width="1.1"/>
<line x1="474" y1="720.1" x2="474" y2="722.4" stroke="#111" stroke-width="1.1"/>
<text x="474" y="738.4" style="font-size:11.8px;" text-anchor="middle" fill="#000" stroke="#000" stroke-width="0.14">-10</text>
<line x1="516.25" y1="707.4" x2="516.25" y2="709.7" stroke="#111" stroke-width="1.1"/>
<line x1="516.25" y1="720.1" x2="516.25" y2="722.4" stroke="#111" stroke-width="1.1"/>
<text x="516.25" y="738.4" style="font-size:11.8px;" text-anchor="middle" fill="#000" stroke="#000" stroke-width="0.14">-5</text>
<line x1="558.5" y1="707.4" x2="558.5" y2="709.7" stroke="#111" stroke-width="1.1"/>
<line x1="558.5" y1="720.1" x2="558.5" y2="722.4" stroke="#111" stroke-width="1.1"/>
<text x="558.5" y="738.4" style="font-size:11.8px;" text-anchor="middle" fill="#000" stroke="#000" stroke-width="0.14">0</text>
<text x="573.3" y="718.8" style="font-size:11.8px;" fill="#000" stroke="#000" stroke-width="0.14">Z-score</text>
</svg></body></html>
